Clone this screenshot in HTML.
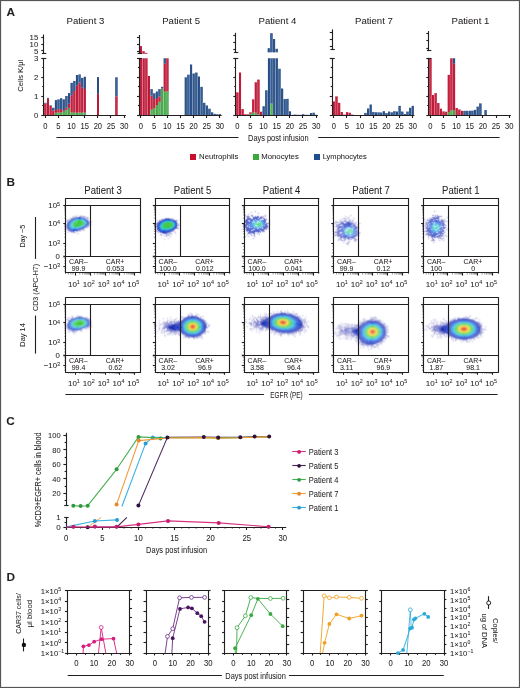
<!DOCTYPE html>
<html><head><meta charset="utf-8"><style>
html,body{margin:0;padding:0;background:#fff;}
svg{display:block;will-change:transform;}
text{font-family:"Liberation Sans", sans-serif;fill:#231f20;stroke:#231f20;stroke-width:0.05px;}
</style></head><body>
<svg width="520" height="688" viewBox="0 0 520 688">
<rect width="520" height="688" fill="#fff"/>
<rect x="0.5" y="0.5" width="519" height="687" fill="none" stroke="#555" stroke-width="1.2"/>
<text x="6.6" y="15.9" font-size="11.8" font-weight="bold" fill="#000">A</text>
<text x="6.4" y="185.6" font-size="11.8" font-weight="bold" fill="#000">B</text>
<text x="6.3" y="425.3" font-size="11.8" font-weight="bold" fill="#000">C</text>
<text x="6.4" y="580.6" font-size="11.8" font-weight="bold" fill="#000">D</text>
<rect x="44.4" y="103.6" width="2" height="11.8" fill="#d42545"/>
<rect x="44.4" y="103.6" width="0.5" height="11.8" fill="#a00c2a"/>
<rect x="46" y="103.6" width="0.4" height="11.8" fill="#a00c2a"/>
<rect x="44.4" y="102.84" width="2" height="0.76" fill="#3565a5"/>
<rect x="44.4" y="102.84" width="0.5" height="0.76" fill="#15315c"/>
<rect x="46" y="102.84" width="0.4" height="0.76" fill="#15315c"/>
<rect x="47.03" y="98.65" width="2" height="16.75" fill="#d42545"/>
<rect x="47.03" y="98.65" width="0.5" height="16.75" fill="#a00c2a"/>
<rect x="48.63" y="98.65" width="0.4" height="16.75" fill="#a00c2a"/>
<rect x="47.03" y="97.89" width="2" height="0.76" fill="#3565a5"/>
<rect x="47.03" y="97.89" width="0.5" height="0.76" fill="#15315c"/>
<rect x="48.63" y="97.89" width="0.4" height="0.76" fill="#15315c"/>
<rect x="49.66" y="105.88" width="2" height="9.52" fill="#d42545"/>
<rect x="49.66" y="105.88" width="0.5" height="9.52" fill="#a00c2a"/>
<rect x="51.26" y="105.88" width="0.4" height="9.52" fill="#a00c2a"/>
<rect x="49.66" y="105.31" width="2" height="0.57" fill="#3565a5"/>
<rect x="49.66" y="105.31" width="0.5" height="0.57" fill="#15315c"/>
<rect x="51.26" y="105.31" width="0.4" height="0.57" fill="#15315c"/>
<rect x="52.29" y="110.64" width="2" height="4.76" fill="#d42545"/>
<rect x="52.29" y="110.64" width="0.5" height="4.76" fill="#a00c2a"/>
<rect x="53.89" y="110.64" width="0.4" height="4.76" fill="#a00c2a"/>
<rect x="52.29" y="107.79" width="2" height="2.85" fill="#3565a5"/>
<rect x="52.29" y="107.79" width="0.5" height="2.85" fill="#15315c"/>
<rect x="53.89" y="107.79" width="0.4" height="2.85" fill="#15315c"/>
<rect x="54.92" y="112.55" width="2" height="2.86" fill="#56b856"/>
<rect x="54.92" y="112.55" width="0.5" height="2.86" fill="#2f8a35"/>
<rect x="56.52" y="112.55" width="0.4" height="2.86" fill="#2f8a35"/>
<rect x="54.92" y="109.88" width="2" height="2.66" fill="#d42545"/>
<rect x="54.92" y="109.88" width="0.5" height="2.66" fill="#a00c2a"/>
<rect x="56.52" y="109.88" width="0.4" height="2.66" fill="#a00c2a"/>
<rect x="54.92" y="100.17" width="2" height="9.71" fill="#3565a5"/>
<rect x="54.92" y="100.17" width="0.5" height="9.71" fill="#15315c"/>
<rect x="56.52" y="100.17" width="0.4" height="9.71" fill="#15315c"/>
<rect x="57.55" y="112.55" width="2" height="2.86" fill="#56b856"/>
<rect x="57.55" y="112.55" width="0.5" height="2.86" fill="#2f8a35"/>
<rect x="59.15" y="112.55" width="0.4" height="2.86" fill="#2f8a35"/>
<rect x="57.55" y="109.12" width="2" height="3.43" fill="#d42545"/>
<rect x="57.55" y="109.12" width="0.5" height="3.43" fill="#a00c2a"/>
<rect x="59.15" y="109.12" width="0.4" height="3.43" fill="#a00c2a"/>
<rect x="57.55" y="99.41" width="2" height="9.71" fill="#3565a5"/>
<rect x="57.55" y="99.41" width="0.5" height="9.71" fill="#15315c"/>
<rect x="59.15" y="99.41" width="0.4" height="9.71" fill="#15315c"/>
<rect x="60.18" y="112.35" width="2" height="3.05" fill="#56b856"/>
<rect x="60.18" y="112.35" width="0.5" height="3.05" fill="#2f8a35"/>
<rect x="61.78" y="112.35" width="0.4" height="3.05" fill="#2f8a35"/>
<rect x="60.18" y="109.12" width="2" height="3.24" fill="#d42545"/>
<rect x="60.18" y="109.12" width="0.5" height="3.24" fill="#a00c2a"/>
<rect x="61.78" y="109.12" width="0.4" height="3.24" fill="#a00c2a"/>
<rect x="60.18" y="98.27" width="2" height="10.85" fill="#3565a5"/>
<rect x="60.18" y="98.27" width="0.5" height="10.85" fill="#15315c"/>
<rect x="61.78" y="98.27" width="0.4" height="10.85" fill="#15315c"/>
<rect x="62.81" y="111.59" width="2" height="3.81" fill="#56b856"/>
<rect x="62.81" y="111.59" width="0.5" height="3.81" fill="#2f8a35"/>
<rect x="64.41" y="111.59" width="0.4" height="3.81" fill="#2f8a35"/>
<rect x="62.81" y="110.64" width="2" height="0.95" fill="#d42545"/>
<rect x="62.81" y="110.64" width="0.5" height="0.95" fill="#a00c2a"/>
<rect x="64.41" y="110.64" width="0.4" height="0.95" fill="#a00c2a"/>
<rect x="62.81" y="99.41" width="2" height="11.23" fill="#3565a5"/>
<rect x="62.81" y="99.41" width="0.5" height="11.23" fill="#15315c"/>
<rect x="64.41" y="99.41" width="0.4" height="11.23" fill="#15315c"/>
<rect x="65.44" y="109.88" width="2" height="5.52" fill="#56b856"/>
<rect x="65.44" y="109.88" width="0.5" height="5.52" fill="#2f8a35"/>
<rect x="67.04" y="109.88" width="0.4" height="5.52" fill="#2f8a35"/>
<rect x="65.44" y="107.79" width="2" height="2.09" fill="#d42545"/>
<rect x="65.44" y="107.79" width="0.5" height="2.09" fill="#a00c2a"/>
<rect x="67.04" y="107.79" width="0.4" height="2.09" fill="#a00c2a"/>
<rect x="65.44" y="95.99" width="2" height="11.8" fill="#3565a5"/>
<rect x="65.44" y="95.99" width="0.5" height="11.8" fill="#15315c"/>
<rect x="67.04" y="95.99" width="0.4" height="11.8" fill="#15315c"/>
<rect x="68.07" y="107.79" width="2" height="7.61" fill="#56b856"/>
<rect x="68.07" y="107.79" width="0.5" height="7.61" fill="#2f8a35"/>
<rect x="69.67" y="107.79" width="0.4" height="7.61" fill="#2f8a35"/>
<rect x="68.07" y="103.6" width="2" height="4.19" fill="#d42545"/>
<rect x="68.07" y="103.6" width="0.5" height="4.19" fill="#a00c2a"/>
<rect x="69.67" y="103.6" width="0.4" height="4.19" fill="#a00c2a"/>
<rect x="68.07" y="93.13" width="2" height="10.47" fill="#3565a5"/>
<rect x="68.07" y="93.13" width="0.5" height="10.47" fill="#15315c"/>
<rect x="69.67" y="93.13" width="0.4" height="10.47" fill="#15315c"/>
<rect x="70.7" y="112.55" width="2" height="2.86" fill="#56b856"/>
<rect x="70.7" y="112.55" width="0.5" height="2.86" fill="#2f8a35"/>
<rect x="72.3" y="112.55" width="0.4" height="2.86" fill="#2f8a35"/>
<rect x="70.7" y="95.22" width="2" height="17.32" fill="#d42545"/>
<rect x="70.7" y="95.22" width="0.5" height="17.32" fill="#a00c2a"/>
<rect x="72.3" y="95.22" width="0.4" height="17.32" fill="#a00c2a"/>
<rect x="70.7" y="82.85" width="2" height="12.37" fill="#3565a5"/>
<rect x="70.7" y="82.85" width="0.5" height="12.37" fill="#15315c"/>
<rect x="72.3" y="82.85" width="0.4" height="12.37" fill="#15315c"/>
<rect x="73.33" y="112.55" width="2" height="2.86" fill="#56b856"/>
<rect x="73.33" y="112.55" width="0.5" height="2.86" fill="#2f8a35"/>
<rect x="74.93" y="112.55" width="0.4" height="2.86" fill="#2f8a35"/>
<rect x="73.33" y="91.04" width="2" height="21.51" fill="#d42545"/>
<rect x="73.33" y="91.04" width="0.5" height="21.51" fill="#a00c2a"/>
<rect x="74.93" y="91.04" width="0.4" height="21.51" fill="#a00c2a"/>
<rect x="73.33" y="80.95" width="2" height="10.09" fill="#3565a5"/>
<rect x="73.33" y="80.95" width="0.5" height="10.09" fill="#15315c"/>
<rect x="74.93" y="80.95" width="0.4" height="10.09" fill="#15315c"/>
<rect x="75.96" y="112.55" width="2" height="2.86" fill="#56b856"/>
<rect x="75.96" y="112.55" width="0.5" height="2.86" fill="#2f8a35"/>
<rect x="77.56" y="112.55" width="0.4" height="2.86" fill="#2f8a35"/>
<rect x="75.96" y="85.52" width="2" height="27.03" fill="#d42545"/>
<rect x="75.96" y="85.52" width="0.5" height="27.03" fill="#a00c2a"/>
<rect x="77.56" y="85.52" width="0.4" height="27.03" fill="#a00c2a"/>
<rect x="75.96" y="75.05" width="2" height="10.47" fill="#3565a5"/>
<rect x="75.96" y="75.05" width="0.5" height="10.47" fill="#15315c"/>
<rect x="77.56" y="75.05" width="0.4" height="10.47" fill="#15315c"/>
<rect x="78.59" y="112.55" width="2" height="2.86" fill="#56b856"/>
<rect x="78.59" y="112.55" width="0.5" height="2.86" fill="#2f8a35"/>
<rect x="80.19" y="112.55" width="0.4" height="2.86" fill="#2f8a35"/>
<rect x="78.59" y="82.66" width="2" height="29.88" fill="#d42545"/>
<rect x="78.59" y="82.66" width="0.5" height="29.88" fill="#a00c2a"/>
<rect x="80.19" y="82.66" width="0.4" height="29.88" fill="#a00c2a"/>
<rect x="78.59" y="74.48" width="2" height="8.18" fill="#3565a5"/>
<rect x="78.59" y="74.48" width="0.5" height="8.18" fill="#15315c"/>
<rect x="80.19" y="74.48" width="0.4" height="8.18" fill="#15315c"/>
<rect x="81.22" y="112.55" width="2" height="2.86" fill="#56b856"/>
<rect x="81.22" y="112.55" width="0.5" height="2.86" fill="#2f8a35"/>
<rect x="82.82" y="112.55" width="0.4" height="2.86" fill="#2f8a35"/>
<rect x="81.22" y="87.42" width="2" height="25.12" fill="#d42545"/>
<rect x="81.22" y="87.42" width="0.5" height="25.12" fill="#a00c2a"/>
<rect x="82.82" y="87.42" width="0.4" height="25.12" fill="#a00c2a"/>
<rect x="81.22" y="77.9" width="2" height="9.52" fill="#3565a5"/>
<rect x="81.22" y="77.9" width="0.5" height="9.52" fill="#15315c"/>
<rect x="82.82" y="77.9" width="0.4" height="9.52" fill="#15315c"/>
<rect x="83.85" y="112.55" width="2" height="2.86" fill="#56b856"/>
<rect x="83.85" y="112.55" width="0.5" height="2.86" fill="#2f8a35"/>
<rect x="85.45" y="112.55" width="0.4" height="2.86" fill="#2f8a35"/>
<rect x="83.85" y="88.94" width="2" height="23.6" fill="#d42545"/>
<rect x="83.85" y="88.94" width="0.5" height="23.6" fill="#a00c2a"/>
<rect x="85.45" y="88.94" width="0.4" height="23.6" fill="#a00c2a"/>
<rect x="83.85" y="76.76" width="2" height="12.18" fill="#3565a5"/>
<rect x="83.85" y="76.76" width="0.5" height="12.18" fill="#15315c"/>
<rect x="85.45" y="76.76" width="0.4" height="12.18" fill="#15315c"/>
<rect x="97" y="93.7" width="2" height="21.7" fill="#d42545"/>
<rect x="97" y="93.7" width="0.5" height="21.7" fill="#a00c2a"/>
<rect x="98.6" y="93.7" width="0.4" height="21.7" fill="#a00c2a"/>
<rect x="97" y="77.14" width="2" height="16.56" fill="#3565a5"/>
<rect x="97" y="77.14" width="0.5" height="16.56" fill="#15315c"/>
<rect x="98.6" y="77.14" width="0.4" height="16.56" fill="#15315c"/>
<rect x="115.41" y="96.37" width="2" height="19.03" fill="#d42545"/>
<rect x="115.41" y="96.37" width="0.5" height="19.03" fill="#a00c2a"/>
<rect x="117.01" y="96.37" width="0.4" height="19.03" fill="#a00c2a"/>
<rect x="115.41" y="77.33" width="2" height="19.03" fill="#3565a5"/>
<rect x="115.41" y="77.33" width="0.5" height="19.03" fill="#15315c"/>
<rect x="117.01" y="77.33" width="0.4" height="19.03" fill="#15315c"/>
<text x="85.4" y="23.95" font-size="9.9" text-anchor="middle" textLength="37.8" lengthAdjust="spacingAndGlyphs">Patient 3</text>
<line x1="43.5" y1="58.3" x2="43.5" y2="115.9" stroke="#231f20" stroke-width="1.12"/>
<line x1="41.9" y1="58.5" x2="46.3" y2="58.5" stroke="#231f20" stroke-width="1.12"/>
<line x1="41.3" y1="115.5" x2="43.9" y2="115.5" stroke="#231f20" stroke-width="1.12"/>
<line x1="41.3" y1="96.5" x2="43.9" y2="96.5" stroke="#231f20" stroke-width="1.12"/>
<line x1="41.3" y1="77.5" x2="43.9" y2="77.5" stroke="#231f20" stroke-width="1.12"/>
<line x1="41.3" y1="58.5" x2="43.9" y2="58.5" stroke="#231f20" stroke-width="1.12"/>
<line x1="42.2" y1="105.5" x2="43.9" y2="105.5" stroke="#231f20" stroke-width="1.12"/>
<line x1="42.2" y1="86.5" x2="43.9" y2="86.5" stroke="#231f20" stroke-width="1.12"/>
<line x1="42.2" y1="67.5" x2="43.9" y2="67.5" stroke="#231f20" stroke-width="1.12"/>
<line x1="43.5" y1="34.5" x2="43.5" y2="53.4" stroke="#231f20" stroke-width="1.12"/>
<line x1="41.9" y1="53.5" x2="46.3" y2="53.5" stroke="#231f20" stroke-width="1.12"/>
<line x1="41.3" y1="37.5" x2="43.9" y2="37.5" stroke="#231f20" stroke-width="1.12"/>
<line x1="41.3" y1="44.5" x2="43.9" y2="44.5" stroke="#231f20" stroke-width="1.12"/>
<line x1="41.3" y1="50.5" x2="43.9" y2="50.5" stroke="#231f20" stroke-width="1.12"/>
<line x1="43.9" y1="115.5" x2="125.9" y2="115.5" stroke="#231f20" stroke-width="1.12"/>
<line x1="45.5" y1="115.4" x2="45.5" y2="118" stroke="#231f20" stroke-width="1.12"/>
<text x="45.25" y="128.6" font-size="8.6" text-anchor="middle" textLength="4.23" lengthAdjust="spacingAndGlyphs">0</text>
<line x1="58.5" y1="115.4" x2="58.5" y2="118" stroke="#231f20" stroke-width="1.12"/>
<text x="58.4" y="128.6" font-size="8.6" text-anchor="middle" textLength="4.23" lengthAdjust="spacingAndGlyphs">5</text>
<line x1="71.5" y1="115.4" x2="71.5" y2="118" stroke="#231f20" stroke-width="1.12"/>
<text x="71.55" y="128.6" font-size="8.6" text-anchor="middle" textLength="8.45" lengthAdjust="spacingAndGlyphs">10</text>
<line x1="84.5" y1="115.4" x2="84.5" y2="118" stroke="#231f20" stroke-width="1.12"/>
<text x="84.7" y="128.6" font-size="8.6" text-anchor="middle" textLength="8.45" lengthAdjust="spacingAndGlyphs">15</text>
<line x1="97.5" y1="115.4" x2="97.5" y2="118" stroke="#231f20" stroke-width="1.12"/>
<text x="97.85" y="128.6" font-size="8.6" text-anchor="middle" textLength="8.45" lengthAdjust="spacingAndGlyphs">20</text>
<line x1="110.5" y1="115.4" x2="110.5" y2="118" stroke="#231f20" stroke-width="1.12"/>
<text x="111" y="128.6" font-size="8.6" text-anchor="middle" textLength="8.45" lengthAdjust="spacingAndGlyphs">25</text>
<line x1="124.5" y1="115.4" x2="124.5" y2="118" stroke="#231f20" stroke-width="1.12"/>
<text x="124.15" y="128.6" font-size="8.6" text-anchor="middle" textLength="8.45" lengthAdjust="spacingAndGlyphs">30</text>
<text x="38.3" y="39.85" font-size="7.8" text-anchor="end">15</text>
<text x="38.3" y="46.95" font-size="7.8" text-anchor="end">10</text>
<text x="38.3" y="53.65" font-size="7.8" text-anchor="end">5</text>
<text x="38.3" y="61.05" font-size="7.8" text-anchor="end">3</text>
<text x="38.3" y="80.08" font-size="7.8" text-anchor="end">2</text>
<text x="38.3" y="99.12" font-size="7.8" text-anchor="end">1</text>
<text x="38.3" y="118.15" font-size="7.8" text-anchor="end">0</text>
<text transform="translate(23.3,75.7) rotate(-90)" x="0" y="0" font-size="7.6" text-anchor="middle" textLength="32" lengthAdjust="spacingAndGlyphs">Cells K/μl</text>
<rect x="140.1" y="58.3" width="2" height="57.1" fill="#d42545"/>
<rect x="140.1" y="58.3" width="0.5" height="57.1" fill="#a00c2a"/>
<rect x="141.7" y="58.3" width="0.4" height="57.1" fill="#a00c2a"/>
<rect x="142.73" y="58.3" width="2" height="57.1" fill="#d42545"/>
<rect x="142.73" y="58.3" width="0.5" height="57.1" fill="#a00c2a"/>
<rect x="144.33" y="58.3" width="0.4" height="57.1" fill="#a00c2a"/>
<rect x="145.36" y="58.3" width="2" height="57.1" fill="#d42545"/>
<rect x="145.36" y="58.3" width="0.5" height="57.1" fill="#a00c2a"/>
<rect x="146.96" y="58.3" width="0.4" height="57.1" fill="#a00c2a"/>
<rect x="147.99" y="76" width="2" height="39.4" fill="#d42545"/>
<rect x="147.99" y="76" width="0.5" height="39.4" fill="#a00c2a"/>
<rect x="149.59" y="76" width="0.4" height="39.4" fill="#a00c2a"/>
<rect x="150.62" y="109.69" width="2" height="5.71" fill="#56b856"/>
<rect x="150.62" y="109.69" width="0.5" height="5.71" fill="#2f8a35"/>
<rect x="152.22" y="109.69" width="0.4" height="5.71" fill="#2f8a35"/>
<rect x="150.62" y="95.61" width="2" height="14.08" fill="#d42545"/>
<rect x="150.62" y="95.61" width="0.5" height="14.08" fill="#a00c2a"/>
<rect x="152.22" y="95.61" width="0.4" height="14.08" fill="#a00c2a"/>
<rect x="150.62" y="89.13" width="2" height="6.47" fill="#3565a5"/>
<rect x="150.62" y="89.13" width="0.5" height="6.47" fill="#15315c"/>
<rect x="152.22" y="89.13" width="0.4" height="6.47" fill="#15315c"/>
<rect x="153.25" y="108.17" width="2" height="7.23" fill="#56b856"/>
<rect x="153.25" y="108.17" width="0.5" height="7.23" fill="#2f8a35"/>
<rect x="154.85" y="108.17" width="0.4" height="7.23" fill="#2f8a35"/>
<rect x="153.25" y="99.03" width="2" height="9.14" fill="#d42545"/>
<rect x="153.25" y="99.03" width="0.5" height="9.14" fill="#a00c2a"/>
<rect x="154.85" y="99.03" width="0.4" height="9.14" fill="#a00c2a"/>
<rect x="153.25" y="93.32" width="2" height="5.71" fill="#3565a5"/>
<rect x="153.25" y="93.32" width="0.5" height="5.71" fill="#15315c"/>
<rect x="154.85" y="93.32" width="0.4" height="5.71" fill="#15315c"/>
<rect x="155.88" y="105.12" width="2" height="10.28" fill="#56b856"/>
<rect x="155.88" y="105.12" width="0.5" height="10.28" fill="#2f8a35"/>
<rect x="157.48" y="105.12" width="0.4" height="10.28" fill="#2f8a35"/>
<rect x="155.88" y="98.08" width="2" height="7.04" fill="#d42545"/>
<rect x="155.88" y="98.08" width="0.5" height="7.04" fill="#a00c2a"/>
<rect x="157.48" y="98.08" width="0.4" height="7.04" fill="#a00c2a"/>
<rect x="155.88" y="91.61" width="2" height="6.47" fill="#3565a5"/>
<rect x="155.88" y="91.61" width="0.5" height="6.47" fill="#15315c"/>
<rect x="157.48" y="91.61" width="0.4" height="6.47" fill="#15315c"/>
<rect x="158.51" y="101.89" width="2" height="13.51" fill="#56b856"/>
<rect x="158.51" y="101.89" width="0.5" height="13.51" fill="#2f8a35"/>
<rect x="160.11" y="101.89" width="0.4" height="13.51" fill="#2f8a35"/>
<rect x="158.51" y="96.37" width="2" height="5.52" fill="#d42545"/>
<rect x="158.51" y="96.37" width="0.5" height="5.52" fill="#a00c2a"/>
<rect x="160.11" y="96.37" width="0.4" height="5.52" fill="#a00c2a"/>
<rect x="158.51" y="89.13" width="2" height="7.23" fill="#3565a5"/>
<rect x="158.51" y="89.13" width="0.5" height="7.23" fill="#15315c"/>
<rect x="160.11" y="89.13" width="0.4" height="7.23" fill="#15315c"/>
<rect x="161.14" y="88.37" width="2" height="27.03" fill="#56b856"/>
<rect x="161.14" y="88.37" width="0.5" height="27.03" fill="#2f8a35"/>
<rect x="162.74" y="88.37" width="0.4" height="27.03" fill="#2f8a35"/>
<rect x="161.14" y="86.85" width="2" height="1.52" fill="#3565a5"/>
<rect x="161.14" y="86.85" width="0.5" height="1.52" fill="#15315c"/>
<rect x="162.74" y="86.85" width="0.4" height="1.52" fill="#15315c"/>
<rect x="163.77" y="91.42" width="2" height="23.98" fill="#56b856"/>
<rect x="163.77" y="91.42" width="0.5" height="23.98" fill="#2f8a35"/>
<rect x="165.37" y="91.42" width="0.4" height="23.98" fill="#2f8a35"/>
<rect x="163.77" y="63.63" width="2" height="27.79" fill="#d42545"/>
<rect x="163.77" y="63.63" width="0.5" height="27.79" fill="#a00c2a"/>
<rect x="165.37" y="63.63" width="0.4" height="27.79" fill="#a00c2a"/>
<rect x="163.77" y="58.3" width="2" height="5.33" fill="#3565a5"/>
<rect x="163.77" y="58.3" width="0.5" height="5.33" fill="#15315c"/>
<rect x="165.37" y="58.3" width="0.4" height="5.33" fill="#15315c"/>
<rect x="166.4" y="91.42" width="2" height="23.98" fill="#56b856"/>
<rect x="166.4" y="91.42" width="0.5" height="23.98" fill="#2f8a35"/>
<rect x="168" y="91.42" width="0.4" height="23.98" fill="#2f8a35"/>
<rect x="166.4" y="58.3" width="2" height="33.12" fill="#d42545"/>
<rect x="166.4" y="58.3" width="0.5" height="33.12" fill="#a00c2a"/>
<rect x="168" y="58.3" width="0.4" height="33.12" fill="#a00c2a"/>
<rect x="184.81" y="77.33" width="2" height="38.07" fill="#3565a5"/>
<rect x="184.81" y="77.33" width="0.5" height="38.07" fill="#15315c"/>
<rect x="186.41" y="77.33" width="0.4" height="38.07" fill="#15315c"/>
<rect x="187.44" y="74.67" width="2" height="40.73" fill="#3565a5"/>
<rect x="187.44" y="74.67" width="0.5" height="40.73" fill="#15315c"/>
<rect x="189.04" y="74.67" width="0.4" height="40.73" fill="#15315c"/>
<rect x="190.07" y="64.58" width="2" height="50.82" fill="#3565a5"/>
<rect x="190.07" y="64.58" width="0.5" height="50.82" fill="#15315c"/>
<rect x="191.67" y="64.58" width="0.4" height="50.82" fill="#15315c"/>
<rect x="192.7" y="73.53" width="2" height="41.87" fill="#3565a5"/>
<rect x="192.7" y="73.53" width="0.5" height="41.87" fill="#15315c"/>
<rect x="194.3" y="73.53" width="0.4" height="41.87" fill="#15315c"/>
<rect x="195.33" y="72.58" width="2" height="42.83" fill="#3565a5"/>
<rect x="195.33" y="72.58" width="0.5" height="42.83" fill="#15315c"/>
<rect x="196.93" y="72.58" width="0.4" height="42.83" fill="#15315c"/>
<rect x="197.96" y="76.57" width="2" height="38.83" fill="#3565a5"/>
<rect x="197.96" y="76.57" width="0.5" height="38.83" fill="#15315c"/>
<rect x="199.56" y="76.57" width="0.4" height="38.83" fill="#15315c"/>
<rect x="200.59" y="86.85" width="2" height="28.55" fill="#3565a5"/>
<rect x="200.59" y="86.85" width="0.5" height="28.55" fill="#15315c"/>
<rect x="202.19" y="86.85" width="0.4" height="28.55" fill="#15315c"/>
<rect x="203.22" y="102.84" width="2" height="12.56" fill="#3565a5"/>
<rect x="203.22" y="102.84" width="0.5" height="12.56" fill="#15315c"/>
<rect x="204.82" y="102.84" width="0.4" height="12.56" fill="#15315c"/>
<rect x="205.85" y="105.5" width="2" height="9.9" fill="#3565a5"/>
<rect x="205.85" y="105.5" width="0.5" height="9.9" fill="#15315c"/>
<rect x="207.45" y="105.5" width="0.4" height="9.9" fill="#15315c"/>
<rect x="208.48" y="108.74" width="2" height="6.66" fill="#3565a5"/>
<rect x="208.48" y="108.74" width="0.5" height="6.66" fill="#15315c"/>
<rect x="210.08" y="108.74" width="0.4" height="6.66" fill="#15315c"/>
<rect x="211.11" y="112.35" width="2" height="3.05" fill="#3565a5"/>
<rect x="211.11" y="112.35" width="0.5" height="3.05" fill="#15315c"/>
<rect x="212.71" y="112.35" width="0.4" height="3.05" fill="#15315c"/>
<rect x="213.74" y="113.88" width="2" height="1.52" fill="#3565a5"/>
<rect x="213.74" y="113.88" width="0.5" height="1.52" fill="#15315c"/>
<rect x="215.34" y="113.88" width="0.4" height="1.52" fill="#15315c"/>
<rect x="216.37" y="114.26" width="2" height="1.14" fill="#3565a5"/>
<rect x="216.37" y="114.26" width="0.5" height="1.14" fill="#15315c"/>
<rect x="217.97" y="114.26" width="0.4" height="1.14" fill="#15315c"/>
<rect x="219" y="114.26" width="2" height="1.14" fill="#3565a5"/>
<rect x="219" y="114.26" width="0.5" height="1.14" fill="#15315c"/>
<rect x="220.6" y="114.26" width="0.4" height="1.14" fill="#15315c"/>
<rect x="139.95" y="46.2" width="2" height="7.6" fill="#d42545"/>
<rect x="139.95" y="46.2" width="0.5" height="7.6" fill="#a00c2a"/>
<rect x="141.55" y="46.2" width="0.4" height="7.6" fill="#a00c2a"/>
<rect x="142.58" y="51.2" width="2" height="2.6" fill="#d42545"/>
<rect x="142.58" y="51.2" width="0.5" height="2.6" fill="#a00c2a"/>
<rect x="144.18" y="51.2" width="0.4" height="2.6" fill="#a00c2a"/>
<rect x="145.21" y="52.9" width="2" height="0.9" fill="#d42545"/>
<rect x="145.21" y="52.9" width="0.5" height="0.9" fill="#a00c2a"/>
<rect x="146.81" y="52.9" width="0.4" height="0.9" fill="#a00c2a"/>
<text x="181.1" y="23.95" font-size="9.9" text-anchor="middle" textLength="37.8" lengthAdjust="spacingAndGlyphs">Patient 5</text>
<line x1="139.5" y1="58.3" x2="139.5" y2="115.9" stroke="#231f20" stroke-width="1.12"/>
<line x1="137.6" y1="58.5" x2="142" y2="58.5" stroke="#231f20" stroke-width="1.12"/>
<line x1="137" y1="115.5" x2="139.6" y2="115.5" stroke="#231f20" stroke-width="1.12"/>
<line x1="137" y1="96.5" x2="139.6" y2="96.5" stroke="#231f20" stroke-width="1.12"/>
<line x1="137" y1="77.5" x2="139.6" y2="77.5" stroke="#231f20" stroke-width="1.12"/>
<line x1="137" y1="58.5" x2="139.6" y2="58.5" stroke="#231f20" stroke-width="1.12"/>
<line x1="137.9" y1="105.5" x2="139.6" y2="105.5" stroke="#231f20" stroke-width="1.12"/>
<line x1="137.9" y1="86.5" x2="139.6" y2="86.5" stroke="#231f20" stroke-width="1.12"/>
<line x1="137.9" y1="67.5" x2="139.6" y2="67.5" stroke="#231f20" stroke-width="1.12"/>
<line x1="139.5" y1="35" x2="139.5" y2="53.8" stroke="#231f20" stroke-width="1.12"/>
<line x1="137.6" y1="53.5" x2="142" y2="53.5" stroke="#231f20" stroke-width="1.12"/>
<line x1="137" y1="37.5" x2="139.6" y2="37.5" stroke="#231f20" stroke-width="1.12"/>
<line x1="137" y1="44.5" x2="139.6" y2="44.5" stroke="#231f20" stroke-width="1.12"/>
<line x1="137" y1="51.5" x2="139.6" y2="51.5" stroke="#231f20" stroke-width="1.12"/>
<line x1="139.6" y1="115.5" x2="221.6" y2="115.5" stroke="#231f20" stroke-width="1.12"/>
<line x1="140.5" y1="115.4" x2="140.5" y2="118" stroke="#231f20" stroke-width="1.12"/>
<text x="140.95" y="128.6" font-size="8.6" text-anchor="middle" textLength="4.23" lengthAdjust="spacingAndGlyphs">0</text>
<line x1="154.5" y1="115.4" x2="154.5" y2="118" stroke="#231f20" stroke-width="1.12"/>
<text x="154.1" y="128.6" font-size="8.6" text-anchor="middle" textLength="4.23" lengthAdjust="spacingAndGlyphs">5</text>
<line x1="167.5" y1="115.4" x2="167.5" y2="118" stroke="#231f20" stroke-width="1.12"/>
<text x="167.25" y="128.6" font-size="8.6" text-anchor="middle" textLength="8.45" lengthAdjust="spacingAndGlyphs">10</text>
<line x1="180.5" y1="115.4" x2="180.5" y2="118" stroke="#231f20" stroke-width="1.12"/>
<text x="180.4" y="128.6" font-size="8.6" text-anchor="middle" textLength="8.45" lengthAdjust="spacingAndGlyphs">15</text>
<line x1="193.5" y1="115.4" x2="193.5" y2="118" stroke="#231f20" stroke-width="1.12"/>
<text x="193.55" y="128.6" font-size="8.6" text-anchor="middle" textLength="8.45" lengthAdjust="spacingAndGlyphs">20</text>
<line x1="206.5" y1="115.4" x2="206.5" y2="118" stroke="#231f20" stroke-width="1.12"/>
<text x="206.7" y="128.6" font-size="8.6" text-anchor="middle" textLength="8.45" lengthAdjust="spacingAndGlyphs">25</text>
<line x1="219.5" y1="115.4" x2="219.5" y2="118" stroke="#231f20" stroke-width="1.12"/>
<text x="219.85" y="128.6" font-size="8.6" text-anchor="middle" textLength="8.45" lengthAdjust="spacingAndGlyphs">30</text>
<rect x="236.4" y="92.37" width="2" height="23.03" fill="#d42545"/>
<rect x="236.4" y="92.37" width="0.5" height="23.03" fill="#a00c2a"/>
<rect x="238" y="92.37" width="0.4" height="23.03" fill="#a00c2a"/>
<rect x="239.03" y="72.58" width="2" height="42.83" fill="#d42545"/>
<rect x="239.03" y="72.58" width="0.5" height="42.83" fill="#a00c2a"/>
<rect x="240.63" y="72.58" width="0.4" height="42.83" fill="#a00c2a"/>
<rect x="241.66" y="109.12" width="2" height="6.28" fill="#d42545"/>
<rect x="241.66" y="109.12" width="0.5" height="6.28" fill="#a00c2a"/>
<rect x="243.26" y="109.12" width="0.4" height="6.28" fill="#a00c2a"/>
<rect x="244.29" y="114.26" width="2" height="1.14" fill="#d42545"/>
<rect x="244.29" y="114.26" width="0.5" height="1.14" fill="#a00c2a"/>
<rect x="245.89" y="114.26" width="0.4" height="1.14" fill="#a00c2a"/>
<rect x="246.92" y="114.45" width="2" height="0.95" fill="#d42545"/>
<rect x="246.92" y="114.45" width="0.5" height="0.95" fill="#a00c2a"/>
<rect x="248.52" y="114.45" width="0.4" height="0.95" fill="#a00c2a"/>
<rect x="249.55" y="113.88" width="2" height="1.52" fill="#56b856"/>
<rect x="249.55" y="113.88" width="0.5" height="1.52" fill="#2f8a35"/>
<rect x="251.15" y="113.88" width="0.4" height="1.52" fill="#2f8a35"/>
<rect x="249.55" y="112.35" width="2" height="1.52" fill="#d42545"/>
<rect x="249.55" y="112.35" width="0.5" height="1.52" fill="#a00c2a"/>
<rect x="251.15" y="112.35" width="0.4" height="1.52" fill="#a00c2a"/>
<rect x="252.18" y="112.55" width="2" height="2.86" fill="#56b856"/>
<rect x="252.18" y="112.55" width="0.5" height="2.86" fill="#2f8a35"/>
<rect x="253.78" y="112.55" width="0.4" height="2.86" fill="#2f8a35"/>
<rect x="252.18" y="99.41" width="2" height="13.13" fill="#d42545"/>
<rect x="252.18" y="99.41" width="0.5" height="13.13" fill="#a00c2a"/>
<rect x="253.78" y="99.41" width="0.4" height="13.13" fill="#a00c2a"/>
<rect x="254.81" y="112.55" width="2" height="2.86" fill="#56b856"/>
<rect x="254.81" y="112.55" width="0.5" height="2.86" fill="#2f8a35"/>
<rect x="256.41" y="112.55" width="0.4" height="2.86" fill="#2f8a35"/>
<rect x="254.81" y="82.28" width="2" height="30.26" fill="#d42545"/>
<rect x="254.81" y="82.28" width="0.5" height="30.26" fill="#a00c2a"/>
<rect x="256.41" y="82.28" width="0.4" height="30.26" fill="#a00c2a"/>
<rect x="257.44" y="114.45" width="2" height="0.95" fill="#56b856"/>
<rect x="257.44" y="114.45" width="0.5" height="0.95" fill="#2f8a35"/>
<rect x="259.04" y="114.45" width="0.4" height="0.95" fill="#2f8a35"/>
<rect x="257.44" y="79.62" width="2" height="34.83" fill="#d42545"/>
<rect x="257.44" y="79.62" width="0.5" height="34.83" fill="#a00c2a"/>
<rect x="259.04" y="79.62" width="0.4" height="34.83" fill="#a00c2a"/>
<rect x="260.07" y="111.78" width="2" height="3.62" fill="#d42545"/>
<rect x="260.07" y="111.78" width="0.5" height="3.62" fill="#a00c2a"/>
<rect x="261.67" y="111.78" width="0.4" height="3.62" fill="#a00c2a"/>
<rect x="262.7" y="106.26" width="2" height="9.14" fill="#3565a5"/>
<rect x="262.7" y="106.26" width="0.5" height="9.14" fill="#15315c"/>
<rect x="264.3" y="106.26" width="0.4" height="9.14" fill="#15315c"/>
<rect x="265.33" y="90.28" width="2" height="25.12" fill="#3565a5"/>
<rect x="265.33" y="90.28" width="0.5" height="25.12" fill="#15315c"/>
<rect x="266.93" y="90.28" width="0.4" height="25.12" fill="#15315c"/>
<rect x="267.96" y="58.3" width="2" height="57.1" fill="#3565a5"/>
<rect x="267.96" y="58.3" width="0.5" height="57.1" fill="#15315c"/>
<rect x="269.56" y="58.3" width="0.4" height="57.1" fill="#15315c"/>
<rect x="270.59" y="103.6" width="2" height="11.8" fill="#56b856"/>
<rect x="270.59" y="103.6" width="0.5" height="11.8" fill="#2f8a35"/>
<rect x="272.19" y="103.6" width="0.4" height="11.8" fill="#2f8a35"/>
<rect x="270.59" y="58.3" width="2" height="45.3" fill="#3565a5"/>
<rect x="270.59" y="58.3" width="0.5" height="45.3" fill="#15315c"/>
<rect x="272.19" y="58.3" width="0.4" height="45.3" fill="#15315c"/>
<rect x="273.22" y="58.3" width="2" height="57.1" fill="#3565a5"/>
<rect x="273.22" y="58.3" width="0.5" height="57.1" fill="#15315c"/>
<rect x="274.82" y="58.3" width="0.4" height="57.1" fill="#15315c"/>
<rect x="275.85" y="58.3" width="2" height="57.1" fill="#3565a5"/>
<rect x="275.85" y="58.3" width="0.5" height="57.1" fill="#15315c"/>
<rect x="277.45" y="58.3" width="0.4" height="57.1" fill="#15315c"/>
<rect x="278.48" y="68.77" width="2" height="46.63" fill="#3565a5"/>
<rect x="278.48" y="68.77" width="0.5" height="46.63" fill="#15315c"/>
<rect x="280.08" y="68.77" width="0.4" height="46.63" fill="#15315c"/>
<rect x="281.11" y="88.56" width="2" height="26.84" fill="#3565a5"/>
<rect x="281.11" y="88.56" width="0.5" height="26.84" fill="#15315c"/>
<rect x="282.71" y="88.56" width="0.4" height="26.84" fill="#15315c"/>
<rect x="283.74" y="99.03" width="2" height="16.37" fill="#3565a5"/>
<rect x="283.74" y="99.03" width="0.5" height="16.37" fill="#15315c"/>
<rect x="285.34" y="99.03" width="0.4" height="16.37" fill="#15315c"/>
<rect x="286.37" y="98.84" width="2" height="16.56" fill="#3565a5"/>
<rect x="286.37" y="98.84" width="0.5" height="16.56" fill="#15315c"/>
<rect x="287.97" y="98.84" width="0.4" height="16.56" fill="#15315c"/>
<rect x="289" y="111.4" width="2" height="4" fill="#3565a5"/>
<rect x="289" y="111.4" width="0.5" height="4" fill="#15315c"/>
<rect x="290.6" y="111.4" width="0.4" height="4" fill="#15315c"/>
<rect x="291.63" y="114.83" width="2" height="0.57" fill="#3565a5"/>
<rect x="291.63" y="114.83" width="0.5" height="0.57" fill="#15315c"/>
<rect x="293.23" y="114.83" width="0.4" height="0.57" fill="#15315c"/>
<rect x="294.26" y="114.64" width="2" height="0.76" fill="#3565a5"/>
<rect x="294.26" y="114.64" width="0.5" height="0.76" fill="#15315c"/>
<rect x="295.86" y="114.64" width="0.4" height="0.76" fill="#15315c"/>
<rect x="296.89" y="114.83" width="2" height="0.57" fill="#3565a5"/>
<rect x="296.89" y="114.83" width="0.5" height="0.57" fill="#15315c"/>
<rect x="298.49" y="114.83" width="0.4" height="0.57" fill="#15315c"/>
<rect x="299.52" y="114.83" width="2" height="0.57" fill="#3565a5"/>
<rect x="299.52" y="114.83" width="0.5" height="0.57" fill="#15315c"/>
<rect x="301.12" y="114.83" width="0.4" height="0.57" fill="#15315c"/>
<rect x="302.15" y="114.26" width="2" height="1.14" fill="#3565a5"/>
<rect x="302.15" y="114.26" width="0.5" height="1.14" fill="#15315c"/>
<rect x="303.75" y="114.26" width="0.4" height="1.14" fill="#15315c"/>
<rect x="304.78" y="114.83" width="2" height="0.57" fill="#3565a5"/>
<rect x="304.78" y="114.83" width="0.5" height="0.57" fill="#15315c"/>
<rect x="306.38" y="114.83" width="0.4" height="0.57" fill="#15315c"/>
<rect x="307.41" y="114.83" width="2" height="0.57" fill="#3565a5"/>
<rect x="307.41" y="114.83" width="0.5" height="0.57" fill="#15315c"/>
<rect x="309.01" y="114.83" width="0.4" height="0.57" fill="#15315c"/>
<rect x="310.04" y="113.12" width="2" height="2.28" fill="#3565a5"/>
<rect x="310.04" y="113.12" width="0.5" height="2.28" fill="#15315c"/>
<rect x="311.64" y="113.12" width="0.4" height="2.28" fill="#15315c"/>
<rect x="312.67" y="112.74" width="2" height="2.66" fill="#3565a5"/>
<rect x="312.67" y="112.74" width="0.5" height="2.66" fill="#15315c"/>
<rect x="314.27" y="112.74" width="0.4" height="2.66" fill="#15315c"/>
<rect x="315.3" y="114.83" width="2" height="0.57" fill="#3565a5"/>
<rect x="315.3" y="114.83" width="0.5" height="0.57" fill="#15315c"/>
<rect x="316.9" y="114.83" width="0.4" height="0.57" fill="#15315c"/>
<rect x="267.81" y="48.2" width="2" height="4.1" fill="#3565a5"/>
<rect x="267.81" y="48.2" width="0.5" height="4.1" fill="#15315c"/>
<rect x="269.41" y="48.2" width="0.4" height="4.1" fill="#15315c"/>
<rect x="270.44" y="33.2" width="2" height="19.1" fill="#3565a5"/>
<rect x="270.44" y="33.2" width="0.5" height="19.1" fill="#15315c"/>
<rect x="272.04" y="33.2" width="0.4" height="19.1" fill="#15315c"/>
<rect x="273.07" y="39" width="2" height="13.3" fill="#3565a5"/>
<rect x="273.07" y="39" width="0.5" height="13.3" fill="#15315c"/>
<rect x="274.67" y="39" width="0.4" height="13.3" fill="#15315c"/>
<rect x="275.7" y="48.8" width="2" height="3.5" fill="#3565a5"/>
<rect x="275.7" y="48.8" width="0.5" height="3.5" fill="#15315c"/>
<rect x="277.3" y="48.8" width="0.4" height="3.5" fill="#15315c"/>
<text x="277.4" y="23.95" font-size="9.9" text-anchor="middle" textLength="37.8" lengthAdjust="spacingAndGlyphs">Patient 4</text>
<line x1="235.5" y1="58.3" x2="235.5" y2="115.9" stroke="#231f20" stroke-width="1.12"/>
<line x1="233.9" y1="58.5" x2="238.3" y2="58.5" stroke="#231f20" stroke-width="1.12"/>
<line x1="233.3" y1="115.5" x2="235.9" y2="115.5" stroke="#231f20" stroke-width="1.12"/>
<line x1="233.3" y1="96.5" x2="235.9" y2="96.5" stroke="#231f20" stroke-width="1.12"/>
<line x1="233.3" y1="77.5" x2="235.9" y2="77.5" stroke="#231f20" stroke-width="1.12"/>
<line x1="233.3" y1="58.5" x2="235.9" y2="58.5" stroke="#231f20" stroke-width="1.12"/>
<line x1="234.2" y1="105.5" x2="235.9" y2="105.5" stroke="#231f20" stroke-width="1.12"/>
<line x1="234.2" y1="86.5" x2="235.9" y2="86.5" stroke="#231f20" stroke-width="1.12"/>
<line x1="234.2" y1="67.5" x2="235.9" y2="67.5" stroke="#231f20" stroke-width="1.12"/>
<line x1="235.5" y1="32.8" x2="235.5" y2="52.3" stroke="#231f20" stroke-width="1.12"/>
<line x1="233.9" y1="52.5" x2="238.3" y2="52.5" stroke="#231f20" stroke-width="1.12"/>
<line x1="233.3" y1="35.5" x2="235.9" y2="35.5" stroke="#231f20" stroke-width="1.12"/>
<line x1="233.3" y1="42.5" x2="235.9" y2="42.5" stroke="#231f20" stroke-width="1.12"/>
<line x1="233.3" y1="49.5" x2="235.9" y2="49.5" stroke="#231f20" stroke-width="1.12"/>
<line x1="235.9" y1="115.5" x2="317.9" y2="115.5" stroke="#231f20" stroke-width="1.12"/>
<line x1="237.5" y1="115.4" x2="237.5" y2="118" stroke="#231f20" stroke-width="1.12"/>
<text x="237.25" y="128.6" font-size="8.6" text-anchor="middle" textLength="4.23" lengthAdjust="spacingAndGlyphs">0</text>
<line x1="250.5" y1="115.4" x2="250.5" y2="118" stroke="#231f20" stroke-width="1.12"/>
<text x="250.4" y="128.6" font-size="8.6" text-anchor="middle" textLength="4.23" lengthAdjust="spacingAndGlyphs">5</text>
<line x1="263.5" y1="115.4" x2="263.5" y2="118" stroke="#231f20" stroke-width="1.12"/>
<text x="263.55" y="128.6" font-size="8.6" text-anchor="middle" textLength="8.45" lengthAdjust="spacingAndGlyphs">10</text>
<line x1="276.5" y1="115.4" x2="276.5" y2="118" stroke="#231f20" stroke-width="1.12"/>
<text x="276.7" y="128.6" font-size="8.6" text-anchor="middle" textLength="8.45" lengthAdjust="spacingAndGlyphs">15</text>
<line x1="289.5" y1="115.4" x2="289.5" y2="118" stroke="#231f20" stroke-width="1.12"/>
<text x="289.85" y="128.6" font-size="8.6" text-anchor="middle" textLength="8.45" lengthAdjust="spacingAndGlyphs">20</text>
<line x1="302.5" y1="115.4" x2="302.5" y2="118" stroke="#231f20" stroke-width="1.12"/>
<text x="303" y="128.6" font-size="8.6" text-anchor="middle" textLength="8.45" lengthAdjust="spacingAndGlyphs">25</text>
<line x1="316.5" y1="115.4" x2="316.5" y2="118" stroke="#231f20" stroke-width="1.12"/>
<text x="316.15" y="128.6" font-size="8.6" text-anchor="middle" textLength="8.45" lengthAdjust="spacingAndGlyphs">30</text>
<rect x="332.9" y="101.51" width="2" height="13.89" fill="#d42545"/>
<rect x="332.9" y="101.51" width="0.5" height="13.89" fill="#a00c2a"/>
<rect x="334.5" y="101.51" width="0.4" height="13.89" fill="#a00c2a"/>
<rect x="335.53" y="96.37" width="2" height="19.03" fill="#d42545"/>
<rect x="335.53" y="96.37" width="0.5" height="19.03" fill="#a00c2a"/>
<rect x="337.13" y="96.37" width="0.4" height="19.03" fill="#a00c2a"/>
<rect x="338.16" y="102.84" width="2" height="12.56" fill="#d42545"/>
<rect x="338.16" y="102.84" width="0.5" height="12.56" fill="#a00c2a"/>
<rect x="339.76" y="102.84" width="0.4" height="12.56" fill="#a00c2a"/>
<rect x="340.79" y="111.97" width="2" height="3.43" fill="#d42545"/>
<rect x="340.79" y="111.97" width="0.5" height="3.43" fill="#a00c2a"/>
<rect x="342.39" y="111.97" width="0.4" height="3.43" fill="#a00c2a"/>
<rect x="343.42" y="114.64" width="2" height="0.76" fill="#d42545"/>
<rect x="343.42" y="114.64" width="0.5" height="0.76" fill="#a00c2a"/>
<rect x="345.02" y="114.64" width="0.4" height="0.76" fill="#a00c2a"/>
<rect x="346.05" y="112.16" width="2" height="3.24" fill="#d42545"/>
<rect x="346.05" y="112.16" width="0.5" height="3.24" fill="#a00c2a"/>
<rect x="347.65" y="112.16" width="0.4" height="3.24" fill="#a00c2a"/>
<rect x="348.68" y="112.74" width="2" height="2.66" fill="#d42545"/>
<rect x="348.68" y="112.74" width="0.5" height="2.66" fill="#a00c2a"/>
<rect x="350.28" y="112.74" width="0.4" height="2.66" fill="#a00c2a"/>
<rect x="351.31" y="114.64" width="2" height="0.76" fill="#d42545"/>
<rect x="351.31" y="114.64" width="0.5" height="0.76" fill="#a00c2a"/>
<rect x="352.91" y="114.64" width="0.4" height="0.76" fill="#a00c2a"/>
<rect x="353.94" y="115.02" width="2" height="0.38" fill="#d42545"/>
<rect x="353.94" y="115.02" width="0.5" height="0.38" fill="#a00c2a"/>
<rect x="355.54" y="115.02" width="0.4" height="0.38" fill="#a00c2a"/>
<rect x="356.57" y="115.02" width="2" height="0.38" fill="#d42545"/>
<rect x="356.57" y="115.02" width="0.5" height="0.38" fill="#a00c2a"/>
<rect x="358.17" y="115.02" width="0.4" height="0.38" fill="#a00c2a"/>
<rect x="359.2" y="115.02" width="2" height="0.38" fill="#d42545"/>
<rect x="359.2" y="115.02" width="0.5" height="0.38" fill="#a00c2a"/>
<rect x="360.8" y="115.02" width="0.4" height="0.38" fill="#a00c2a"/>
<rect x="361.83" y="115.02" width="2" height="0.38" fill="#d42545"/>
<rect x="361.83" y="115.02" width="0.5" height="0.38" fill="#a00c2a"/>
<rect x="363.43" y="115.02" width="0.4" height="0.38" fill="#a00c2a"/>
<rect x="364.46" y="112.93" width="2" height="2.47" fill="#3565a5"/>
<rect x="364.46" y="112.93" width="0.5" height="2.47" fill="#15315c"/>
<rect x="366.06" y="112.93" width="0.4" height="2.47" fill="#15315c"/>
<rect x="367.09" y="108.55" width="2" height="6.85" fill="#3565a5"/>
<rect x="367.09" y="108.55" width="0.5" height="6.85" fill="#15315c"/>
<rect x="368.69" y="108.55" width="0.4" height="6.85" fill="#15315c"/>
<rect x="369.72" y="104.55" width="2" height="10.85" fill="#3565a5"/>
<rect x="369.72" y="104.55" width="0.5" height="10.85" fill="#15315c"/>
<rect x="371.32" y="104.55" width="0.4" height="10.85" fill="#15315c"/>
<rect x="372.35" y="111.97" width="2" height="3.43" fill="#3565a5"/>
<rect x="372.35" y="111.97" width="0.5" height="3.43" fill="#15315c"/>
<rect x="373.95" y="111.97" width="0.4" height="3.43" fill="#15315c"/>
<rect x="374.98" y="112.35" width="2" height="3.05" fill="#3565a5"/>
<rect x="374.98" y="112.35" width="0.5" height="3.05" fill="#15315c"/>
<rect x="376.58" y="112.35" width="0.4" height="3.05" fill="#15315c"/>
<rect x="377.61" y="112.35" width="2" height="3.05" fill="#3565a5"/>
<rect x="377.61" y="112.35" width="0.5" height="3.05" fill="#15315c"/>
<rect x="379.21" y="112.35" width="0.4" height="3.05" fill="#15315c"/>
<rect x="380.24" y="112.55" width="2" height="2.86" fill="#3565a5"/>
<rect x="380.24" y="112.55" width="0.5" height="2.86" fill="#15315c"/>
<rect x="381.84" y="112.55" width="0.4" height="2.86" fill="#15315c"/>
<rect x="382.87" y="111.21" width="2" height="4.19" fill="#3565a5"/>
<rect x="382.87" y="111.21" width="0.5" height="4.19" fill="#15315c"/>
<rect x="384.47" y="111.21" width="0.4" height="4.19" fill="#15315c"/>
<rect x="385.5" y="113.12" width="2" height="2.28" fill="#3565a5"/>
<rect x="385.5" y="113.12" width="0.5" height="2.28" fill="#15315c"/>
<rect x="387.1" y="113.12" width="0.4" height="2.28" fill="#15315c"/>
<rect x="388.13" y="111.59" width="2" height="3.81" fill="#3565a5"/>
<rect x="388.13" y="111.59" width="0.5" height="3.81" fill="#15315c"/>
<rect x="389.73" y="111.59" width="0.4" height="3.81" fill="#15315c"/>
<rect x="390.76" y="112.35" width="2" height="3.05" fill="#3565a5"/>
<rect x="390.76" y="112.35" width="0.5" height="3.05" fill="#15315c"/>
<rect x="392.36" y="112.35" width="0.4" height="3.05" fill="#15315c"/>
<rect x="393.39" y="111.21" width="2" height="4.19" fill="#3565a5"/>
<rect x="393.39" y="111.21" width="0.5" height="4.19" fill="#15315c"/>
<rect x="394.99" y="111.21" width="0.4" height="4.19" fill="#15315c"/>
<rect x="396.02" y="111.59" width="2" height="3.81" fill="#3565a5"/>
<rect x="396.02" y="111.59" width="0.5" height="3.81" fill="#15315c"/>
<rect x="397.62" y="111.59" width="0.4" height="3.81" fill="#15315c"/>
<rect x="398.65" y="105.88" width="2" height="9.52" fill="#3565a5"/>
<rect x="398.65" y="105.88" width="0.5" height="9.52" fill="#15315c"/>
<rect x="400.25" y="105.88" width="0.4" height="9.52" fill="#15315c"/>
<rect x="401.28" y="111.59" width="2" height="3.81" fill="#3565a5"/>
<rect x="401.28" y="111.59" width="0.5" height="3.81" fill="#15315c"/>
<rect x="402.88" y="111.59" width="0.4" height="3.81" fill="#15315c"/>
<rect x="403.91" y="114.07" width="2" height="1.33" fill="#3565a5"/>
<rect x="403.91" y="114.07" width="0.5" height="1.33" fill="#15315c"/>
<rect x="405.51" y="114.07" width="0.4" height="1.33" fill="#15315c"/>
<rect x="406.54" y="111.59" width="2" height="3.81" fill="#3565a5"/>
<rect x="406.54" y="111.59" width="0.5" height="3.81" fill="#15315c"/>
<rect x="408.14" y="111.59" width="0.4" height="3.81" fill="#15315c"/>
<rect x="409.17" y="107.79" width="2" height="7.61" fill="#3565a5"/>
<rect x="409.17" y="107.79" width="0.5" height="7.61" fill="#15315c"/>
<rect x="410.77" y="107.79" width="0.4" height="7.61" fill="#15315c"/>
<rect x="411.8" y="105.88" width="2" height="9.52" fill="#3565a5"/>
<rect x="411.8" y="105.88" width="0.5" height="9.52" fill="#15315c"/>
<rect x="413.4" y="105.88" width="0.4" height="9.52" fill="#15315c"/>
<text x="373.9" y="23.95" font-size="9.9" text-anchor="middle" textLength="37.8" lengthAdjust="spacingAndGlyphs">Patient 7</text>
<line x1="332.5" y1="58.3" x2="332.5" y2="115.9" stroke="#231f20" stroke-width="1.12"/>
<line x1="330.4" y1="58.5" x2="334.8" y2="58.5" stroke="#231f20" stroke-width="1.12"/>
<line x1="329.8" y1="115.5" x2="332.4" y2="115.5" stroke="#231f20" stroke-width="1.12"/>
<line x1="329.8" y1="96.5" x2="332.4" y2="96.5" stroke="#231f20" stroke-width="1.12"/>
<line x1="329.8" y1="77.5" x2="332.4" y2="77.5" stroke="#231f20" stroke-width="1.12"/>
<line x1="329.8" y1="58.5" x2="332.4" y2="58.5" stroke="#231f20" stroke-width="1.12"/>
<line x1="330.7" y1="105.5" x2="332.4" y2="105.5" stroke="#231f20" stroke-width="1.12"/>
<line x1="330.7" y1="86.5" x2="332.4" y2="86.5" stroke="#231f20" stroke-width="1.12"/>
<line x1="330.7" y1="67.5" x2="332.4" y2="67.5" stroke="#231f20" stroke-width="1.12"/>
<line x1="332.5" y1="29.4" x2="332.5" y2="49.4" stroke="#231f20" stroke-width="1.12"/>
<line x1="330.4" y1="49.5" x2="334.8" y2="49.5" stroke="#231f20" stroke-width="1.12"/>
<line x1="329.8" y1="32.5" x2="332.4" y2="32.5" stroke="#231f20" stroke-width="1.12"/>
<line x1="329.8" y1="39.5" x2="332.4" y2="39.5" stroke="#231f20" stroke-width="1.12"/>
<line x1="329.8" y1="46.5" x2="332.4" y2="46.5" stroke="#231f20" stroke-width="1.12"/>
<line x1="332.4" y1="115.5" x2="414.4" y2="115.5" stroke="#231f20" stroke-width="1.12"/>
<line x1="333.5" y1="115.4" x2="333.5" y2="118" stroke="#231f20" stroke-width="1.12"/>
<text x="333.75" y="128.6" font-size="8.6" text-anchor="middle" textLength="4.23" lengthAdjust="spacingAndGlyphs">0</text>
<line x1="346.5" y1="115.4" x2="346.5" y2="118" stroke="#231f20" stroke-width="1.12"/>
<text x="346.9" y="128.6" font-size="8.6" text-anchor="middle" textLength="4.23" lengthAdjust="spacingAndGlyphs">5</text>
<line x1="360.5" y1="115.4" x2="360.5" y2="118" stroke="#231f20" stroke-width="1.12"/>
<text x="360.05" y="128.6" font-size="8.6" text-anchor="middle" textLength="8.45" lengthAdjust="spacingAndGlyphs">10</text>
<line x1="373.5" y1="115.4" x2="373.5" y2="118" stroke="#231f20" stroke-width="1.12"/>
<text x="373.2" y="128.6" font-size="8.6" text-anchor="middle" textLength="8.45" lengthAdjust="spacingAndGlyphs">15</text>
<line x1="386.5" y1="115.4" x2="386.5" y2="118" stroke="#231f20" stroke-width="1.12"/>
<text x="386.35" y="128.6" font-size="8.6" text-anchor="middle" textLength="8.45" lengthAdjust="spacingAndGlyphs">20</text>
<line x1="399.5" y1="115.4" x2="399.5" y2="118" stroke="#231f20" stroke-width="1.12"/>
<text x="399.5" y="128.6" font-size="8.6" text-anchor="middle" textLength="8.45" lengthAdjust="spacingAndGlyphs">25</text>
<line x1="412.5" y1="115.4" x2="412.5" y2="118" stroke="#231f20" stroke-width="1.12"/>
<text x="412.65" y="128.6" font-size="8.6" text-anchor="middle" textLength="8.45" lengthAdjust="spacingAndGlyphs">30</text>
<rect x="429.4" y="58.3" width="2" height="57.1" fill="#d42545"/>
<rect x="429.4" y="58.3" width="0.5" height="57.1" fill="#a00c2a"/>
<rect x="431" y="58.3" width="0.4" height="57.1" fill="#a00c2a"/>
<rect x="432.03" y="95.03" width="2" height="20.37" fill="#d42545"/>
<rect x="432.03" y="95.03" width="0.5" height="20.37" fill="#a00c2a"/>
<rect x="433.63" y="95.03" width="0.4" height="20.37" fill="#a00c2a"/>
<rect x="434.66" y="93.13" width="2" height="22.27" fill="#d42545"/>
<rect x="434.66" y="93.13" width="0.5" height="22.27" fill="#a00c2a"/>
<rect x="436.26" y="93.13" width="0.4" height="22.27" fill="#a00c2a"/>
<rect x="437.29" y="103.03" width="2" height="12.37" fill="#d42545"/>
<rect x="437.29" y="103.03" width="0.5" height="12.37" fill="#a00c2a"/>
<rect x="438.89" y="103.03" width="0.4" height="12.37" fill="#a00c2a"/>
<rect x="439.92" y="108.74" width="2" height="6.66" fill="#d42545"/>
<rect x="439.92" y="108.74" width="0.5" height="6.66" fill="#a00c2a"/>
<rect x="441.52" y="108.74" width="0.4" height="6.66" fill="#a00c2a"/>
<rect x="442.55" y="111.4" width="2" height="4" fill="#d42545"/>
<rect x="442.55" y="111.4" width="0.5" height="4" fill="#a00c2a"/>
<rect x="444.15" y="111.4" width="0.4" height="4" fill="#a00c2a"/>
<rect x="445.18" y="111.78" width="2" height="3.62" fill="#d42545"/>
<rect x="445.18" y="111.78" width="0.5" height="3.62" fill="#a00c2a"/>
<rect x="446.78" y="111.78" width="0.4" height="3.62" fill="#a00c2a"/>
<rect x="447.81" y="112.16" width="2" height="3.24" fill="#56b856"/>
<rect x="447.81" y="112.16" width="0.5" height="3.24" fill="#2f8a35"/>
<rect x="449.41" y="112.16" width="0.4" height="3.24" fill="#2f8a35"/>
<rect x="447.81" y="74.86" width="2" height="37.31" fill="#d42545"/>
<rect x="447.81" y="74.86" width="0.5" height="37.31" fill="#a00c2a"/>
<rect x="449.41" y="74.86" width="0.4" height="37.31" fill="#a00c2a"/>
<rect x="450.44" y="110.26" width="2" height="5.14" fill="#56b856"/>
<rect x="450.44" y="110.26" width="0.5" height="5.14" fill="#2f8a35"/>
<rect x="452.04" y="110.26" width="0.4" height="5.14" fill="#2f8a35"/>
<rect x="450.44" y="58.3" width="2" height="51.96" fill="#d42545"/>
<rect x="450.44" y="58.3" width="0.5" height="51.96" fill="#a00c2a"/>
<rect x="452.04" y="58.3" width="0.4" height="51.96" fill="#a00c2a"/>
<rect x="453.07" y="110.26" width="2" height="5.14" fill="#56b856"/>
<rect x="453.07" y="110.26" width="0.5" height="5.14" fill="#2f8a35"/>
<rect x="454.67" y="110.26" width="0.4" height="5.14" fill="#2f8a35"/>
<rect x="453.07" y="63.63" width="2" height="46.63" fill="#d42545"/>
<rect x="453.07" y="63.63" width="0.5" height="46.63" fill="#a00c2a"/>
<rect x="454.67" y="63.63" width="0.4" height="46.63" fill="#a00c2a"/>
<rect x="453.07" y="58.3" width="2" height="5.33" fill="#3565a5"/>
<rect x="453.07" y="58.3" width="0.5" height="5.33" fill="#15315c"/>
<rect x="454.67" y="58.3" width="0.4" height="5.33" fill="#15315c"/>
<rect x="455.7" y="107.98" width="2" height="7.42" fill="#d42545"/>
<rect x="455.7" y="107.98" width="0.5" height="7.42" fill="#a00c2a"/>
<rect x="457.3" y="107.98" width="0.4" height="7.42" fill="#a00c2a"/>
<rect x="458.33" y="109.5" width="2" height="5.9" fill="#d42545"/>
<rect x="458.33" y="109.5" width="0.5" height="5.9" fill="#a00c2a"/>
<rect x="459.93" y="109.5" width="0.4" height="5.9" fill="#a00c2a"/>
<rect x="460.96" y="110.83" width="2" height="4.57" fill="#d42545"/>
<rect x="460.96" y="110.83" width="0.5" height="4.57" fill="#a00c2a"/>
<rect x="462.56" y="110.83" width="0.4" height="4.57" fill="#a00c2a"/>
<rect x="463.59" y="110.83" width="2" height="4.57" fill="#3565a5"/>
<rect x="463.59" y="110.83" width="0.5" height="4.57" fill="#15315c"/>
<rect x="465.19" y="110.83" width="0.4" height="4.57" fill="#15315c"/>
<rect x="466.22" y="110.83" width="2" height="4.57" fill="#3565a5"/>
<rect x="466.22" y="110.83" width="0.5" height="4.57" fill="#15315c"/>
<rect x="467.82" y="110.83" width="0.4" height="4.57" fill="#15315c"/>
<rect x="468.85" y="110.83" width="2" height="4.57" fill="#3565a5"/>
<rect x="468.85" y="110.83" width="0.5" height="4.57" fill="#15315c"/>
<rect x="470.45" y="110.83" width="0.4" height="4.57" fill="#15315c"/>
<rect x="471.48" y="110.64" width="2" height="4.76" fill="#3565a5"/>
<rect x="471.48" y="110.64" width="0.5" height="4.76" fill="#15315c"/>
<rect x="473.08" y="110.64" width="0.4" height="4.76" fill="#15315c"/>
<rect x="474.11" y="109.88" width="2" height="5.52" fill="#3565a5"/>
<rect x="474.11" y="109.88" width="0.5" height="5.52" fill="#15315c"/>
<rect x="475.71" y="109.88" width="0.4" height="5.52" fill="#15315c"/>
<rect x="476.74" y="106.64" width="2" height="8.76" fill="#3565a5"/>
<rect x="476.74" y="106.64" width="0.5" height="8.76" fill="#15315c"/>
<rect x="478.34" y="106.64" width="0.4" height="8.76" fill="#15315c"/>
<rect x="479.37" y="103.41" width="2" height="11.99" fill="#3565a5"/>
<rect x="479.37" y="103.41" width="0.5" height="11.99" fill="#15315c"/>
<rect x="480.97" y="103.41" width="0.4" height="11.99" fill="#15315c"/>
<rect x="484.63" y="110.07" width="2" height="5.33" fill="#3565a5"/>
<rect x="484.63" y="110.07" width="0.5" height="5.33" fill="#15315c"/>
<rect x="486.23" y="110.07" width="0.4" height="5.33" fill="#15315c"/>
<text x="470.4" y="23.95" font-size="9.9" text-anchor="middle" textLength="37.8" lengthAdjust="spacingAndGlyphs">Patient 1</text>
<line x1="428.5" y1="58.3" x2="428.5" y2="115.9" stroke="#231f20" stroke-width="1.12"/>
<line x1="426.9" y1="58.5" x2="431.3" y2="58.5" stroke="#231f20" stroke-width="1.12"/>
<line x1="426.3" y1="115.5" x2="428.9" y2="115.5" stroke="#231f20" stroke-width="1.12"/>
<line x1="426.3" y1="96.5" x2="428.9" y2="96.5" stroke="#231f20" stroke-width="1.12"/>
<line x1="426.3" y1="77.5" x2="428.9" y2="77.5" stroke="#231f20" stroke-width="1.12"/>
<line x1="426.3" y1="58.5" x2="428.9" y2="58.5" stroke="#231f20" stroke-width="1.12"/>
<line x1="427.2" y1="105.5" x2="428.9" y2="105.5" stroke="#231f20" stroke-width="1.12"/>
<line x1="427.2" y1="86.5" x2="428.9" y2="86.5" stroke="#231f20" stroke-width="1.12"/>
<line x1="427.2" y1="67.5" x2="428.9" y2="67.5" stroke="#231f20" stroke-width="1.12"/>
<line x1="428.5" y1="31.1" x2="428.5" y2="50.3" stroke="#231f20" stroke-width="1.12"/>
<line x1="426.9" y1="50.5" x2="431.3" y2="50.5" stroke="#231f20" stroke-width="1.12"/>
<line x1="426.3" y1="33.5" x2="428.9" y2="33.5" stroke="#231f20" stroke-width="1.12"/>
<line x1="426.3" y1="40.5" x2="428.9" y2="40.5" stroke="#231f20" stroke-width="1.12"/>
<line x1="426.3" y1="48.5" x2="428.9" y2="48.5" stroke="#231f20" stroke-width="1.12"/>
<line x1="428.9" y1="115.5" x2="510.9" y2="115.5" stroke="#231f20" stroke-width="1.12"/>
<line x1="430.5" y1="115.4" x2="430.5" y2="118" stroke="#231f20" stroke-width="1.12"/>
<text x="430.25" y="128.6" font-size="8.6" text-anchor="middle" textLength="4.23" lengthAdjust="spacingAndGlyphs">0</text>
<line x1="443.5" y1="115.4" x2="443.5" y2="118" stroke="#231f20" stroke-width="1.12"/>
<text x="443.4" y="128.6" font-size="8.6" text-anchor="middle" textLength="4.23" lengthAdjust="spacingAndGlyphs">5</text>
<line x1="456.5" y1="115.4" x2="456.5" y2="118" stroke="#231f20" stroke-width="1.12"/>
<text x="456.55" y="128.6" font-size="8.6" text-anchor="middle" textLength="8.45" lengthAdjust="spacingAndGlyphs">10</text>
<line x1="469.5" y1="115.4" x2="469.5" y2="118" stroke="#231f20" stroke-width="1.12"/>
<text x="469.7" y="128.6" font-size="8.6" text-anchor="middle" textLength="8.45" lengthAdjust="spacingAndGlyphs">15</text>
<line x1="482.5" y1="115.4" x2="482.5" y2="118" stroke="#231f20" stroke-width="1.12"/>
<text x="482.85" y="128.6" font-size="8.6" text-anchor="middle" textLength="8.45" lengthAdjust="spacingAndGlyphs">20</text>
<line x1="496.5" y1="115.4" x2="496.5" y2="118" stroke="#231f20" stroke-width="1.12"/>
<text x="496" y="128.6" font-size="8.6" text-anchor="middle" textLength="8.45" lengthAdjust="spacingAndGlyphs">25</text>
<line x1="509.5" y1="115.4" x2="509.5" y2="118" stroke="#231f20" stroke-width="1.12"/>
<text x="509.15" y="128.6" font-size="8.6" text-anchor="middle" textLength="8.45" lengthAdjust="spacingAndGlyphs">30</text>
<line x1="56.4" y1="137.5" x2="238.5" y2="137.5" stroke="#231f20" stroke-width="1.12"/>
<line x1="318.2" y1="137.5" x2="499.6" y2="137.5" stroke="#231f20" stroke-width="1.12"/>
<text x="278.3" y="141.2" font-size="9.8" text-anchor="middle" textLength="60.5" lengthAdjust="spacingAndGlyphs">Days post infusion</text>
<rect x="190" y="154" width="6" height="6" fill="#c8102e"/>
<text x="218.7" y="158.9" font-size="7.2" text-anchor="middle" textLength="39.2" lengthAdjust="spacingAndGlyphs">Neutrophils</text>
<rect x="253" y="154" width="6" height="6" fill="#3aa83a"/>
<text x="280" y="158.9" font-size="7.2" text-anchor="middle" textLength="37.6" lengthAdjust="spacingAndGlyphs">Monocytes</text>
<rect x="314" y="154" width="6" height="6" fill="#1f4e8c"/>
<text x="344.75" y="158.9" font-size="7.2" text-anchor="middle" textLength="44.1" lengthAdjust="spacingAndGlyphs">Lymphocytes</text>
<defs><filter id="bl" x="0" y="0" width="520" height="688" filterUnits="userSpaceOnUse"><feConvolveMatrix order="3" kernelMatrix="1 2 1 2 10 2 1 2 1" divisor="22" edgeMode="none" preserveAlpha="false"/></filter></defs><g filter="url(#bl)"><path fill="#372d96" fill-opacity="0.3" d="M174.9 232.0h1v1h-1zM174.9 233.0h1v1h-1zM163.9 239.0h1v1h-1zM286.9 310.2h1v1h-1zM272.9 311.2h1v1h-1zM292.9 311.2h1v1h-1zM263.9 313.2h1v1h-1zM265.9 313.2h1v1h-1zM259.9 314.2h1v1h-1zM251.9 315.2h1v1h-1zM470.2 315.2h1v1h-1zM374.4 316.2h1v1h-1zM169.9 317.2h1v1h-1zM476.2 317.2h1v1h-1zM162.9 318.2h1v1h-1zM443.2 318.2h1v1h-1zM448.2 318.2h1v1h-1zM244.9 319.2h1v1h-1zM433.2 319.2h1v1h-1zM435.2 319.2h1v1h-1zM479.2 319.2h1v1h-1zM158.9 320.2h1v1h-1zM431.2 320.2h1v1h-1zM341.4 322.2h1v1h-1zM485.2 326.2h1v1h-1zM485.2 329.2h1v1h-1zM156.9 331.2h1v1h-1zM258.9 332.2h1v1h-1zM303.9 332.2h1v1h-1zM273.9 334.2h1v1h-1zM163.9 335.2h2v1h-2zM294.9 336.2h1v1h-1zM337.4 337.2h1v1h-1zM200.9 338.2h1v1h-1zM339.4 338.2h2v1h-2zM472.2 341.2h1v1h-1zM378.4 348.2h1v1h-1z"/><path fill="#312c9c" fill-opacity="0.3" d="M76.4 215.0h1v1h-1zM80.4 215.0h1v1h-1zM66.4 219.0h1v1h-1zM91.4 221.0h1v1h-1zM167.9 238.0h1v1h-1zM280.9 310.2h1v1h-1zM195.9 313.2h1v1h-1zM166.9 318.2h1v1h-1zM443.2 319.2h1v1h-1zM155.9 325.2h1v1h-1zM91.4 326.2h1v1h-1zM88.4 328.2h1v1h-1zM249.9 329.2h1v1h-1zM251.9 330.2h1v1h-1zM305.9 330.2h1v1h-1zM255.9 331.2h1v1h-1zM74.4 333.2h1v1h-1zM298.9 334.2h1v1h-1zM481.2 336.2h1v1h-1zM201.9 337.2h1v1h-1zM360.4 347.2h1v1h-1z"/><path fill="#312c9c" fill-opacity="0.4" d="M73.4 216.0h1v1h-1zM75.4 216.0h1v1h-1zM83.4 216.0h2v1h-2zM86.4 217.0h2v1h-2zM66.4 220.0h1v1h-1zM156.9 220.0h1v1h-1zM176.9 220.0h1v1h-1zM90.4 224.0h1v1h-1zM177.9 228.0h1v1h-1zM83.4 230.0h1v1h-1zM173.9 231.0h1v1h-1zM67.4 232.0h1v1h-1zM77.4 233.0h1v1h-1zM170.9 233.0h1v1h-1zM170.9 234.0h1v1h-1zM160.9 235.0h1v1h-1zM167.9 235.0h1v1h-1zM165.9 236.0h1v1h-1zM169.9 236.0h1v1h-1zM276.9 311.2h1v1h-1zM279.9 311.2h2v1h-2zM284.9 311.2h1v1h-1zM189.9 313.2h2v1h-2zM269.9 313.2h2v1h-2zM293.9 313.2h1v1h-1zM295.9 313.2h1v1h-1zM187.9 314.2h1v1h-1zM191.9 314.2h1v1h-1zM197.9 314.2h1v1h-1zM264.9 314.2h1v1h-1zM267.9 314.2h1v1h-1zM296.9 314.2h1v1h-1zM77.4 315.2h1v1h-1zM266.9 315.2h1v1h-1zM301.9 315.2h1v1h-1zM71.4 316.2h2v1h-2zM181.9 316.2h1v1h-1zM202.9 316.2h1v1h-1zM251.9 316.2h1v1h-1zM257.9 316.2h1v1h-1zM259.9 316.2h1v1h-1zM261.9 316.2h1v1h-1zM465.2 316.2h1v1h-1zM469.2 316.2h1v1h-1zM68.4 317.2h1v1h-1zM179.9 317.2h3v1h-3zM253.9 317.2h2v1h-2zM257.9 317.2h1v1h-1zM304.9 317.2h1v1h-1zM370.4 317.2h2v1h-2zM373.4 317.2h3v1h-3zM455.2 317.2h1v1h-1zM67.4 318.2h1v1h-1zM89.4 318.2h1v1h-1zM175.9 318.2h1v1h-1zM249.9 318.2h1v1h-1zM252.9 318.2h1v1h-1zM363.4 318.2h1v1h-1zM371.4 318.2h2v1h-2zM374.4 318.2h1v1h-1zM376.4 318.2h1v1h-1zM453.2 318.2h1v1h-1zM474.2 318.2h1v1h-1zM476.2 318.2h1v1h-1zM66.4 319.2h1v1h-1zM170.9 319.2h1v1h-1zM173.9 319.2h2v1h-2zM248.9 319.2h1v1h-1zM303.9 319.2h2v1h-2zM362.4 319.2h1v1h-1zM364.4 319.2h1v1h-1zM378.4 319.2h1v1h-1zM166.9 320.2h1v1h-1zM168.9 320.2h1v1h-1zM304.9 320.2h1v1h-1zM359.4 320.2h1v1h-1zM380.4 320.2h1v1h-1zM434.2 320.2h1v1h-1zM445.2 320.2h1v1h-1zM162.9 321.2h1v1h-1zM245.9 321.2h1v1h-1zM307.9 321.2h1v1h-1zM382.4 321.2h1v1h-1zM437.2 321.2h1v1h-1zM440.2 321.2h1v1h-1zM245.9 322.2h1v1h-1zM248.9 322.2h1v1h-1zM305.9 322.2h1v1h-1zM359.4 322.2h1v1h-1zM431.2 322.2h1v1h-1zM433.2 322.2h1v1h-1zM435.2 322.2h1v1h-1zM158.9 323.2h1v1h-1zM248.9 323.2h1v1h-1zM305.9 323.2h1v1h-1zM344.4 323.2h1v1h-1zM346.4 323.2h1v1h-1zM384.4 323.2h1v1h-1zM430.2 323.2h1v1h-1zM432.2 323.2h1v1h-1zM481.2 323.2h1v1h-1zM159.9 324.2h1v1h-1zM208.9 324.2h1v1h-1zM339.4 324.2h1v1h-1zM342.4 324.2h1v1h-1zM345.4 324.2h1v1h-1zM347.4 324.2h3v1h-3zM351.4 324.2h2v1h-2zM354.4 324.2h1v1h-1zM428.2 324.2h1v1h-1zM158.9 325.2h1v1h-1zM207.9 325.2h2v1h-2zM305.9 325.2h2v1h-2zM337.4 325.2h1v1h-1zM339.4 325.2h1v1h-1zM341.4 325.2h1v1h-1zM386.4 325.2h1v1h-1zM426.2 325.2h1v1h-1zM207.9 326.2h1v1h-1zM246.9 326.2h1v1h-1zM307.9 326.2h1v1h-1zM338.4 326.2h3v1h-3zM387.4 326.2h1v1h-1zM426.2 326.2h1v1h-1zM428.2 326.2h1v1h-1zM158.9 327.2h1v1h-1zM304.9 327.2h1v1h-1zM307.9 327.2h1v1h-1zM337.4 327.2h1v1h-1zM428.2 327.2h1v1h-1zM86.4 328.2h1v1h-1zM158.9 328.2h1v1h-1zM249.9 328.2h2v1h-2zM252.9 328.2h1v1h-1zM335.4 328.2h1v1h-1zM337.4 328.2h1v1h-1zM483.2 328.2h1v1h-1zM158.9 329.2h1v1h-1zM255.9 329.2h1v1h-1zM260.9 329.2h1v1h-1zM303.9 329.2h1v1h-1zM387.4 329.2h1v1h-1zM424.2 329.2h1v1h-1zM426.2 329.2h1v1h-1zM484.2 329.2h1v1h-1zM160.9 330.2h1v1h-1zM258.9 330.2h1v1h-1zM260.9 330.2h1v1h-1zM264.9 330.2h1v1h-1zM304.9 330.2h1v1h-1zM68.4 331.2h2v1h-2zM206.9 331.2h2v1h-2zM334.4 331.2h1v1h-1zM482.2 331.2h1v1h-1zM73.4 332.2h1v1h-1zM160.9 332.2h2v1h-2zM270.9 332.2h1v1h-1zM273.9 332.2h1v1h-1zM298.9 332.2h1v1h-1zM482.2 332.2h1v1h-1zM163.9 333.2h1v1h-1zM167.9 333.2h1v1h-1zM274.9 333.2h1v1h-1zM299.9 333.2h1v1h-1zM334.4 333.2h2v1h-2zM337.4 333.2h1v1h-1zM481.2 333.2h1v1h-1zM166.9 334.2h1v1h-1zM168.9 334.2h1v1h-1zM171.9 334.2h1v1h-1zM174.9 334.2h1v1h-1zM178.9 334.2h2v1h-2zM277.9 334.2h1v1h-1zM279.9 334.2h1v1h-1zM291.9 334.2h1v1h-1zM433.2 334.2h1v1h-1zM178.9 335.2h1v1h-1zM279.9 335.2h2v1h-2zM287.9 335.2h1v1h-1zM293.9 335.2h1v1h-1zM336.4 335.2h4v1h-4zM387.4 335.2h1v1h-1zM431.2 335.2h1v1h-1zM440.2 335.2h1v1h-1zM480.2 335.2h1v1h-1zM200.9 336.2h1v1h-1zM346.4 336.2h1v1h-1zM387.4 336.2h2v1h-2zM432.2 336.2h1v1h-1zM438.2 336.2h1v1h-1zM441.2 336.2h1v1h-1zM445.2 336.2h1v1h-1zM182.9 337.2h1v1h-1zM184.9 337.2h1v1h-1zM197.9 337.2h1v1h-1zM343.4 337.2h1v1h-1zM350.4 337.2h2v1h-2zM437.2 337.2h1v1h-1zM440.2 337.2h1v1h-1zM477.2 337.2h2v1h-2zM193.9 338.2h1v1h-1zM345.4 338.2h3v1h-3zM385.4 338.2h1v1h-1zM451.2 338.2h1v1h-1zM350.4 339.2h1v1h-1zM452.2 339.2h1v1h-1zM474.2 339.2h1v1h-1zM355.4 340.2h1v1h-1zM384.4 340.2h1v1h-1zM453.2 340.2h1v1h-1zM455.2 340.2h1v1h-1zM356.4 341.2h1v1h-1zM461.2 341.2h1v1h-1zM466.2 341.2h2v1h-2zM469.2 341.2h1v1h-1zM357.4 343.2h2v1h-2zM381.4 343.2h1v1h-1zM375.4 346.2h1v1h-1zM377.4 346.2h1v1h-1zM363.4 347.2h1v1h-1zM370.4 347.2h1v1h-1zM374.4 347.2h1v1h-1zM371.4 348.2h1v1h-1zM368.4 349.2h1v1h-1z"/><path fill="#312c9c" fill-opacity="0.5" d="M434.2 211.0h1v1h-1zM447.2 217.0h1v1h-1zM424.2 219.0h1v1h-1zM448.2 221.0h1v1h-1zM446.2 236.0h1v1h-1zM443.2 240.0h1v1h-1zM433.2 242.0h1v1h-1z"/><path fill="#2c2ca2" fill-opacity="0.4" d="M80.4 216.0h3v1h-3zM72.4 217.0h1v1h-1zM70.4 218.0h1v1h-1zM87.4 218.0h1v1h-1zM68.4 219.0h1v1h-1zM67.4 220.0h1v1h-1zM175.9 220.0h1v1h-1zM66.4 221.0h1v1h-1zM88.4 226.0h1v1h-1zM87.4 227.0h1v1h-1zM176.9 228.0h1v1h-1zM83.4 229.0h1v1h-1zM79.4 231.0h1v1h-1zM155.9 231.0h1v1h-1zM159.9 234.0h2v1h-2zM167.9 234.0h2v1h-2zM163.9 235.0h1v1h-1zM165.9 235.0h2v1h-2zM272.9 313.2h1v1h-1zM295.9 314.2h1v1h-1zM76.4 316.2h1v1h-1zM81.4 316.2h1v1h-1zM263.9 316.2h1v1h-1zM299.9 316.2h1v1h-1zM86.4 317.2h1v1h-1zM258.9 317.2h1v1h-1zM458.2 317.2h1v1h-1zM67.4 319.2h1v1h-1zM89.4 319.2h1v1h-1zM451.2 319.2h1v1h-1zM173.9 320.2h1v1h-1zM379.4 320.2h1v1h-1zM304.9 321.2h1v1h-1zM249.9 322.2h1v1h-1zM161.9 323.2h1v1h-1zM206.9 323.2h1v1h-1zM249.9 323.2h1v1h-1zM358.4 323.2h1v1h-1zM160.9 324.2h1v1h-1zM249.9 324.2h1v1h-1zM356.4 324.2h1v1h-1zM90.4 325.2h1v1h-1zM347.4 325.2h1v1h-1zM89.4 326.2h1v1h-1zM87.4 327.2h1v1h-1zM339.4 327.2h1v1h-1zM85.4 328.2h1v1h-1zM261.9 329.2h2v1h-2zM81.4 330.2h1v1h-1zM161.9 330.2h1v1h-1zM301.9 330.2h1v1h-1zM271.9 331.2h1v1h-1zM337.4 331.2h1v1h-1zM387.4 331.2h1v1h-1zM387.4 332.2h1v1h-1zM169.9 333.2h1v1h-1zM173.9 333.2h3v1h-3zM294.9 333.2h1v1h-1zM339.4 334.2h1v1h-1zM480.2 334.2h1v1h-1zM348.4 336.2h1v1h-1zM354.4 338.2h1v1h-1zM455.2 339.2h1v1h-1zM463.2 340.2h1v1h-1zM466.2 340.2h1v1h-1zM380.4 343.2h1v1h-1zM360.4 344.2h1v1h-1zM362.4 345.2h1v1h-1zM374.4 346.2h1v1h-1z"/><path fill="#2c2ca2" fill-opacity="0.5" d="M254.9 211.0h1v1h-1zM250.9 212.0h1v1h-1zM257.9 213.0h1v1h-1zM247.9 214.0h1v1h-1zM244.9 215.0h1v1h-1zM264.9 215.0h1v1h-1zM350.4 215.0h1v1h-1zM432.2 215.0h1v1h-1zM79.4 216.0h1v1h-1zM264.9 216.0h1v1h-1zM345.4 216.0h1v1h-1zM440.2 216.0h2v1h-2zM73.4 217.0h1v1h-1zM84.4 217.0h1v1h-1zM348.4 217.0h1v1h-1zM86.4 218.0h1v1h-1zM171.9 218.0h1v1h-1zM353.4 218.0h1v1h-1zM160.9 219.0h1v1h-1zM444.2 219.0h1v1h-1zM158.9 220.0h1v1h-1zM268.9 220.0h1v1h-1zM335.4 221.0h1v1h-1zM425.2 221.0h1v1h-1zM446.2 221.0h1v1h-1zM89.4 222.0h1v1h-1zM335.4 222.0h1v1h-1zM355.4 222.0h1v1h-1zM89.4 223.0h1v1h-1zM155.9 223.0h1v1h-1zM334.4 223.0h1v1h-1zM359.4 223.0h1v1h-1zM177.9 224.0h1v1h-1zM357.4 224.0h1v1h-1zM177.9 225.0h1v1h-1zM66.4 229.0h1v1h-1zM82.4 229.0h1v1h-1zM446.2 229.0h1v1h-1zM448.2 229.0h1v1h-1zM67.4 230.0h1v1h-1zM80.4 230.0h1v1h-1zM155.9 230.0h1v1h-1zM424.2 231.0h1v1h-1zM71.4 232.0h1v1h-1zM157.9 232.0h1v1h-1zM168.9 233.0h1v1h-1zM165.9 234.0h1v1h-1zM425.2 234.0h2v1h-2zM445.2 235.0h1v1h-1zM244.9 236.0h1v1h-1zM247.9 236.0h1v1h-1zM443.2 236.0h1v1h-1zM252.9 238.0h1v1h-1zM428.2 238.0h1v1h-1zM440.2 238.0h1v1h-1zM442.2 238.0h2v1h-2zM356.4 239.0h1v1h-1zM432.2 239.0h1v1h-1zM441.2 239.0h1v1h-1zM354.4 240.0h2v1h-2zM431.2 240.0h4v1h-4zM439.2 240.0h1v1h-1zM354.4 241.0h1v1h-1zM346.4 243.0h2v1h-2zM347.4 244.0h1v1h-1zM280.9 312.2h1v1h-1zM283.9 312.2h1v1h-1zM286.9 312.2h2v1h-2zM273.9 313.2h1v1h-1zM291.9 313.2h1v1h-1zM271.9 314.2h1v1h-1zM294.9 314.2h1v1h-1zM187.9 315.2h2v1h-2zM194.9 315.2h2v1h-2zM78.4 316.2h3v1h-3zM199.9 316.2h1v1h-1zM264.9 316.2h2v1h-2zM297.9 316.2h2v1h-2zM85.4 317.2h1v1h-1zM200.9 317.2h1v1h-1zM259.9 317.2h1v1h-1zM261.9 317.2h3v1h-3zM463.2 317.2h1v1h-1zM465.2 317.2h1v1h-1zM467.2 317.2h2v1h-2zM255.9 318.2h1v1h-1zM260.9 318.2h1v1h-1zM300.9 318.2h1v1h-1zM179.9 319.2h1v1h-1zM252.9 319.2h1v1h-1zM255.9 319.2h2v1h-2zM302.9 319.2h1v1h-1zM369.4 319.2h5v1h-5zM375.4 319.2h1v1h-1zM453.2 319.2h1v1h-1zM177.9 320.2h1v1h-1zM204.9 320.2h1v1h-1zM251.9 320.2h1v1h-1zM253.9 320.2h1v1h-1zM302.9 320.2h1v1h-1zM364.4 320.2h1v1h-1zM377.4 320.2h2v1h-2zM450.2 320.2h1v1h-1zM90.4 321.2h1v1h-1zM166.9 321.2h1v1h-1zM169.9 321.2h5v1h-5zM303.9 321.2h1v1h-1zM362.4 321.2h2v1h-2zM446.2 321.2h1v1h-1zM448.2 321.2h1v1h-1zM477.2 321.2h1v1h-1zM163.9 322.2h4v1h-4zM205.9 322.2h1v1h-1zM250.9 322.2h1v1h-1zM252.9 322.2h1v1h-1zM303.9 322.2h1v1h-1zM360.4 322.2h1v1h-1zM441.2 322.2h2v1h-2zM444.2 322.2h1v1h-1zM479.2 322.2h1v1h-1zM162.9 323.2h1v1h-1zM164.9 323.2h1v1h-1zM250.9 323.2h1v1h-1zM303.9 323.2h1v1h-1zM383.4 323.2h1v1h-1zM437.2 323.2h1v1h-1zM440.2 323.2h1v1h-1zM250.9 324.2h1v1h-1zM252.9 324.2h1v1h-1zM357.4 324.2h1v1h-1zM384.4 324.2h1v1h-1zM433.2 324.2h1v1h-1zM436.2 324.2h1v1h-1zM480.2 324.2h1v1h-1zM250.9 325.2h1v1h-1zM252.9 325.2h1v1h-1zM303.9 325.2h1v1h-1zM351.4 325.2h1v1h-1zM354.4 325.2h3v1h-3zM434.2 325.2h1v1h-1zM481.2 325.2h1v1h-1zM253.9 326.2h2v1h-2zM344.4 326.2h2v1h-2zM347.4 326.2h1v1h-1zM349.4 326.2h1v1h-1zM351.4 326.2h1v1h-1zM385.4 326.2h1v1h-1zM431.2 326.2h2v1h-2zM481.2 326.2h1v1h-1zM206.9 327.2h1v1h-1zM253.9 327.2h1v1h-1zM255.9 327.2h2v1h-2zM258.9 327.2h1v1h-1zM302.9 327.2h2v1h-2zM341.4 327.2h2v1h-2zM431.2 327.2h1v1h-1zM161.9 328.2h1v1h-1zM258.9 328.2h4v1h-4zM339.4 328.2h1v1h-1zM341.4 328.2h1v1h-1zM386.4 328.2h1v1h-1zM429.2 328.2h2v1h-2zM265.9 329.2h2v1h-2zM301.9 329.2h1v1h-1zM339.4 329.2h2v1h-2zM386.4 329.2h1v1h-1zM482.2 329.2h1v1h-1zM80.4 330.2h1v1h-1zM163.9 330.2h1v1h-1zM299.9 330.2h2v1h-2zM431.2 330.2h2v1h-2zM481.2 330.2h1v1h-1zM72.4 331.2h1v1h-1zM163.9 331.2h1v1h-1zM165.9 331.2h1v1h-1zM204.9 331.2h1v1h-1zM273.9 331.2h1v1h-1zM297.9 331.2h1v1h-1zM299.9 331.2h1v1h-1zM339.4 331.2h2v1h-2zM433.2 331.2h1v1h-1zM168.9 332.2h1v1h-1zM170.9 332.2h1v1h-1zM172.9 332.2h2v1h-2zM176.9 332.2h1v1h-1zM204.9 332.2h1v1h-1zM275.9 332.2h1v1h-1zM295.9 332.2h1v1h-1zM339.4 332.2h1v1h-1zM434.2 332.2h1v1h-1zM481.2 332.2h1v1h-1zM177.9 333.2h2v1h-2zM203.9 333.2h1v1h-1zM279.9 333.2h3v1h-3zM291.9 333.2h2v1h-2zM339.4 333.2h2v1h-2zM342.4 333.2h1v1h-1zM434.2 333.2h1v1h-1zM436.2 333.2h1v1h-1zM438.2 333.2h1v1h-1zM480.2 333.2h1v1h-1zM341.4 334.2h1v1h-1zM344.4 334.2h1v1h-1zM346.4 334.2h1v1h-1zM437.2 334.2h1v1h-1zM440.2 334.2h1v1h-1zM443.2 334.2h1v1h-1zM200.9 335.2h1v1h-1zM345.4 335.2h1v1h-1zM347.4 335.2h1v1h-1zM350.4 335.2h2v1h-2zM386.4 335.2h1v1h-1zM444.2 335.2h1v1h-1zM446.2 335.2h1v1h-1zM184.9 336.2h2v1h-2zM198.9 336.2h1v1h-1zM352.4 336.2h2v1h-2zM448.2 336.2h2v1h-2zM187.9 337.2h2v1h-2zM193.9 337.2h1v1h-1zM195.9 337.2h2v1h-2zM355.4 337.2h1v1h-1zM385.4 337.2h1v1h-1zM451.2 337.2h1v1h-1zM473.2 338.2h1v1h-1zM356.4 339.2h1v1h-1zM470.2 339.2h1v1h-1zM357.4 340.2h1v1h-1zM382.4 340.2h1v1h-1zM358.4 341.2h1v1h-1zM382.4 341.2h1v1h-1zM359.4 342.2h1v1h-1zM380.4 342.2h1v1h-1zM361.4 343.2h1v1h-1zM361.4 344.2h2v1h-2zM377.4 344.2h2v1h-2zM364.4 345.2h1v1h-1zM376.4 345.2h1v1h-1zM367.4 346.2h1v1h-1zM371.4 346.2h1v1h-1zM373.4 346.2h1v1h-1z"/><path fill="#2c2ca2" fill-opacity="0.6" d="M433.2 215.0h1v1h-1zM435.2 215.0h1v1h-1zM437.2 215.0h1v1h-1zM439.2 216.0h1v1h-1zM427.2 219.0h1v1h-1zM425.2 223.0h1v1h-1zM425.2 231.0h1v1h-1zM426.2 233.0h1v1h-1zM428.2 236.0h1v1h-1zM433.2 239.0h1v1h-1z"/><path fill="#262ba9" fill-opacity="0.5" d="M245.9 216.0h1v1h-1zM83.4 217.0h1v1h-1zM71.4 218.0h1v1h-1zM164.9 218.0h5v1h-5zM343.4 218.0h2v1h-2zM347.4 218.0h1v1h-1zM87.4 219.0h1v1h-1zM161.9 219.0h1v1h-1zM341.4 219.0h1v1h-1zM349.4 219.0h1v1h-1zM159.9 220.0h1v1h-1zM174.9 220.0h1v1h-1zM339.4 220.0h1v1h-1zM352.4 220.0h1v1h-1zM67.4 221.0h1v1h-1zM352.4 221.0h1v1h-1zM156.9 222.0h1v1h-1zM268.9 222.0h1v1h-1zM336.4 222.0h1v1h-1zM155.9 224.0h1v1h-1zM268.9 224.0h1v1h-1zM88.4 225.0h1v1h-1zM86.4 227.0h1v1h-1zM176.9 227.0h1v1h-1zM358.4 227.0h1v1h-1zM66.4 228.0h1v1h-1zM175.9 228.0h1v1h-1zM267.9 228.0h1v1h-1zM81.4 229.0h1v1h-1zM69.4 231.0h1v1h-1zM156.9 231.0h1v1h-1zM170.9 231.0h2v1h-2zM73.4 232.0h2v1h-2zM168.9 232.0h2v1h-2zM359.4 232.0h1v1h-1zM166.9 233.0h1v1h-1zM246.9 234.0h1v1h-1zM258.9 234.0h1v1h-1zM334.4 234.0h1v1h-1zM250.9 235.0h1v1h-1zM334.4 235.0h1v1h-1zM358.4 235.0h1v1h-1zM253.9 236.0h1v1h-1zM338.4 239.0h1v1h-1zM354.4 239.0h2v1h-2zM338.4 240.0h1v1h-1zM343.4 242.0h1v1h-1zM348.4 242.0h1v1h-1zM281.9 312.2h1v1h-1zM289.9 313.2h1v1h-1zM190.9 315.2h2v1h-2zM72.4 317.2h1v1h-1zM183.9 317.2h1v1h-1zM264.9 317.2h1v1h-1zM70.4 318.2h1v1h-1zM87.4 318.2h1v1h-1zM457.2 318.2h1v1h-1zM88.4 319.2h1v1h-1zM89.4 320.2h1v1h-1zM203.9 320.2h1v1h-1zM366.4 320.2h1v1h-1zM376.4 320.2h1v1h-1zM451.2 320.2h1v1h-1zM175.9 321.2h2v1h-2zM253.9 321.2h1v1h-1zM379.4 321.2h1v1h-1zM449.2 321.2h1v1h-1zM168.9 322.2h1v1h-1zM447.2 322.2h1v1h-1zM478.2 322.2h1v1h-1zM90.4 323.2h1v1h-1zM165.9 323.2h1v1h-1zM252.9 323.2h1v1h-1zM360.4 323.2h1v1h-1zM442.2 323.2h2v1h-2zM479.2 323.2h1v1h-1zM163.9 324.2h1v1h-1zM359.4 324.2h1v1h-1zM383.4 324.2h1v1h-1zM254.9 325.2h1v1h-1zM357.4 325.2h1v1h-1zM435.2 325.2h1v1h-1zM88.4 326.2h1v1h-1zM162.9 326.2h1v1h-1zM255.9 326.2h1v1h-1zM354.4 326.2h1v1h-1zM433.2 326.2h1v1h-1zM66.4 327.2h1v1h-1zM162.9 327.2h1v1h-1zM259.9 327.2h2v1h-2zM344.4 327.2h1v1h-1zM346.4 327.2h2v1h-2zM385.4 327.2h1v1h-1zM67.4 328.2h1v1h-1zM162.9 328.2h1v1h-1zM265.9 328.2h1v1h-1zM301.9 328.2h1v1h-1zM481.2 328.2h1v1h-1zM68.4 329.2h1v1h-1zM300.9 329.2h1v1h-1zM341.4 329.2h1v1h-1zM432.2 329.2h1v1h-1zM481.2 329.2h1v1h-1zM271.9 330.2h1v1h-1zM340.4 330.2h1v1h-1zM73.4 331.2h1v1h-1zM75.4 331.2h1v1h-1zM341.4 331.2h1v1h-1zM277.9 332.2h1v1h-1zM341.4 332.2h1v1h-1zM480.2 332.2h1v1h-1zM283.9 333.2h1v1h-1zM286.9 333.2h4v1h-4zM343.4 333.2h1v1h-1zM439.2 333.2h1v1h-1zM347.4 334.2h1v1h-1zM349.4 334.2h1v1h-1zM183.9 335.2h1v1h-1zM352.4 335.2h2v1h-2zM448.2 335.2h1v1h-1zM476.2 336.2h1v1h-1zM192.9 337.2h1v1h-1zM474.2 337.2h1v1h-1zM455.2 338.2h1v1h-1zM359.4 341.2h1v1h-1zM363.4 344.2h1v1h-1zM376.4 344.2h1v1h-1z"/><path fill="#262ba9" fill-opacity="0.6" d="M250.9 215.0h2v1h-2zM246.9 216.0h3v1h-3zM260.9 216.0h1v1h-1zM262.9 216.0h1v1h-1zM435.2 216.0h1v1h-1zM437.2 216.0h2v1h-2zM246.9 217.0h1v1h-1zM429.2 218.0h1v1h-1zM345.4 219.0h1v1h-1zM344.4 220.0h1v1h-1zM349.4 220.0h1v1h-1zM427.2 220.0h1v1h-1zM443.2 220.0h1v1h-1zM340.4 221.0h1v1h-1zM342.4 221.0h1v1h-1zM348.4 221.0h1v1h-1zM350.4 221.0h1v1h-1zM444.2 221.0h1v1h-1zM337.4 222.0h1v1h-1zM339.4 222.0h1v1h-1zM351.4 222.0h1v1h-1zM426.2 222.0h1v1h-1zM267.9 223.0h1v1h-1zM354.4 223.0h1v1h-1zM426.2 223.0h1v1h-1zM336.4 224.0h1v1h-1zM336.4 225.0h1v1h-1zM425.2 225.0h1v1h-1zM445.2 225.0h1v1h-1zM267.9 226.0h1v1h-1zM335.4 226.0h2v1h-2zM425.2 226.0h1v1h-1zM266.9 227.0h1v1h-1zM445.2 227.0h1v1h-1zM425.2 228.0h1v1h-1zM265.9 229.0h1v1h-1zM172.9 230.0h1v1h-1zM262.9 231.0h2v1h-2zM335.4 231.0h1v1h-1zM426.2 231.0h1v1h-1zM259.9 232.0h1v1h-1zM334.4 232.0h2v1h-2zM444.2 232.0h1v1h-1zM247.9 233.0h2v1h-2zM358.4 233.0h1v1h-1zM427.2 233.0h1v1h-1zM250.9 234.0h1v1h-1zM253.9 234.0h1v1h-1zM336.4 234.0h1v1h-1zM427.2 234.0h1v1h-1zM253.9 235.0h1v1h-1zM335.4 235.0h1v1h-1zM428.2 235.0h1v1h-1zM442.2 235.0h1v1h-1zM337.4 236.0h1v1h-1zM441.2 236.0h1v1h-1zM431.2 237.0h1v1h-1zM439.2 237.0h2v1h-2zM339.4 238.0h1v1h-1zM354.4 238.0h1v1h-1zM432.2 238.0h1v1h-1zM438.2 238.0h1v1h-1zM340.4 239.0h1v1h-1zM341.4 240.0h2v1h-2zM344.4 240.0h1v1h-1zM348.4 241.0h1v1h-1zM275.9 313.2h2v1h-2zM288.9 313.2h1v1h-1zM291.9 314.2h1v1h-1zM270.9 315.2h1v1h-1zM186.9 316.2h2v1h-2zM196.9 316.2h1v1h-1zM268.9 316.2h1v1h-1zM296.9 316.2h1v1h-1zM184.9 317.2h1v1h-1zM265.9 317.2h2v1h-2zM182.9 318.2h1v1h-1zM262.9 318.2h1v1h-1zM299.9 318.2h1v1h-1zM458.2 318.2h2v1h-2zM467.2 318.2h1v1h-1zM202.9 319.2h1v1h-1zM259.9 319.2h3v1h-3zM300.9 319.2h1v1h-1zM454.2 319.2h2v1h-2zM472.2 319.2h1v1h-1zM256.9 320.2h2v1h-2zM367.4 320.2h2v1h-2zM374.4 320.2h2v1h-2zM452.2 320.2h1v1h-1zM474.2 320.2h1v1h-1zM177.9 321.2h2v1h-2zM254.9 321.2h1v1h-1zM256.9 321.2h1v1h-1zM301.9 321.2h1v1h-1zM378.4 321.2h1v1h-1zM450.2 321.2h1v1h-1zM169.9 322.2h2v1h-2zM173.9 322.2h3v1h-3zM204.9 322.2h1v1h-1zM253.9 322.2h3v1h-3zM362.4 322.2h1v1h-1zM380.4 322.2h1v1h-1zM448.2 322.2h1v1h-1zM477.2 322.2h1v1h-1zM166.9 323.2h3v1h-3zM255.9 323.2h1v1h-1zM361.4 323.2h1v1h-1zM444.2 323.2h3v1h-3zM478.2 323.2h1v1h-1zM164.9 324.2h1v1h-1zM205.9 324.2h1v1h-1zM254.9 324.2h2v1h-2zM440.2 324.2h1v1h-1zM479.2 324.2h1v1h-1zM163.9 325.2h2v1h-2zM205.9 325.2h1v1h-1zM255.9 325.2h3v1h-3zM302.9 325.2h1v1h-1zM358.4 325.2h1v1h-1zM436.2 325.2h4v1h-4zM480.2 325.2h1v1h-1zM164.9 326.2h1v1h-1zM205.9 326.2h1v1h-1zM257.9 326.2h1v1h-1zM302.9 326.2h1v1h-1zM356.4 326.2h2v1h-2zM384.4 326.2h1v1h-1zM434.2 326.2h3v1h-3zM480.2 326.2h1v1h-1zM163.9 327.2h2v1h-2zM205.9 327.2h1v1h-1zM261.9 327.2h2v1h-2zM264.9 327.2h1v1h-1zM301.9 327.2h1v1h-1zM349.4 327.2h1v1h-1zM351.4 327.2h5v1h-5zM433.2 327.2h3v1h-3zM163.9 328.2h1v1h-1zM267.9 328.2h1v1h-1zM344.4 328.2h7v1h-7zM433.2 328.2h2v1h-2zM269.9 329.2h2v1h-2zM299.9 329.2h1v1h-1zM344.4 329.2h3v1h-3zM433.2 329.2h3v1h-3zM165.9 330.2h4v1h-4zM204.9 330.2h1v1h-1zM297.9 330.2h2v1h-2zM341.4 330.2h4v1h-4zM434.2 330.2h2v1h-2zM169.9 331.2h3v1h-3zM173.9 331.2h4v1h-4zM275.9 331.2h1v1h-1zM295.9 331.2h1v1h-1zM342.4 331.2h1v1h-1zM344.4 331.2h1v1h-1zM435.2 331.2h1v1h-1zM437.2 331.2h1v1h-1zM480.2 331.2h1v1h-1zM278.9 332.2h1v1h-1zM291.9 332.2h1v1h-1zM293.9 332.2h1v1h-1zM343.4 332.2h1v1h-1zM345.4 332.2h1v1h-1zM347.4 332.2h1v1h-1zM439.2 332.2h2v1h-2zM344.4 333.2h3v1h-3zM348.4 333.2h1v1h-1zM350.4 333.2h1v1h-1zM441.2 333.2h4v1h-4zM479.2 333.2h1v1h-1zM182.9 334.2h1v1h-1zM351.4 334.2h1v1h-1zM353.4 334.2h1v1h-1zM385.4 334.2h1v1h-1zM478.2 334.2h1v1h-1zM184.9 335.2h1v1h-1zM199.9 335.2h1v1h-1zM354.4 335.2h1v1h-1zM385.4 335.2h1v1h-1zM449.2 335.2h1v1h-1zM477.2 335.2h1v1h-1zM186.9 336.2h2v1h-2zM196.9 336.2h1v1h-1zM356.4 336.2h1v1h-1zM451.2 336.2h1v1h-1zM475.2 336.2h1v1h-1zM356.4 337.2h1v1h-1zM384.4 337.2h1v1h-1zM453.2 337.2h1v1h-1zM473.2 337.2h1v1h-1zM357.4 338.2h1v1h-1zM383.4 338.2h1v1h-1zM456.2 338.2h1v1h-1zM471.2 338.2h1v1h-1zM460.2 339.2h1v1h-1zM462.2 339.2h5v1h-5zM381.4 340.2h1v1h-1zM360.4 341.2h1v1h-1zM380.4 341.2h1v1h-1zM361.4 342.2h1v1h-1zM362.4 343.2h1v1h-1zM365.4 344.2h1v1h-1zM367.4 345.2h1v1h-1zM370.4 345.2h1v1h-1zM372.4 345.2h1v1h-1z"/><path fill="#262ba9" fill-opacity="0.7" d="M432.2 217.0h1v1h-1zM438.2 217.0h1v1h-1zM428.2 220.0h1v1h-1zM426.2 224.0h1v1h-1zM426.2 230.0h1v1h-1zM443.2 233.0h1v1h-1zM428.2 234.0h1v1h-1zM429.2 235.0h1v1h-1zM432.2 237.0h1v1h-1z"/><path fill="#202aaf" fill-opacity="0.6" d="M75.4 217.0h2v1h-2zM72.4 218.0h1v1h-1zM70.4 219.0h1v1h-1zM162.9 219.0h1v1h-1zM172.9 219.0h1v1h-1zM265.9 219.0h1v1h-1zM69.4 220.0h1v1h-1zM88.4 221.0h1v1h-1zM158.9 221.0h1v1h-1zM175.9 221.0h1v1h-1zM347.4 221.0h1v1h-1zM67.4 222.0h1v1h-1zM88.4 222.0h1v1h-1zM157.9 222.0h1v1h-1zM88.4 223.0h1v1h-1zM156.9 223.0h1v1h-1zM176.9 223.0h1v1h-1zM66.4 224.0h1v1h-1zM88.4 224.0h1v1h-1zM354.4 224.0h1v1h-1zM176.9 225.0h1v1h-1zM337.4 225.0h1v1h-1zM155.9 226.0h1v1h-1zM356.4 226.0h1v1h-1zM66.4 227.0h1v1h-1zM83.4 228.0h1v1h-1zM265.9 228.0h1v1h-1zM357.4 228.0h1v1h-1zM173.9 229.0h1v1h-1zM68.4 230.0h1v1h-1zM78.4 230.0h1v1h-1zM70.4 231.0h2v1h-2zM76.4 231.0h1v1h-1zM169.9 231.0h1v1h-1zM261.9 231.0h1v1h-1zM159.9 232.0h1v1h-1zM167.9 232.0h1v1h-1zM162.9 233.0h4v1h-4zM249.9 233.0h1v1h-1zM256.9 233.0h1v1h-1zM357.4 234.0h1v1h-1zM337.4 235.0h1v1h-1zM340.4 238.0h1v1h-1zM353.4 238.0h1v1h-1zM277.9 313.2h1v1h-1zM273.9 314.2h1v1h-1zM293.9 315.2h1v1h-1zM195.9 316.2h1v1h-1zM295.9 316.2h1v1h-1zM75.4 317.2h1v1h-1zM83.4 317.2h1v1h-1zM297.9 317.2h1v1h-1zM71.4 318.2h1v1h-1zM86.4 318.2h1v1h-1zM264.9 318.2h1v1h-1zM298.9 318.2h1v1h-1zM460.2 318.2h2v1h-2zM465.2 318.2h2v1h-2zM262.9 319.2h1v1h-1zM471.2 319.2h1v1h-1zM68.4 320.2h1v1h-1zM180.9 320.2h1v1h-1zM260.9 320.2h1v1h-1zM300.9 320.2h1v1h-1zM369.4 320.2h4v1h-4zM453.2 320.2h1v1h-1zM89.4 321.2h1v1h-1zM203.9 321.2h1v1h-1zM257.9 321.2h2v1h-2zM365.4 321.2h1v1h-1zM451.2 321.2h1v1h-1zM176.9 322.2h1v1h-1zM256.9 322.2h2v1h-2zM301.9 322.2h1v1h-1zM363.4 322.2h1v1h-1zM449.2 322.2h1v1h-1zM170.9 323.2h2v1h-2zM256.9 323.2h1v1h-1zM381.4 323.2h1v1h-1zM447.2 323.2h1v1h-1zM89.4 324.2h1v1h-1zM166.9 324.2h2v1h-2zM256.9 324.2h2v1h-2zM382.4 324.2h1v1h-1zM443.2 324.2h1v1h-1zM66.4 325.2h1v1h-1zM88.4 325.2h1v1h-1zM165.9 325.2h1v1h-1zM258.9 325.2h1v1h-1zM359.4 325.2h1v1h-1zM383.4 325.2h1v1h-1zM440.2 325.2h2v1h-2zM87.4 326.2h1v1h-1zM165.9 326.2h1v1h-1zM261.9 326.2h2v1h-2zM301.9 326.2h1v1h-1zM437.2 326.2h2v1h-2zM67.4 327.2h1v1h-1zM165.9 327.2h1v1h-1zM265.9 327.2h1v1h-1zM436.2 327.2h2v1h-2zM480.2 327.2h1v1h-1zM68.4 328.2h1v1h-1zM268.9 328.2h1v1h-1zM351.4 328.2h3v1h-3zM436.2 328.2h1v1h-1zM69.4 329.2h1v1h-1zM80.4 329.2h1v1h-1zM166.9 329.2h2v1h-2zM347.4 329.2h2v1h-2zM350.4 329.2h1v1h-1zM436.2 329.2h1v1h-1zM71.4 330.2h2v1h-2zM76.4 330.2h1v1h-1zM169.9 330.2h2v1h-2zM345.4 330.2h2v1h-2zM348.4 330.2h1v1h-1zM436.2 330.2h2v1h-2zM480.2 330.2h1v1h-1zM203.9 331.2h1v1h-1zM276.9 331.2h1v1h-1zM294.9 331.2h1v1h-1zM345.4 331.2h4v1h-4zM438.2 331.2h2v1h-2zM280.9 332.2h1v1h-1zM290.9 332.2h1v1h-1zM348.4 332.2h1v1h-1zM350.4 332.2h1v1h-1zM441.2 332.2h2v1h-2zM479.2 332.2h1v1h-1zM181.9 333.2h1v1h-1zM351.4 333.2h1v1h-1zM385.4 333.2h1v1h-1zM354.4 334.2h1v1h-1zM198.9 335.2h1v1h-1zM195.9 336.2h1v1h-1zM384.4 336.2h1v1h-1zM357.4 337.2h1v1h-1zM454.2 337.2h1v1h-1zM358.4 338.2h1v1h-1zM457.2 338.2h1v1h-1zM378.4 342.2h1v1h-1zM366.4 344.2h1v1h-1z"/><path fill="#202aaf" fill-opacity="0.7" d="M251.9 216.0h1v1h-1zM254.9 216.0h1v1h-1zM256.9 216.0h2v1h-2zM247.9 217.0h1v1h-1zM261.9 217.0h1v1h-1zM433.2 217.0h2v1h-2zM436.2 217.0h2v1h-2zM246.9 218.0h2v1h-2zM263.9 218.0h1v1h-1zM431.2 218.0h1v1h-1zM245.9 219.0h1v1h-1zM264.9 219.0h1v1h-1zM430.2 219.0h1v1h-1zM441.2 219.0h1v1h-1zM244.9 220.0h1v1h-1zM429.2 220.0h1v1h-1zM442.2 220.0h1v1h-1zM344.4 221.0h2v1h-2zM341.4 222.0h2v1h-2zM346.4 222.0h4v1h-4zM427.2 222.0h1v1h-1zM443.2 222.0h1v1h-1zM266.9 223.0h1v1h-1zM340.4 223.0h2v1h-2zM351.4 223.0h2v1h-2zM338.4 224.0h2v1h-2zM353.4 224.0h1v1h-1zM444.2 224.0h1v1h-1zM266.9 225.0h1v1h-1zM338.4 225.0h1v1h-1zM354.4 225.0h1v1h-1zM266.9 226.0h1v1h-1zM338.4 226.0h1v1h-1zM355.4 226.0h1v1h-1zM265.9 227.0h1v1h-1zM337.4 227.0h1v1h-1zM356.4 227.0h1v1h-1zM426.2 227.0h1v1h-1zM444.2 227.0h1v1h-1zM264.9 228.0h1v1h-1zM337.4 228.0h1v1h-1zM426.2 228.0h1v1h-1zM444.2 228.0h1v1h-1zM263.9 229.0h1v1h-1zM336.4 229.0h1v1h-1zM245.9 230.0h1v1h-1zM262.9 230.0h1v1h-1zM337.4 230.0h1v1h-1zM357.4 230.0h1v1h-1zM246.9 231.0h1v1h-1zM259.9 231.0h1v1h-1zM337.4 231.0h1v1h-1zM427.2 231.0h1v1h-1zM247.9 232.0h3v1h-3zM257.9 232.0h1v1h-1zM336.4 232.0h2v1h-2zM357.4 232.0h1v1h-1zM252.9 233.0h2v1h-2zM337.4 233.0h1v1h-1zM428.2 233.0h1v1h-1zM337.4 234.0h2v1h-2zM429.2 234.0h1v1h-1zM442.2 234.0h1v1h-1zM338.4 235.0h1v1h-1zM356.4 235.0h1v1h-1zM430.2 235.0h1v1h-1zM441.2 235.0h1v1h-1zM338.4 236.0h1v1h-1zM355.4 236.0h1v1h-1zM431.2 236.0h1v1h-1zM439.2 236.0h1v1h-1zM340.4 237.0h1v1h-1zM434.2 237.0h2v1h-2zM437.2 237.0h1v1h-1zM344.4 239.0h1v1h-1zM348.4 239.0h1v1h-1zM350.4 239.0h1v1h-1zM278.9 313.2h1v1h-1zM285.9 313.2h1v1h-1zM290.9 314.2h1v1h-1zM271.9 315.2h1v1h-1zM188.9 316.2h2v1h-2zM194.9 316.2h1v1h-1zM269.9 316.2h1v1h-1zM185.9 317.2h1v1h-1zM267.9 317.2h1v1h-1zM183.9 318.2h1v1h-1zM265.9 318.2h1v1h-1zM462.2 318.2h3v1h-3zM201.9 319.2h1v1h-1zM263.9 319.2h1v1h-1zM470.2 319.2h1v1h-1zM202.9 320.2h1v1h-1zM261.9 320.2h1v1h-1zM473.2 320.2h1v1h-1zM179.9 321.2h1v1h-1zM259.9 321.2h2v1h-2zM300.9 321.2h1v1h-1zM366.4 321.2h1v1h-1zM377.4 321.2h1v1h-1zM475.2 321.2h1v1h-1zM177.9 322.2h1v1h-1zM259.9 322.2h1v1h-1zM364.4 322.2h1v1h-1zM379.4 322.2h1v1h-1zM173.9 323.2h3v1h-3zM204.9 323.2h1v1h-1zM257.9 323.2h1v1h-1zM259.9 323.2h1v1h-1zM301.9 323.2h1v1h-1zM362.4 323.2h1v1h-1zM168.9 324.2h3v1h-3zM258.9 324.2h2v1h-2zM301.9 324.2h1v1h-1zM166.9 325.2h2v1h-2zM260.9 325.2h2v1h-2zM301.9 325.2h1v1h-1zM442.2 325.2h1v1h-1zM479.2 325.2h1v1h-1zM166.9 326.2h1v1h-1zM263.9 326.2h1v1h-1zM439.2 326.2h2v1h-2zM166.9 327.2h1v1h-1zM266.9 327.2h1v1h-1zM300.9 327.2h1v1h-1zM357.4 327.2h1v1h-1zM384.4 327.2h1v1h-1zM438.2 327.2h2v1h-2zM166.9 328.2h2v1h-2zM299.9 328.2h1v1h-1zM354.4 328.2h2v1h-2zM437.2 328.2h2v1h-2zM480.2 328.2h1v1h-1zM168.9 329.2h2v1h-2zM204.9 329.2h1v1h-1zM271.9 329.2h1v1h-1zM351.4 329.2h3v1h-3zM437.2 329.2h1v1h-1zM171.9 330.2h5v1h-5zM296.9 330.2h1v1h-1zM351.4 330.2h1v1h-1zM385.4 330.2h1v1h-1zM438.2 330.2h2v1h-2zM178.9 331.2h1v1h-1zM277.9 331.2h1v1h-1zM293.9 331.2h1v1h-1zM349.4 331.2h2v1h-2zM385.4 331.2h1v1h-1zM440.2 331.2h2v1h-2zM180.9 332.2h1v1h-1zM202.9 332.2h1v1h-1zM281.9 332.2h9v1h-9zM351.4 332.2h3v1h-3zM385.4 332.2h1v1h-1zM443.2 332.2h1v1h-1zM201.9 333.2h1v1h-1zM353.4 333.2h2v1h-2zM446.2 333.2h1v1h-1zM478.2 333.2h1v1h-1zM355.4 334.2h1v1h-1zM448.2 334.2h1v1h-1zM477.2 334.2h1v1h-1zM185.9 335.2h1v1h-1zM356.4 335.2h1v1h-1zM384.4 335.2h1v1h-1zM450.2 335.2h1v1h-1zM476.2 335.2h1v1h-1zM188.9 336.2h2v1h-2zM194.9 336.2h1v1h-1zM452.2 336.2h1v1h-1zM474.2 336.2h1v1h-1zM383.4 337.2h1v1h-1zM472.2 337.2h1v1h-1zM458.2 338.2h1v1h-1zM468.2 338.2h2v1h-2zM359.4 339.2h1v1h-1zM360.4 340.2h1v1h-1zM361.4 341.2h1v1h-1zM379.4 341.2h1v1h-1zM362.4 342.2h1v1h-1zM377.4 342.2h1v1h-1zM364.4 343.2h1v1h-1zM375.4 343.2h1v1h-1zM367.4 344.2h6v1h-6z"/><path fill="#202aaf" fill-opacity="0.8" d="M438.2 218.0h1v1h-1zM441.2 220.0h1v1h-1zM442.2 221.0h1v1h-1zM443.2 223.0h1v1h-1zM443.2 231.0h1v1h-1zM442.2 233.0h1v1h-1zM440.2 235.0h1v1h-1zM432.2 236.0h1v1h-1zM438.2 236.0h1v1h-1z"/><path fill="#202aaf" d="M279.9 313.2h1v1h-1zM284.9 313.2h1v1h-1zM274.9 314.2h1v1h-1zM292.9 315.2h1v1h-1zM190.9 316.2h4v1h-4zM197.9 317.2h1v1h-1zM296.9 317.2h1v1h-1zM266.9 318.2h1v1h-1zM264.9 319.2h1v1h-1zM457.2 319.2h1v1h-1zM262.9 320.2h1v1h-1zM454.2 320.2h1v1h-1zM261.9 321.2h1v1h-1zM376.4 321.2h1v1h-1zM178.9 322.2h1v1h-1zM260.9 322.2h1v1h-1zM450.2 322.2h1v1h-1zM476.2 322.2h1v1h-1zM176.9 323.2h1v1h-1zM448.2 323.2h1v1h-1zM171.9 324.2h1v1h-1zM204.9 324.2h1v1h-1zM260.9 324.2h1v1h-1zM361.4 324.2h1v1h-1zM446.2 324.2h1v1h-1zM478.2 324.2h1v1h-1zM168.9 325.2h1v1h-1zM262.9 325.2h1v1h-1zM360.4 325.2h1v1h-1zM443.2 325.2h1v1h-1zM167.9 326.2h1v1h-1zM264.9 326.2h1v1h-1zM300.9 326.2h1v1h-1zM441.2 326.2h1v1h-1zM167.9 327.2h1v1h-1zM267.9 327.2h1v1h-1zM440.2 327.2h1v1h-1zM168.9 328.2h1v1h-1zM204.9 328.2h1v1h-1zM356.4 328.2h1v1h-1zM439.2 328.2h1v1h-1zM170.9 329.2h2v1h-2zM297.9 329.2h1v1h-1zM354.4 329.2h1v1h-1zM439.2 329.2h1v1h-1zM177.9 330.2h1v1h-1zM274.9 330.2h1v1h-1zM295.9 330.2h1v1h-1zM352.4 330.2h2v1h-2zM440.2 330.2h1v1h-1zM179.9 331.2h1v1h-1zM352.4 331.2h2v1h-2zM442.2 331.2h1v1h-1zM479.2 331.2h1v1h-1zM354.4 332.2h1v1h-1zM444.2 332.2h1v1h-1zM355.4 333.2h1v1h-1zM447.2 333.2h1v1h-1zM356.4 334.2h1v1h-1zM449.2 334.2h1v1h-1zM197.9 335.2h1v1h-1zM190.9 336.2h4v1h-4zM358.4 337.2h1v1h-1zM455.2 337.2h1v1h-1zM382.4 338.2h1v1h-1zM459.2 338.2h1v1h-1zM381.4 339.2h1v1h-1zM380.4 340.2h1v1h-1zM363.4 342.2h1v1h-1zM365.4 343.2h1v1h-1z"/><path fill="#1f2fb6" fill-opacity="0.6" d="M81.4 217.0h1v1h-1zM87.4 220.0h1v1h-1zM68.4 221.0h1v1h-1zM87.4 225.0h1v1h-1zM66.4 226.0h1v1h-1zM86.4 226.0h1v1h-1zM80.4 229.0h1v1h-1zM82.4 317.2h1v1h-1zM89.4 323.2h1v1h-1zM73.4 330.2h1v1h-1z"/><path fill="#1f2fb6" fill-opacity="0.7" d="M77.4 217.0h2v1h-2zM80.4 217.0h1v1h-1zM73.4 218.0h1v1h-1zM84.4 218.0h1v1h-1zM71.4 219.0h1v1h-1zM163.9 219.0h1v1h-1zM173.9 220.0h1v1h-1zM175.9 222.0h1v1h-1zM156.9 224.0h1v1h-1zM66.4 225.0h1v1h-1zM175.9 227.0h1v1h-1zM67.4 228.0h1v1h-1zM82.4 228.0h1v1h-1zM174.9 228.0h1v1h-1zM156.9 229.0h1v1h-1zM69.4 230.0h1v1h-1zM171.9 230.0h1v1h-1zM72.4 231.0h2v1h-2zM158.9 231.0h1v1h-1zM160.9 232.0h1v1h-1zM166.9 232.0h1v1h-1zM76.4 317.2h1v1h-1zM81.4 317.2h1v1h-1zM72.4 318.2h1v1h-1zM85.4 318.2h1v1h-1zM70.4 319.2h1v1h-1zM87.4 319.2h1v1h-1zM88.4 320.2h1v1h-1zM67.4 326.2h1v1h-1zM70.4 329.2h1v1h-1zM79.4 329.2h1v1h-1zM74.4 330.2h1v1h-1z"/><path fill="#1f2fb6" fill-opacity="0.8" d="M252.9 217.0h6v1h-6zM259.9 217.0h2v1h-2zM248.9 218.0h2v1h-2zM262.9 218.0h1v1h-1zM433.2 218.0h5v1h-5zM246.9 219.0h2v1h-2zM263.9 219.0h1v1h-1zM431.2 219.0h2v1h-2zM245.9 220.0h2v1h-2zM264.9 220.0h1v1h-1zM430.2 220.0h1v1h-1zM244.9 221.0h2v1h-2zM429.2 221.0h1v1h-1zM441.2 221.0h1v1h-1zM244.9 222.0h1v1h-1zM428.2 222.0h1v1h-1zM442.2 222.0h1v1h-1zM342.4 223.0h2v1h-2zM345.4 223.0h6v1h-6zM428.2 223.0h1v1h-1zM340.4 224.0h1v1h-1zM342.4 224.0h1v1h-1zM351.4 224.0h1v1h-1zM427.2 224.0h1v1h-1zM443.2 224.0h1v1h-1zM353.4 225.0h1v1h-1zM427.2 225.0h1v1h-1zM443.2 225.0h1v1h-1zM244.9 226.0h1v1h-1zM265.9 226.0h1v1h-1zM339.4 226.0h1v1h-1zM354.4 226.0h1v1h-1zM427.2 226.0h1v1h-1zM443.2 226.0h1v1h-1zM244.9 227.0h1v1h-1zM264.9 227.0h1v1h-1zM338.4 227.0h2v1h-2zM355.4 227.0h1v1h-1zM427.2 227.0h1v1h-1zM443.2 227.0h1v1h-1zM245.9 228.0h1v1h-1zM338.4 228.0h1v1h-1zM356.4 228.0h1v1h-1zM427.2 228.0h1v1h-1zM443.2 228.0h1v1h-1zM245.9 229.0h2v1h-2zM262.9 229.0h1v1h-1zM338.4 229.0h1v1h-1zM427.2 229.0h1v1h-1zM246.9 230.0h2v1h-2zM260.9 230.0h2v1h-2zM338.4 230.0h1v1h-1zM427.2 230.0h1v1h-1zM443.2 230.0h1v1h-1zM248.9 231.0h3v1h-3zM255.9 231.0h4v1h-4zM338.4 231.0h1v1h-1zM428.2 231.0h1v1h-1zM250.9 232.0h4v1h-4zM338.4 232.0h1v1h-1zM428.2 232.0h1v1h-1zM338.4 233.0h1v1h-1zM356.4 233.0h1v1h-1zM441.2 233.0h1v1h-1zM356.4 234.0h1v1h-1zM430.2 234.0h1v1h-1zM440.2 234.0h1v1h-1zM339.4 235.0h2v1h-2zM355.4 235.0h1v1h-1zM431.2 235.0h2v1h-2zM439.2 235.0h1v1h-1zM340.4 236.0h2v1h-2zM354.4 236.0h1v1h-1zM433.2 236.0h2v1h-2zM436.2 236.0h2v1h-2zM341.4 237.0h1v1h-1zM343.4 237.0h1v1h-1zM352.4 237.0h2v1h-2zM343.4 238.0h1v1h-1zM345.4 238.0h1v1h-1zM347.4 238.0h2v1h-2zM351.4 238.0h1v1h-1z"/><path fill="#1f2fb6" d="M79.4 217.0h1v1h-1zM159.9 221.0h1v1h-1zM84.4 227.0h1v1h-1zM68.4 229.0h1v1h-1zM77.4 230.0h1v1h-1zM157.9 230.0h1v1h-1zM168.9 231.0h1v1h-1zM165.9 232.0h1v1h-1zM280.9 313.2h4v1h-4zM275.9 314.2h1v1h-1zM288.9 314.2h2v1h-2zM272.9 315.2h1v1h-1zM291.9 315.2h1v1h-1zM270.9 316.2h1v1h-1zM293.9 316.2h2v1h-2zM77.4 317.2h1v1h-1zM80.4 317.2h1v1h-1zM186.9 317.2h2v1h-2zM196.9 317.2h1v1h-1zM268.9 317.2h2v1h-2zM295.9 317.2h1v1h-1zM184.9 318.2h1v1h-1zM198.9 318.2h2v1h-2zM267.9 318.2h1v1h-1zM296.9 318.2h2v1h-2zM182.9 319.2h1v1h-1zM200.9 319.2h1v1h-1zM265.9 319.2h2v1h-2zM298.9 319.2h1v1h-1zM458.2 319.2h2v1h-2zM467.2 319.2h3v1h-3zM181.9 320.2h1v1h-1zM201.9 320.2h1v1h-1zM263.9 320.2h2v1h-2zM298.9 320.2h2v1h-2zM455.2 320.2h1v1h-1zM471.2 320.2h2v1h-2zM180.9 321.2h1v1h-1zM202.9 321.2h1v1h-1zM262.9 321.2h2v1h-2zM299.9 321.2h1v1h-1zM367.4 321.2h3v1h-3zM373.4 321.2h3v1h-3zM452.2 321.2h2v1h-2zM474.2 321.2h1v1h-1zM179.9 322.2h1v1h-1zM203.9 322.2h1v1h-1zM261.9 322.2h3v1h-3zM300.9 322.2h1v1h-1zM365.4 322.2h1v1h-1zM378.4 322.2h1v1h-1zM451.2 322.2h1v1h-1zM475.2 322.2h1v1h-1zM67.4 323.2h1v1h-1zM177.9 323.2h2v1h-2zM203.9 323.2h1v1h-1zM260.9 323.2h4v1h-4zM300.9 323.2h1v1h-1zM363.4 323.2h1v1h-1zM380.4 323.2h1v1h-1zM449.2 323.2h1v1h-1zM477.2 323.2h1v1h-1zM172.9 324.2h6v1h-6zM261.9 324.2h3v1h-3zM300.9 324.2h1v1h-1zM362.4 324.2h1v1h-1zM381.4 324.2h1v1h-1zM447.2 324.2h2v1h-2zM67.4 325.2h1v1h-1zM169.9 325.2h7v1h-7zM204.9 325.2h1v1h-1zM263.9 325.2h3v1h-3zM300.9 325.2h1v1h-1zM361.4 325.2h1v1h-1zM382.4 325.2h1v1h-1zM444.2 325.2h3v1h-3zM478.2 325.2h1v1h-1zM168.9 326.2h6v1h-6zM204.9 326.2h1v1h-1zM265.9 326.2h3v1h-3zM299.9 326.2h1v1h-1zM359.4 326.2h2v1h-2zM383.4 326.2h1v1h-1zM442.2 326.2h3v1h-3zM479.2 326.2h1v1h-1zM168.9 327.2h6v1h-6zM204.9 327.2h1v1h-1zM268.9 327.2h2v1h-2zM298.9 327.2h2v1h-2zM358.4 327.2h2v1h-2zM441.2 327.2h3v1h-3zM479.2 327.2h1v1h-1zM169.9 328.2h8v1h-8zM270.9 328.2h2v1h-2zM297.9 328.2h2v1h-2zM357.4 328.2h2v1h-2zM384.4 328.2h1v1h-1zM440.2 328.2h4v1h-4zM479.2 328.2h1v1h-1zM172.9 329.2h6v1h-6zM203.9 329.2h1v1h-1zM272.9 329.2h2v1h-2zM296.9 329.2h1v1h-1zM355.4 329.2h3v1h-3zM384.4 329.2h1v1h-1zM440.2 329.2h4v1h-4zM479.2 329.2h1v1h-1zM178.9 330.2h2v1h-2zM203.9 330.2h1v1h-1zM275.9 330.2h1v1h-1zM293.9 330.2h2v1h-2zM354.4 330.2h4v1h-4zM441.2 330.2h4v1h-4zM479.2 330.2h1v1h-1zM180.9 331.2h1v1h-1zM202.9 331.2h1v1h-1zM278.9 331.2h3v1h-3zM289.9 331.2h4v1h-4zM354.4 331.2h3v1h-3zM443.2 331.2h3v1h-3zM181.9 332.2h1v1h-1zM201.9 332.2h1v1h-1zM355.4 332.2h2v1h-2zM445.2 332.2h3v1h-3zM478.2 332.2h1v1h-1zM182.9 333.2h1v1h-1zM200.9 333.2h1v1h-1zM356.4 333.2h2v1h-2zM384.4 333.2h1v1h-1zM448.2 333.2h1v1h-1zM477.2 333.2h1v1h-1zM184.9 334.2h1v1h-1zM198.9 334.2h2v1h-2zM357.4 334.2h1v1h-1zM384.4 334.2h1v1h-1zM450.2 334.2h1v1h-1zM476.2 334.2h1v1h-1zM186.9 335.2h2v1h-2zM196.9 335.2h1v1h-1zM357.4 335.2h2v1h-2zM451.2 335.2h2v1h-2zM475.2 335.2h1v1h-1zM358.4 336.2h1v1h-1zM383.4 336.2h1v1h-1zM453.2 336.2h2v1h-2zM473.2 336.2h1v1h-1zM359.4 337.2h1v1h-1zM382.4 337.2h1v1h-1zM456.2 337.2h1v1h-1zM470.2 337.2h2v1h-2zM359.4 338.2h1v1h-1zM460.2 338.2h8v1h-8zM360.4 339.2h1v1h-1zM361.4 340.2h1v1h-1zM379.4 340.2h1v1h-1zM362.4 341.2h2v1h-2zM378.4 341.2h1v1h-1zM364.4 342.2h1v1h-1zM375.4 342.2h2v1h-2zM366.4 343.2h9v1h-9z"/><path fill="#1f35bd" fill-opacity="0.8" d="M252.9 218.0h2v1h-2zM260.9 218.0h1v1h-1zM248.9 219.0h2v1h-2zM433.2 219.0h1v1h-1zM435.2 219.0h1v1h-1zM438.2 219.0h1v1h-1zM431.2 220.0h1v1h-1zM246.9 221.0h1v1h-1zM264.9 221.0h1v1h-1zM430.2 221.0h1v1h-1zM440.2 221.0h1v1h-1zM245.9 222.0h1v1h-1zM429.2 222.0h1v1h-1zM245.9 223.0h1v1h-1zM265.9 223.0h1v1h-1zM442.2 223.0h1v1h-1zM244.9 224.0h2v1h-2zM265.9 224.0h1v1h-1zM343.4 224.0h8v1h-8zM442.2 224.0h1v1h-1zM244.9 225.0h2v1h-2zM265.9 225.0h1v1h-1zM342.4 225.0h1v1h-1zM352.4 225.0h1v1h-1zM442.2 225.0h1v1h-1zM245.9 226.0h1v1h-1zM264.9 226.0h1v1h-1zM340.4 226.0h2v1h-2zM353.4 226.0h1v1h-1zM428.2 226.0h1v1h-1zM245.9 227.0h1v1h-1zM340.4 227.0h1v1h-1zM354.4 227.0h1v1h-1zM246.9 228.0h1v1h-1zM263.9 228.0h1v1h-1zM355.4 228.0h1v1h-1zM428.2 228.0h1v1h-1zM247.9 229.0h1v1h-1zM261.9 229.0h1v1h-1zM428.2 229.0h1v1h-1zM442.2 229.0h1v1h-1zM248.9 230.0h2v1h-2zM257.9 230.0h2v1h-2zM339.4 230.0h1v1h-1zM356.4 230.0h1v1h-1zM428.2 230.0h1v1h-1zM442.2 230.0h1v1h-1zM251.9 231.0h4v1h-4zM339.4 231.0h1v1h-1zM356.4 231.0h1v1h-1zM442.2 231.0h1v1h-1zM356.4 232.0h1v1h-1zM429.2 232.0h1v1h-1zM441.2 232.0h1v1h-1zM339.4 233.0h1v1h-1zM430.2 233.0h1v1h-1zM440.2 233.0h1v1h-1zM340.4 234.0h1v1h-1zM431.2 234.0h1v1h-1zM354.4 235.0h1v1h-1zM433.2 235.0h3v1h-3zM438.2 235.0h1v1h-1zM342.4 236.0h1v1h-1zM353.4 236.0h1v1h-1zM344.4 237.0h2v1h-2zM350.4 237.0h2v1h-2z"/><path fill="#1f35bd" d="M74.4 218.0h1v1h-1zM164.9 219.0h2v1h-2zM170.9 219.0h1v1h-1zM70.4 220.0h1v1h-1zM161.9 220.0h1v1h-1zM87.4 221.0h1v1h-1zM174.9 221.0h1v1h-1zM68.4 222.0h1v1h-1zM158.9 222.0h1v1h-1zM67.4 223.0h1v1h-1zM157.9 223.0h1v1h-1zM87.4 224.0h1v1h-1zM156.9 225.0h1v1h-1zM156.9 226.0h1v1h-1zM175.9 226.0h1v1h-1zM67.4 227.0h1v1h-1zM156.9 227.0h1v1h-1zM81.4 228.0h1v1h-1zM156.9 228.0h1v1h-1zM79.4 229.0h1v1h-1zM172.9 229.0h1v1h-1zM70.4 230.0h1v1h-1zM170.9 230.0h1v1h-1zM159.9 231.0h1v1h-1zM167.9 231.0h1v1h-1zM161.9 232.0h4v1h-4zM276.9 314.2h2v1h-2zM286.9 314.2h2v1h-2zM273.9 315.2h1v1h-1zM290.9 315.2h1v1h-1zM271.9 316.2h1v1h-1zM292.9 316.2h1v1h-1zM78.4 317.2h2v1h-2zM188.9 317.2h2v1h-2zM194.9 317.2h2v1h-2zM270.9 317.2h1v1h-1zM294.9 317.2h1v1h-1zM73.4 318.2h1v1h-1zM84.4 318.2h1v1h-1zM185.9 318.2h1v1h-1zM197.9 318.2h1v1h-1zM268.9 318.2h1v1h-1zM183.9 319.2h1v1h-1zM199.9 319.2h1v1h-1zM267.9 319.2h1v1h-1zM297.9 319.2h1v1h-1zM460.2 319.2h7v1h-7zM69.4 320.2h1v1h-1zM182.9 320.2h1v1h-1zM265.9 320.2h2v1h-2zM456.2 320.2h2v1h-2zM470.2 320.2h1v1h-1zM68.4 321.2h1v1h-1zM88.4 321.2h1v1h-1zM181.9 321.2h1v1h-1zM264.9 321.2h2v1h-2zM298.9 321.2h1v1h-1zM370.4 321.2h3v1h-3zM454.2 321.2h1v1h-1zM473.2 321.2h1v1h-1zM180.9 322.2h1v1h-1zM202.9 322.2h1v1h-1zM264.9 322.2h2v1h-2zM299.9 322.2h1v1h-1zM366.4 322.2h2v1h-2zM376.4 322.2h2v1h-2zM452.2 322.2h1v1h-1zM474.2 322.2h1v1h-1zM179.9 323.2h1v1h-1zM264.9 323.2h2v1h-2zM299.9 323.2h1v1h-1zM364.4 323.2h1v1h-1zM379.4 323.2h1v1h-1zM450.2 323.2h1v1h-1zM476.2 323.2h1v1h-1zM67.4 324.2h1v1h-1zM88.4 324.2h1v1h-1zM178.9 324.2h1v1h-1zM203.9 324.2h1v1h-1zM264.9 324.2h2v1h-2zM299.9 324.2h1v1h-1zM363.4 324.2h1v1h-1zM380.4 324.2h1v1h-1zM449.2 324.2h1v1h-1zM477.2 324.2h1v1h-1zM87.4 325.2h1v1h-1zM176.9 325.2h3v1h-3zM203.9 325.2h1v1h-1zM266.9 325.2h2v1h-2zM299.9 325.2h1v1h-1zM381.4 325.2h1v1h-1zM447.2 325.2h2v1h-2zM86.4 326.2h1v1h-1zM174.9 326.2h4v1h-4zM268.9 326.2h1v1h-1zM298.9 326.2h1v1h-1zM382.4 326.2h1v1h-1zM445.2 326.2h3v1h-3zM478.2 326.2h1v1h-1zM68.4 327.2h1v1h-1zM84.4 327.2h1v1h-1zM174.9 327.2h4v1h-4zM203.9 327.2h1v1h-1zM270.9 327.2h1v1h-1zM297.9 327.2h1v1h-1zM360.4 327.2h1v1h-1zM383.4 327.2h1v1h-1zM444.2 327.2h3v1h-3zM478.2 327.2h1v1h-1zM69.4 328.2h1v1h-1zM81.4 328.2h1v1h-1zM177.9 328.2h2v1h-2zM203.9 328.2h1v1h-1zM272.9 328.2h1v1h-1zM296.9 328.2h1v1h-1zM359.4 328.2h1v1h-1zM383.4 328.2h1v1h-1zM444.2 328.2h2v1h-2zM71.4 329.2h1v1h-1zM78.4 329.2h1v1h-1zM178.9 329.2h2v1h-2zM274.9 329.2h1v1h-1zM294.9 329.2h2v1h-2zM358.4 329.2h1v1h-1zM444.2 329.2h2v1h-2zM180.9 330.2h1v1h-1zM202.9 330.2h1v1h-1zM276.9 330.2h2v1h-2zM292.9 330.2h1v1h-1zM358.4 330.2h1v1h-1zM384.4 330.2h1v1h-1zM445.2 330.2h2v1h-2zM478.2 330.2h1v1h-1zM181.9 331.2h1v1h-1zM281.9 331.2h8v1h-8zM357.4 331.2h2v1h-2zM384.4 331.2h1v1h-1zM446.2 331.2h2v1h-2zM478.2 331.2h1v1h-1zM182.9 332.2h1v1h-1zM357.4 332.2h2v1h-2zM384.4 332.2h1v1h-1zM448.2 332.2h1v1h-1zM477.2 332.2h1v1h-1zM183.9 333.2h1v1h-1zM199.9 333.2h1v1h-1zM358.4 333.2h1v1h-1zM449.2 333.2h1v1h-1zM476.2 333.2h1v1h-1zM185.9 334.2h1v1h-1zM197.9 334.2h1v1h-1zM358.4 334.2h1v1h-1zM451.2 334.2h1v1h-1zM475.2 334.2h1v1h-1zM188.9 335.2h2v1h-2zM194.9 335.2h2v1h-2zM383.4 335.2h1v1h-1zM453.2 335.2h1v1h-1zM474.2 335.2h1v1h-1zM359.4 336.2h1v1h-1zM455.2 336.2h1v1h-1zM472.2 336.2h1v1h-1zM360.4 337.2h1v1h-1zM457.2 337.2h2v1h-2zM468.2 337.2h2v1h-2zM360.4 338.2h1v1h-1zM381.4 338.2h1v1h-1zM361.4 339.2h1v1h-1zM380.4 339.2h1v1h-1zM362.4 340.2h1v1h-1zM378.4 340.2h1v1h-1zM364.4 341.2h1v1h-1zM376.4 341.2h2v1h-2zM365.4 342.2h3v1h-3zM373.4 342.2h2v1h-2z"/><path fill="#1e3ac4" fill-opacity="0.8" d="M254.9 218.0h3v1h-3zM258.9 218.0h2v1h-2zM250.9 219.0h2v1h-2zM249.9 220.0h1v1h-1zM263.9 220.0h1v1h-1zM432.2 220.0h1v1h-1zM437.2 220.0h2v1h-2zM247.9 221.0h1v1h-1zM431.2 221.0h1v1h-1zM439.2 221.0h1v1h-1zM246.9 222.0h1v1h-1zM264.9 222.0h1v1h-1zM430.2 222.0h1v1h-1zM440.2 222.0h1v1h-1zM246.9 223.0h1v1h-1zM441.2 223.0h1v1h-1zM246.9 224.0h1v1h-1zM429.2 224.0h1v1h-1zM264.9 225.0h1v1h-1zM343.4 225.0h3v1h-3zM350.4 225.0h1v1h-1zM246.9 227.0h1v1h-1zM263.9 227.0h1v1h-1zM341.4 227.0h1v1h-1zM442.2 227.0h1v1h-1zM247.9 228.0h2v1h-2zM262.9 228.0h1v1h-1zM341.4 228.0h1v1h-1zM354.4 228.0h1v1h-1zM248.9 229.0h3v1h-3zM259.9 229.0h2v1h-2zM340.4 229.0h1v1h-1zM355.4 229.0h1v1h-1zM252.9 230.0h5v1h-5zM340.4 230.0h1v1h-1zM429.2 230.0h1v1h-1zM340.4 231.0h1v1h-1zM355.4 231.0h1v1h-1zM429.2 231.0h1v1h-1zM441.2 231.0h1v1h-1zM430.2 232.0h1v1h-1zM440.2 232.0h1v1h-1zM341.4 233.0h1v1h-1zM355.4 233.0h1v1h-1zM431.2 233.0h1v1h-1zM439.2 233.0h1v1h-1zM341.4 234.0h1v1h-1zM354.4 234.0h1v1h-1zM432.2 234.0h2v1h-2zM437.2 234.0h1v1h-1zM342.4 235.0h1v1h-1zM353.4 235.0h1v1h-1zM343.4 236.0h2v1h-2zM352.4 236.0h1v1h-1zM347.4 237.0h3v1h-3z"/><path fill="#1e3ac4" d="M83.4 218.0h1v1h-1zM72.4 219.0h1v1h-1zM85.4 219.0h1v1h-1zM166.9 219.0h4v1h-4zM86.4 220.0h1v1h-1zM162.9 220.0h1v1h-1zM172.9 220.0h1v1h-1zM69.4 221.0h1v1h-1zM160.9 221.0h1v1h-1zM87.4 222.0h1v1h-1zM87.4 223.0h1v1h-1zM175.9 223.0h1v1h-1zM67.4 224.0h1v1h-1zM157.9 224.0h1v1h-1zM175.9 224.0h1v1h-1zM67.4 225.0h1v1h-1zM86.4 225.0h1v1h-1zM175.9 225.0h1v1h-1zM67.4 226.0h1v1h-1zM85.4 226.0h1v1h-1zM83.4 227.0h1v1h-1zM174.9 227.0h1v1h-1zM68.4 228.0h1v1h-1zM173.9 228.0h1v1h-1zM69.4 229.0h1v1h-1zM78.4 229.0h1v1h-1zM157.9 229.0h1v1h-1zM71.4 230.0h1v1h-1zM75.4 230.0h2v1h-2zM158.9 230.0h1v1h-1zM169.9 230.0h1v1h-1zM166.9 231.0h1v1h-1zM278.9 314.2h3v1h-3zM283.9 314.2h3v1h-3zM274.9 315.2h1v1h-1zM289.9 315.2h1v1h-1zM272.9 316.2h1v1h-1zM291.9 316.2h1v1h-1zM190.9 317.2h4v1h-4zM293.9 317.2h1v1h-1zM74.4 318.2h1v1h-1zM186.9 318.2h1v1h-1zM196.9 318.2h1v1h-1zM269.9 318.2h1v1h-1zM295.9 318.2h1v1h-1zM71.4 319.2h1v1h-1zM86.4 319.2h1v1h-1zM184.9 319.2h1v1h-1zM268.9 319.2h1v1h-1zM296.9 319.2h1v1h-1zM87.4 320.2h1v1h-1zM200.9 320.2h1v1h-1zM267.9 320.2h1v1h-1zM297.9 320.2h1v1h-1zM458.2 320.2h1v1h-1zM468.2 320.2h2v1h-2zM201.9 321.2h1v1h-1zM266.9 321.2h1v1h-1zM297.9 321.2h1v1h-1zM455.2 321.2h1v1h-1zM472.2 321.2h1v1h-1zM68.4 322.2h1v1h-1zM88.4 322.2h1v1h-1zM266.9 322.2h1v1h-1zM298.9 322.2h1v1h-1zM368.4 322.2h1v1h-1zM375.4 322.2h1v1h-1zM453.2 322.2h1v1h-1zM88.4 323.2h1v1h-1zM180.9 323.2h1v1h-1zM202.9 323.2h1v1h-1zM266.9 323.2h1v1h-1zM298.9 323.2h1v1h-1zM365.4 323.2h1v1h-1zM378.4 323.2h1v1h-1zM451.2 323.2h1v1h-1zM475.2 323.2h1v1h-1zM179.9 324.2h1v1h-1zM266.9 324.2h2v1h-2zM298.9 324.2h1v1h-1zM450.2 324.2h1v1h-1zM476.2 324.2h1v1h-1zM179.9 325.2h1v1h-1zM268.9 325.2h1v1h-1zM298.9 325.2h1v1h-1zM362.4 325.2h1v1h-1zM449.2 325.2h1v1h-1zM477.2 325.2h1v1h-1zM68.4 326.2h1v1h-1zM178.9 326.2h1v1h-1zM203.9 326.2h1v1h-1zM269.9 326.2h1v1h-1zM297.9 326.2h1v1h-1zM361.4 326.2h1v1h-1zM448.2 326.2h1v1h-1zM69.4 327.2h1v1h-1zM83.4 327.2h1v1h-1zM178.9 327.2h2v1h-2zM271.9 327.2h1v1h-1zM296.9 327.2h1v1h-1zM447.2 327.2h1v1h-1zM70.4 328.2h1v1h-1zM80.4 328.2h1v1h-1zM179.9 328.2h1v1h-1zM273.9 328.2h1v1h-1zM295.9 328.2h1v1h-1zM360.4 328.2h1v1h-1zM446.2 328.2h2v1h-2zM478.2 328.2h1v1h-1zM72.4 329.2h2v1h-2zM76.4 329.2h2v1h-2zM180.9 329.2h1v1h-1zM202.9 329.2h1v1h-1zM275.9 329.2h1v1h-1zM293.9 329.2h1v1h-1zM359.4 329.2h1v1h-1zM383.4 329.2h1v1h-1zM446.2 329.2h2v1h-2zM478.2 329.2h1v1h-1zM278.9 330.2h2v1h-2zM289.9 330.2h3v1h-3zM359.4 330.2h1v1h-1zM447.2 330.2h1v1h-1zM201.9 331.2h1v1h-1zM448.2 331.2h1v1h-1zM477.2 331.2h1v1h-1zM200.9 332.2h1v1h-1zM449.2 332.2h1v1h-1zM184.9 333.2h1v1h-1zM359.4 333.2h1v1h-1zM383.4 333.2h1v1h-1zM450.2 333.2h1v1h-1zM186.9 334.2h1v1h-1zM196.9 334.2h1v1h-1zM359.4 334.2h1v1h-1zM383.4 334.2h1v1h-1zM452.2 334.2h1v1h-1zM190.9 335.2h4v1h-4zM359.4 335.2h1v1h-1zM473.2 335.2h1v1h-1zM360.4 336.2h1v1h-1zM382.4 336.2h1v1h-1zM456.2 336.2h1v1h-1zM471.2 336.2h1v1h-1zM381.4 337.2h1v1h-1zM459.2 337.2h3v1h-3zM466.2 337.2h2v1h-2zM361.4 338.2h1v1h-1zM380.4 338.2h1v1h-1zM362.4 339.2h1v1h-1zM379.4 339.2h1v1h-1zM363.4 340.2h1v1h-1zM377.4 340.2h1v1h-1zM365.4 341.2h1v1h-1zM375.4 341.2h1v1h-1zM368.4 342.2h5v1h-5z"/><path fill="#1d3fcc" fill-opacity="0.8" d="M252.9 219.0h2v1h-2zM250.9 220.0h1v1h-1zM262.9 220.0h1v1h-1zM434.2 220.0h3v1h-3zM249.9 221.0h1v1h-1zM263.9 221.0h1v1h-1zM432.2 221.0h1v1h-1zM438.2 221.0h1v1h-1zM247.9 222.0h2v1h-2zM431.2 222.0h1v1h-1zM439.2 222.0h1v1h-1zM247.9 223.0h1v1h-1zM430.2 223.0h1v1h-1zM440.2 223.0h1v1h-1zM247.9 224.0h1v1h-1zM264.9 224.0h1v1h-1zM247.9 225.0h1v1h-1zM346.4 225.0h4v1h-4zM429.2 225.0h1v1h-1zM441.2 225.0h1v1h-1zM247.9 226.0h1v1h-1zM263.9 226.0h1v1h-1zM343.4 226.0h2v1h-2zM351.4 226.0h1v1h-1zM247.9 227.0h1v1h-1zM262.9 227.0h1v1h-1zM342.4 227.0h1v1h-1zM429.2 227.0h1v1h-1zM441.2 227.0h1v1h-1zM249.9 228.0h1v1h-1zM342.4 228.0h1v1h-1zM429.2 228.0h1v1h-1zM441.2 228.0h1v1h-1zM251.9 229.0h1v1h-1zM254.9 229.0h5v1h-5zM341.4 229.0h1v1h-1zM354.4 229.0h1v1h-1zM429.2 229.0h1v1h-1zM441.2 229.0h1v1h-1zM341.4 230.0h1v1h-1zM341.4 231.0h1v1h-1zM430.2 231.0h1v1h-1zM440.2 231.0h1v1h-1zM431.2 232.0h1v1h-1zM439.2 232.0h1v1h-1zM342.4 233.0h1v1h-1zM354.4 233.0h1v1h-1zM438.2 233.0h1v1h-1zM434.2 234.0h3v1h-3zM343.4 235.0h1v1h-1zM345.4 236.0h2v1h-2zM351.4 236.0h1v1h-1z"/><path fill="#1d3fcc" d="M75.4 218.0h1v1h-1zM82.4 218.0h1v1h-1zM173.9 221.0h1v1h-1zM159.9 222.0h1v1h-1zM174.9 222.0h1v1h-1zM68.4 223.0h1v1h-1zM158.9 223.0h1v1h-1zM80.4 228.0h1v1h-1zM157.9 228.0h1v1h-1zM171.9 229.0h1v1h-1zM72.4 230.0h3v1h-3zM160.9 231.0h1v1h-1zM165.9 231.0h1v1h-1zM281.9 314.2h2v1h-2zM275.9 315.2h1v1h-1zM288.9 315.2h1v1h-1zM273.9 316.2h1v1h-1zM271.9 317.2h1v1h-1zM83.4 318.2h1v1h-1zM187.9 318.2h1v1h-1zM195.9 318.2h1v1h-1zM270.9 318.2h1v1h-1zM294.9 318.2h1v1h-1zM185.9 319.2h1v1h-1zM198.9 319.2h1v1h-1zM269.9 319.2h1v1h-1zM295.9 319.2h1v1h-1zM70.4 320.2h1v1h-1zM183.9 320.2h1v1h-1zM268.9 320.2h1v1h-1zM296.9 320.2h1v1h-1zM459.2 320.2h2v1h-2zM467.2 320.2h1v1h-1zM69.4 321.2h1v1h-1zM182.9 321.2h1v1h-1zM267.9 321.2h1v1h-1zM456.2 321.2h1v1h-1zM471.2 321.2h1v1h-1zM181.9 322.2h1v1h-1zM201.9 322.2h1v1h-1zM267.9 322.2h1v1h-1zM297.9 322.2h1v1h-1zM369.4 322.2h6v1h-6zM473.2 322.2h1v1h-1zM68.4 323.2h1v1h-1zM267.9 323.2h1v1h-1zM297.9 323.2h1v1h-1zM366.4 323.2h1v1h-1zM377.4 323.2h1v1h-1zM452.2 323.2h1v1h-1zM68.4 324.2h1v1h-1zM180.9 324.2h1v1h-1zM202.9 324.2h1v1h-1zM268.9 324.2h1v1h-1zM297.9 324.2h1v1h-1zM364.4 324.2h1v1h-1zM379.4 324.2h1v1h-1zM451.2 324.2h1v1h-1zM68.4 325.2h1v1h-1zM269.9 325.2h1v1h-1zM297.9 325.2h1v1h-1zM363.4 325.2h1v1h-1zM380.4 325.2h1v1h-1zM476.2 325.2h1v1h-1zM85.4 326.2h1v1h-1zM179.9 326.2h1v1h-1zM270.9 326.2h1v1h-1zM296.9 326.2h1v1h-1zM362.4 326.2h1v1h-1zM381.4 326.2h1v1h-1zM449.2 326.2h1v1h-1zM477.2 326.2h1v1h-1zM295.9 327.2h1v1h-1zM361.4 327.2h1v1h-1zM382.4 327.2h1v1h-1zM448.2 327.2h1v1h-1zM477.2 327.2h1v1h-1zM71.4 328.2h1v1h-1zM79.4 328.2h1v1h-1zM180.9 328.2h1v1h-1zM202.9 328.2h1v1h-1zM294.9 328.2h1v1h-1zM448.2 328.2h1v1h-1zM74.4 329.2h2v1h-2zM276.9 329.2h1v1h-1zM292.9 329.2h1v1h-1zM360.4 329.2h1v1h-1zM448.2 329.2h1v1h-1zM477.2 329.2h1v1h-1zM181.9 330.2h1v1h-1zM201.9 330.2h1v1h-1zM280.9 330.2h2v1h-2zM287.9 330.2h2v1h-2zM383.4 330.2h1v1h-1zM448.2 330.2h1v1h-1zM477.2 330.2h1v1h-1zM182.9 331.2h1v1h-1zM359.4 331.2h1v1h-1zM383.4 331.2h1v1h-1zM449.2 331.2h1v1h-1zM183.9 332.2h1v1h-1zM359.4 332.2h1v1h-1zM383.4 332.2h1v1h-1zM450.2 332.2h1v1h-1zM476.2 332.2h1v1h-1zM185.9 333.2h1v1h-1zM198.9 333.2h1v1h-1zM451.2 333.2h1v1h-1zM475.2 333.2h1v1h-1zM187.9 334.2h1v1h-1zM195.9 334.2h1v1h-1zM474.2 334.2h1v1h-1zM360.4 335.2h1v1h-1zM382.4 335.2h1v1h-1zM454.2 335.2h1v1h-1zM472.2 335.2h1v1h-1zM457.2 336.2h1v1h-1zM470.2 336.2h1v1h-1zM361.4 337.2h1v1h-1zM462.2 337.2h4v1h-4zM362.4 338.2h1v1h-1zM363.4 339.2h1v1h-1zM378.4 339.2h1v1h-1zM364.4 340.2h1v1h-1zM376.4 340.2h1v1h-1zM366.4 341.2h2v1h-2zM373.4 341.2h2v1h-2z"/><path fill="#1c45d3" fill-opacity="0.8" d="M255.9 219.0h4v1h-4zM251.9 220.0h1v1h-1zM261.9 220.0h1v1h-1zM250.9 221.0h1v1h-1zM433.2 221.0h5v1h-5zM249.9 222.0h1v1h-1zM263.9 222.0h1v1h-1zM438.2 222.0h1v1h-1zM248.9 223.0h1v1h-1zM263.9 223.0h1v1h-1zM431.2 223.0h1v1h-1zM263.9 224.0h1v1h-1zM430.2 224.0h1v1h-1zM440.2 224.0h1v1h-1zM248.9 225.0h1v1h-1zM430.2 225.0h1v1h-1zM345.4 226.0h2v1h-2zM350.4 226.0h1v1h-1zM249.9 227.0h1v1h-1zM343.4 227.0h2v1h-2zM352.4 227.0h1v1h-1zM250.9 228.0h3v1h-3zM259.9 228.0h2v1h-2zM353.4 228.0h1v1h-1zM342.4 229.0h1v1h-1zM430.2 229.0h1v1h-1zM342.4 230.0h1v1h-1zM354.4 230.0h1v1h-1zM430.2 230.0h1v1h-1zM440.2 230.0h1v1h-1zM342.4 231.0h1v1h-1zM354.4 231.0h1v1h-1zM431.2 231.0h1v1h-1zM342.4 232.0h1v1h-1zM354.4 232.0h1v1h-1zM432.2 232.0h1v1h-1zM438.2 232.0h1v1h-1zM433.2 233.0h5v1h-5zM343.4 234.0h1v1h-1zM344.4 235.0h2v1h-2zM352.4 235.0h1v1h-1zM347.4 236.0h1v1h-1zM349.4 236.0h1v1h-1z"/><path fill="#1c45d3" d="M76.4 218.0h1v1h-1zM81.4 218.0h1v1h-1zM73.4 219.0h1v1h-1zM84.4 219.0h1v1h-1zM71.4 220.0h1v1h-1zM163.9 220.0h1v1h-1zM171.9 220.0h1v1h-1zM70.4 221.0h1v1h-1zM86.4 221.0h1v1h-1zM161.9 221.0h1v1h-1zM69.4 222.0h1v1h-1zM68.4 224.0h1v1h-1zM86.4 224.0h1v1h-1zM157.9 225.0h1v1h-1zM84.4 226.0h1v1h-1zM157.9 226.0h1v1h-1zM174.9 226.0h1v1h-1zM68.4 227.0h1v1h-1zM82.4 227.0h1v1h-1zM157.9 227.0h1v1h-1zM69.4 228.0h1v1h-1zM79.4 228.0h1v1h-1zM70.4 229.0h1v1h-1zM77.4 229.0h1v1h-1zM158.9 229.0h1v1h-1zM159.9 230.0h1v1h-1zM168.9 230.0h1v1h-1zM161.9 231.0h4v1h-4zM276.9 315.2h1v1h-1zM287.9 315.2h1v1h-1zM290.9 316.2h1v1h-1zM272.9 317.2h1v1h-1zM292.9 317.2h1v1h-1zM75.4 318.2h2v1h-2zM82.4 318.2h1v1h-1zM188.9 318.2h1v1h-1zM194.9 318.2h1v1h-1zM293.9 318.2h1v1h-1zM72.4 319.2h1v1h-1zM85.4 319.2h1v1h-1zM197.9 319.2h1v1h-1zM184.9 320.2h1v1h-1zM199.9 320.2h1v1h-1zM295.9 320.2h1v1h-1zM461.2 320.2h6v1h-6zM87.4 321.2h1v1h-1zM200.9 321.2h1v1h-1zM268.9 321.2h1v1h-1zM296.9 321.2h1v1h-1zM457.2 321.2h1v1h-1zM470.2 321.2h1v1h-1zM69.4 322.2h1v1h-1zM268.9 322.2h1v1h-1zM454.2 322.2h1v1h-1zM472.2 322.2h1v1h-1zM181.9 323.2h1v1h-1zM268.9 323.2h1v1h-1zM367.4 323.2h1v1h-1zM376.4 323.2h1v1h-1zM474.2 323.2h1v1h-1zM87.4 324.2h1v1h-1zM365.4 324.2h1v1h-1zM378.4 324.2h1v1h-1zM475.2 324.2h1v1h-1zM86.4 325.2h1v1h-1zM180.9 325.2h1v1h-1zM202.9 325.2h1v1h-1zM296.9 325.2h1v1h-1zM450.2 325.2h1v1h-1zM69.4 326.2h1v1h-1zM180.9 326.2h1v1h-1zM202.9 326.2h1v1h-1zM271.9 326.2h1v1h-1zM70.4 327.2h1v1h-1zM82.4 327.2h1v1h-1zM180.9 327.2h1v1h-1zM202.9 327.2h1v1h-1zM272.9 327.2h1v1h-1zM449.2 327.2h1v1h-1zM78.4 328.2h1v1h-1zM274.9 328.2h1v1h-1zM293.9 328.2h1v1h-1zM361.4 328.2h1v1h-1zM382.4 328.2h1v1h-1zM449.2 328.2h1v1h-1zM477.2 328.2h1v1h-1zM181.9 329.2h1v1h-1zM277.9 329.2h1v1h-1zM290.9 329.2h2v1h-2zM449.2 329.2h1v1h-1zM282.9 330.2h5v1h-5zM360.4 330.2h1v1h-1zM449.2 330.2h1v1h-1zM200.9 331.2h1v1h-1zM360.4 331.2h1v1h-1zM450.2 331.2h1v1h-1zM476.2 331.2h1v1h-1zM199.9 332.2h1v1h-1zM360.4 332.2h1v1h-1zM197.9 333.2h1v1h-1zM360.4 333.2h1v1h-1zM452.2 333.2h1v1h-1zM188.9 334.2h1v1h-1zM194.9 334.2h1v1h-1zM360.4 334.2h1v1h-1zM382.4 334.2h1v1h-1zM453.2 334.2h1v1h-1zM473.2 334.2h1v1h-1zM455.2 335.2h1v1h-1zM471.2 335.2h1v1h-1zM361.4 336.2h1v1h-1zM381.4 336.2h1v1h-1zM458.2 336.2h1v1h-1zM468.2 336.2h2v1h-2zM380.4 337.2h1v1h-1zM379.4 338.2h1v1h-1zM364.4 339.2h1v1h-1zM365.4 340.2h1v1h-1zM368.4 341.2h5v1h-5z"/><path fill="#1d4fd8" fill-opacity="0.8" d="M253.9 220.0h1v1h-1zM260.9 220.0h1v1h-1zM251.9 221.0h1v1h-1zM262.9 221.0h1v1h-1zM250.9 222.0h1v1h-1zM249.9 223.0h1v1h-1zM439.2 223.0h1v1h-1zM249.9 224.0h1v1h-1zM249.9 225.0h1v1h-1zM440.2 225.0h1v1h-1zM249.9 226.0h1v1h-1zM262.9 226.0h1v1h-1zM347.4 226.0h3v1h-3zM430.2 226.0h1v1h-1zM251.9 227.0h1v1h-1zM345.4 227.0h1v1h-1zM351.4 227.0h1v1h-1zM430.2 227.0h1v1h-1zM253.9 228.0h3v1h-3zM258.9 228.0h1v1h-1zM430.2 228.0h1v1h-1zM440.2 228.0h1v1h-1zM343.4 229.0h1v1h-1zM353.4 229.0h1v1h-1zM440.2 229.0h1v1h-1zM439.2 231.0h1v1h-1zM343.4 233.0h1v1h-1zM353.4 233.0h1v1h-1zM344.4 234.0h1v1h-1zM346.4 235.0h1v1h-1z"/><path fill="#1d4fd8" d="M77.4 218.0h4v1h-4zM85.4 220.0h1v1h-1zM164.9 220.0h1v1h-1zM170.9 220.0h1v1h-1zM86.4 222.0h1v1h-1zM160.9 222.0h1v1h-1zM86.4 223.0h1v1h-1zM174.9 223.0h1v1h-1zM158.9 224.0h1v1h-1zM68.4 225.0h1v1h-1zM85.4 225.0h1v1h-1zM68.4 226.0h1v1h-1zM173.9 227.0h1v1h-1zM158.9 228.0h1v1h-1zM172.9 228.0h1v1h-1zM71.4 229.0h1v1h-1zM76.4 229.0h1v1h-1zM170.9 229.0h1v1h-1zM160.9 230.0h1v1h-1zM167.9 230.0h1v1h-1zM277.9 315.2h2v1h-2zM285.9 315.2h2v1h-2zM274.9 316.2h1v1h-1zM289.9 316.2h1v1h-1zM291.9 317.2h1v1h-1zM77.4 318.2h1v1h-1zM80.4 318.2h2v1h-2zM189.9 318.2h5v1h-5zM271.9 318.2h1v1h-1zM73.4 319.2h1v1h-1zM186.9 319.2h1v1h-1zM196.9 319.2h1v1h-1zM270.9 319.2h1v1h-1zM294.9 319.2h1v1h-1zM71.4 320.2h1v1h-1zM86.4 320.2h1v1h-1zM198.9 320.2h1v1h-1zM269.9 320.2h1v1h-1zM70.4 321.2h1v1h-1zM183.9 321.2h1v1h-1zM269.9 321.2h1v1h-1zM295.9 321.2h1v1h-1zM458.2 321.2h1v1h-1zM469.2 321.2h1v1h-1zM87.4 322.2h1v1h-1zM182.9 322.2h1v1h-1zM296.9 322.2h1v1h-1zM455.2 322.2h1v1h-1zM69.4 323.2h1v1h-1zM87.4 323.2h1v1h-1zM201.9 323.2h1v1h-1zM269.9 323.2h1v1h-1zM296.9 323.2h1v1h-1zM368.4 323.2h1v1h-1zM375.4 323.2h1v1h-1zM453.2 323.2h1v1h-1zM473.2 323.2h1v1h-1zM181.9 324.2h1v1h-1zM269.9 324.2h1v1h-1zM296.9 324.2h1v1h-1zM366.4 324.2h1v1h-1zM452.2 324.2h1v1h-1zM69.4 325.2h1v1h-1zM270.9 325.2h1v1h-1zM295.9 325.2h1v1h-1zM364.4 325.2h1v1h-1zM379.4 325.2h1v1h-1zM451.2 325.2h1v1h-1zM475.2 325.2h1v1h-1zM84.4 326.2h1v1h-1zM295.9 326.2h1v1h-1zM363.4 326.2h1v1h-1zM380.4 326.2h1v1h-1zM450.2 326.2h1v1h-1zM476.2 326.2h1v1h-1zM81.4 327.2h1v1h-1zM273.9 327.2h1v1h-1zM294.9 327.2h1v1h-1zM362.4 327.2h1v1h-1zM381.4 327.2h1v1h-1zM450.2 327.2h1v1h-1zM476.2 327.2h1v1h-1zM72.4 328.2h2v1h-2zM77.4 328.2h1v1h-1zM181.9 328.2h1v1h-1zM275.9 328.2h1v1h-1zM292.9 328.2h1v1h-1zM201.9 329.2h1v1h-1zM278.9 329.2h1v1h-1zM289.9 329.2h1v1h-1zM361.4 329.2h1v1h-1zM382.4 329.2h1v1h-1zM182.9 330.2h1v1h-1zM382.4 330.2h1v1h-1zM450.2 330.2h1v1h-1zM476.2 330.2h1v1h-1zM183.9 331.2h1v1h-1zM184.9 332.2h1v1h-1zM198.9 332.2h1v1h-1zM382.4 332.2h1v1h-1zM451.2 332.2h1v1h-1zM475.2 332.2h1v1h-1zM186.9 333.2h1v1h-1zM196.9 333.2h1v1h-1zM382.4 333.2h1v1h-1zM474.2 333.2h1v1h-1zM189.9 334.2h5v1h-5zM454.2 334.2h1v1h-1zM361.4 335.2h1v1h-1zM381.4 335.2h1v1h-1zM456.2 335.2h1v1h-1zM459.2 336.2h2v1h-2zM467.2 336.2h1v1h-1zM362.4 337.2h1v1h-1zM363.4 338.2h1v1h-1zM378.4 338.2h1v1h-1zM365.4 339.2h1v1h-1zM377.4 339.2h1v1h-1zM366.4 340.2h2v1h-2zM374.4 340.2h2v1h-2z"/><path fill="#1e62db" fill-opacity="0.8" d="M254.9 220.0h1v1h-1zM262.9 222.0h1v1h-1zM433.2 222.0h1v1h-1zM437.2 222.0h1v1h-1zM250.9 223.0h1v1h-1zM432.2 223.0h1v1h-1zM431.2 224.0h1v1h-1zM439.2 224.0h1v1h-1zM250.9 225.0h1v1h-1zM262.9 225.0h1v1h-1zM250.9 226.0h1v1h-1zM252.9 227.0h1v1h-1zM260.9 227.0h1v1h-1zM440.2 227.0h1v1h-1zM344.4 228.0h1v1h-1zM343.4 230.0h1v1h-1zM431.2 230.0h1v1h-1zM343.4 231.0h1v1h-1zM432.2 231.0h1v1h-1zM343.4 232.0h1v1h-1zM433.2 232.0h2v1h-2zM352.4 234.0h1v1h-1zM347.4 235.0h1v1h-1zM350.4 235.0h1v1h-1z"/><path fill="#1e62db" d="M74.4 219.0h1v1h-1zM83.4 219.0h1v1h-1zM72.4 220.0h1v1h-1zM165.9 220.0h1v1h-1zM162.9 221.0h1v1h-1zM172.9 221.0h1v1h-1zM173.9 222.0h1v1h-1zM69.4 223.0h1v1h-1zM159.9 223.0h1v1h-1zM174.9 224.0h1v1h-1zM158.9 225.0h1v1h-1zM174.9 225.0h1v1h-1zM83.4 226.0h1v1h-1zM69.4 227.0h1v1h-1zM81.4 227.0h1v1h-1zM158.9 227.0h1v1h-1zM70.4 228.0h1v1h-1zM78.4 228.0h1v1h-1zM72.4 229.0h4v1h-4zM159.9 229.0h1v1h-1zM161.9 230.0h1v1h-1zM166.9 230.0h1v1h-1zM279.9 315.2h6v1h-6zM275.9 316.2h1v1h-1zM288.9 316.2h1v1h-1zM273.9 317.2h1v1h-1zM290.9 317.2h1v1h-1zM78.4 318.2h2v1h-2zM292.9 318.2h1v1h-1zM84.4 319.2h1v1h-1zM187.9 319.2h1v1h-1zM293.9 319.2h1v1h-1zM185.9 320.2h1v1h-1zM270.9 320.2h1v1h-1zM294.9 320.2h1v1h-1zM199.9 321.2h1v1h-1zM459.2 321.2h1v1h-1zM467.2 321.2h2v1h-2zM200.9 322.2h1v1h-1zM269.9 322.2h1v1h-1zM295.9 322.2h1v1h-1zM456.2 322.2h1v1h-1zM471.2 322.2h1v1h-1zM182.9 323.2h1v1h-1zM295.9 323.2h1v1h-1zM369.4 323.2h6v1h-6zM454.2 323.2h1v1h-1zM69.4 324.2h1v1h-1zM86.4 324.2h1v1h-1zM201.9 324.2h1v1h-1zM270.9 324.2h1v1h-1zM295.9 324.2h1v1h-1zM377.4 324.2h1v1h-1zM474.2 324.2h1v1h-1zM85.4 325.2h1v1h-1zM181.9 325.2h1v1h-1zM201.9 325.2h1v1h-1zM271.9 325.2h1v1h-1zM365.4 325.2h1v1h-1zM70.4 326.2h1v1h-1zM181.9 326.2h1v1h-1zM272.9 326.2h1v1h-1zM294.9 326.2h1v1h-1zM451.2 326.2h1v1h-1zM71.4 327.2h1v1h-1zM80.4 327.2h1v1h-1zM181.9 327.2h1v1h-1zM201.9 327.2h1v1h-1zM293.9 327.2h1v1h-1zM74.4 328.2h3v1h-3zM201.9 328.2h1v1h-1zM276.9 328.2h1v1h-1zM291.9 328.2h1v1h-1zM362.4 328.2h1v1h-1zM381.4 328.2h1v1h-1zM450.2 328.2h1v1h-1zM476.2 328.2h1v1h-1zM182.9 329.2h1v1h-1zM279.9 329.2h3v1h-3zM286.9 329.2h3v1h-3zM450.2 329.2h1v1h-1zM476.2 329.2h1v1h-1zM200.9 330.2h1v1h-1zM361.4 330.2h1v1h-1zM199.9 331.2h1v1h-1zM361.4 331.2h1v1h-1zM382.4 331.2h1v1h-1zM451.2 331.2h1v1h-1zM475.2 331.2h1v1h-1zM185.9 332.2h1v1h-1zM361.4 332.2h1v1h-1zM452.2 332.2h1v1h-1zM187.9 333.2h1v1h-1zM361.4 333.2h1v1h-1zM453.2 333.2h1v1h-1zM473.2 333.2h1v1h-1zM361.4 334.2h1v1h-1zM381.4 334.2h1v1h-1zM455.2 334.2h1v1h-1zM472.2 334.2h1v1h-1zM457.2 335.2h1v1h-1zM470.2 335.2h1v1h-1zM362.4 336.2h1v1h-1zM380.4 336.2h1v1h-1zM461.2 336.2h6v1h-6zM363.4 337.2h1v1h-1zM379.4 337.2h1v1h-1zM364.4 338.2h1v1h-1zM366.4 339.2h1v1h-1zM376.4 339.2h1v1h-1zM368.4 340.2h6v1h-6z"/><path fill="#2074de" fill-opacity="0.8" d="M255.9 220.0h1v1h-1zM261.9 221.0h1v1h-1zM435.2 222.0h2v1h-2zM262.9 223.0h1v1h-1zM438.2 223.0h1v1h-1zM250.9 224.0h1v1h-1zM262.9 224.0h1v1h-1zM431.2 225.0h1v1h-1zM439.2 225.0h1v1h-1zM251.9 226.0h1v1h-1zM261.9 226.0h1v1h-1zM346.4 227.0h1v1h-1zM350.4 227.0h1v1h-1zM439.2 229.0h1v1h-1zM353.4 230.0h1v1h-1zM353.4 231.0h1v1h-1zM438.2 231.0h1v1h-1zM353.4 232.0h1v1h-1zM435.2 232.0h1v1h-1zM344.4 233.0h1v1h-1zM348.4 235.0h1v1h-1z"/><path fill="#2074de" d="M75.4 219.0h1v1h-1zM84.4 220.0h1v1h-1zM166.9 220.0h4v1h-4zM71.4 221.0h1v1h-1zM85.4 221.0h1v1h-1zM70.4 222.0h1v1h-1zM69.4 224.0h1v1h-1zM85.4 224.0h1v1h-1zM69.4 226.0h1v1h-1zM158.9 226.0h1v1h-1zM80.4 227.0h1v1h-1zM77.4 228.0h1v1h-1zM171.9 228.0h1v1h-1zM169.9 229.0h1v1h-1zM162.9 230.0h4v1h-4zM276.9 316.2h1v1h-1zM287.9 316.2h1v1h-1zM272.9 318.2h1v1h-1zM291.9 318.2h1v1h-1zM74.4 319.2h1v1h-1zM188.9 319.2h1v1h-1zM195.9 319.2h1v1h-1zM271.9 319.2h1v1h-1zM72.4 320.2h1v1h-1zM85.4 320.2h1v1h-1zM197.9 320.2h1v1h-1zM86.4 321.2h1v1h-1zM184.9 321.2h1v1h-1zM270.9 321.2h1v1h-1zM294.9 321.2h1v1h-1zM460.2 321.2h3v1h-3zM465.2 321.2h2v1h-2zM70.4 322.2h1v1h-1zM183.9 322.2h1v1h-1zM270.9 322.2h1v1h-1zM457.2 322.2h1v1h-1zM470.2 322.2h1v1h-1zM200.9 323.2h1v1h-1zM270.9 323.2h1v1h-1zM472.2 323.2h1v1h-1zM182.9 324.2h1v1h-1zM367.4 324.2h1v1h-1zM376.4 324.2h1v1h-1zM453.2 324.2h1v1h-1zM473.2 324.2h1v1h-1zM70.4 325.2h1v1h-1zM294.9 325.2h1v1h-1zM378.4 325.2h1v1h-1zM452.2 325.2h1v1h-1zM474.2 325.2h1v1h-1zM83.4 326.2h1v1h-1zM201.9 326.2h1v1h-1zM293.9 326.2h1v1h-1zM364.4 326.2h1v1h-1zM379.4 326.2h1v1h-1zM475.2 326.2h1v1h-1zM72.4 327.2h1v1h-1zM274.9 327.2h1v1h-1zM292.9 327.2h1v1h-1zM363.4 327.2h1v1h-1zM380.4 327.2h1v1h-1zM451.2 327.2h1v1h-1zM475.2 327.2h1v1h-1zM277.9 328.2h1v1h-1zM290.9 328.2h1v1h-1zM200.9 329.2h1v1h-1zM282.9 329.2h4v1h-4zM362.4 329.2h1v1h-1zM381.4 329.2h1v1h-1zM451.2 329.2h1v1h-1zM183.9 330.2h1v1h-1zM451.2 330.2h1v1h-1zM475.2 330.2h1v1h-1zM184.9 331.2h1v1h-1zM197.9 332.2h1v1h-1zM474.2 332.2h1v1h-1zM188.9 333.2h1v1h-1zM195.9 333.2h1v1h-1zM381.4 333.2h1v1h-1zM454.2 333.2h1v1h-1zM471.2 334.2h1v1h-1zM362.4 335.2h1v1h-1zM458.2 335.2h1v1h-1zM469.2 335.2h1v1h-1zM363.4 336.2h1v1h-1zM365.4 338.2h1v1h-1zM377.4 338.2h1v1h-1zM367.4 339.2h1v1h-1zM375.4 339.2h1v1h-1z"/><path fill="#2186e2" fill-opacity="0.8" d="M257.9 220.0h2v1h-2zM253.9 221.0h1v1h-1zM252.9 222.0h1v1h-1zM251.9 223.0h1v1h-1zM433.2 223.0h1v1h-1zM437.2 223.0h1v1h-1zM432.2 224.0h1v1h-1zM438.2 224.0h1v1h-1zM251.9 225.0h1v1h-1zM252.9 226.0h1v1h-1zM431.2 226.0h1v1h-1zM439.2 226.0h1v1h-1zM254.9 227.0h1v1h-1zM347.4 227.0h1v1h-1zM349.4 227.0h1v1h-1zM431.2 227.0h1v1h-1zM345.4 228.0h1v1h-1zM431.2 228.0h1v1h-1zM439.2 228.0h1v1h-1zM344.4 229.0h1v1h-1zM432.2 230.0h1v1h-1zM438.2 230.0h1v1h-1zM433.2 231.0h1v1h-1zM437.2 231.0h1v1h-1zM344.4 232.0h1v1h-1zM352.4 233.0h1v1h-1zM351.4 234.0h1v1h-1z"/><path fill="#2186e2" d="M82.4 219.0h1v1h-1zM73.4 220.0h1v1h-1zM163.9 221.0h1v1h-1zM171.9 221.0h1v1h-1zM161.9 222.0h1v1h-1zM160.9 223.0h1v1h-1zM159.9 224.0h1v1h-1zM69.4 225.0h1v1h-1zM84.4 225.0h1v1h-1zM173.9 226.0h1v1h-1zM70.4 227.0h1v1h-1zM172.9 227.0h1v1h-1zM71.4 228.0h1v1h-1zM159.9 228.0h1v1h-1zM160.9 229.0h1v1h-1zM168.9 229.0h1v1h-1zM277.9 316.2h1v1h-1zM286.9 316.2h1v1h-1zM274.9 317.2h1v1h-1zM289.9 317.2h1v1h-1zM75.4 319.2h1v1h-1zM83.4 319.2h1v1h-1zM189.9 319.2h1v1h-1zM193.9 319.2h2v1h-2zM292.9 319.2h1v1h-1zM186.9 320.2h1v1h-1zM271.9 320.2h1v1h-1zM293.9 320.2h1v1h-1zM71.4 321.2h1v1h-1zM198.9 321.2h1v1h-1zM463.2 321.2h2v1h-2zM199.9 322.2h1v1h-1zM294.9 322.2h1v1h-1zM458.2 322.2h1v1h-1zM469.2 322.2h1v1h-1zM70.4 323.2h1v1h-1zM86.4 323.2h1v1h-1zM294.9 323.2h1v1h-1zM455.2 323.2h1v1h-1zM471.2 323.2h1v1h-1zM70.4 324.2h1v1h-1zM271.9 324.2h1v1h-1zM294.9 324.2h1v1h-1zM368.4 324.2h1v1h-1zM375.4 324.2h1v1h-1zM454.2 324.2h1v1h-1zM182.9 325.2h1v1h-1zM272.9 325.2h1v1h-1zM293.9 325.2h1v1h-1zM366.4 325.2h1v1h-1zM71.4 326.2h1v1h-1zM273.9 326.2h1v1h-1zM452.2 326.2h1v1h-1zM73.4 327.2h1v1h-1zM79.4 327.2h1v1h-1zM182.9 327.2h1v1h-1zM275.9 327.2h1v1h-1zM291.9 327.2h1v1h-1zM182.9 328.2h1v1h-1zM278.9 328.2h1v1h-1zM288.9 328.2h2v1h-2zM363.4 328.2h1v1h-1zM451.2 328.2h1v1h-1zM475.2 328.2h1v1h-1zM475.2 329.2h1v1h-1zM199.9 330.2h1v1h-1zM362.4 330.2h1v1h-1zM381.4 330.2h1v1h-1zM198.9 331.2h1v1h-1zM362.4 331.2h1v1h-1zM381.4 331.2h1v1h-1zM452.2 331.2h1v1h-1zM474.2 331.2h1v1h-1zM186.9 332.2h1v1h-1zM381.4 332.2h1v1h-1zM453.2 332.2h1v1h-1zM189.9 333.2h1v1h-1zM193.9 333.2h2v1h-2zM362.4 333.2h1v1h-1zM472.2 333.2h1v1h-1zM362.4 334.2h1v1h-1zM456.2 334.2h1v1h-1zM380.4 335.2h1v1h-1zM459.2 335.2h1v1h-1zM468.2 335.2h1v1h-1zM379.4 336.2h1v1h-1zM364.4 337.2h1v1h-1zM378.4 337.2h1v1h-1zM368.4 339.2h1v1h-1zM374.4 339.2h1v1h-1z"/><path fill="#2299e5" fill-opacity="0.8" d="M260.9 221.0h1v1h-1zM435.2 223.0h2v1h-2zM251.9 224.0h1v1h-1zM432.2 225.0h1v1h-1zM255.9 227.0h1v1h-1zM258.9 227.0h1v1h-1zM439.2 227.0h1v1h-1zM351.4 228.0h1v1h-1zM432.2 229.0h1v1h-1zM344.4 230.0h1v1h-1zM434.2 231.0h3v1h-3zM346.4 234.0h1v1h-1z"/><path fill="#2299e5" d="M76.4 219.0h1v1h-1zM72.4 221.0h1v1h-1zM85.4 222.0h1v1h-1zM70.4 223.0h1v1h-1zM85.4 223.0h1v1h-1zM173.9 223.0h1v1h-1zM159.9 225.0h1v1h-1zM82.4 226.0h1v1h-1zM79.4 227.0h1v1h-1zM159.9 227.0h1v1h-1zM72.4 228.0h1v1h-1zM76.4 228.0h1v1h-1zM161.9 229.0h1v1h-1zM167.9 229.0h1v1h-1zM278.9 316.2h1v1h-1zM285.9 316.2h1v1h-1zM275.9 317.2h1v1h-1zM273.9 318.2h1v1h-1zM290.9 318.2h1v1h-1zM190.9 319.2h3v1h-3zM272.9 319.2h1v1h-1zM73.4 320.2h1v1h-1zM187.9 320.2h1v1h-1zM196.9 320.2h1v1h-1zM185.9 321.2h1v1h-1zM271.9 321.2h1v1h-1zM293.9 321.2h1v1h-1zM86.4 322.2h1v1h-1zM184.9 322.2h1v1h-1zM468.2 322.2h1v1h-1zM183.9 323.2h1v1h-1zM271.9 323.2h1v1h-1zM456.2 323.2h1v1h-1zM200.9 324.2h1v1h-1zM293.9 324.2h1v1h-1zM369.4 324.2h1v1h-1zM374.4 324.2h1v1h-1zM472.2 324.2h1v1h-1zM84.4 325.2h1v1h-1zM377.4 325.2h1v1h-1zM453.2 325.2h1v1h-1zM82.4 326.2h1v1h-1zM182.9 326.2h1v1h-1zM292.9 326.2h1v1h-1zM365.4 326.2h1v1h-1zM474.2 326.2h1v1h-1zM74.4 327.2h1v1h-1zM77.4 327.2h2v1h-2zM290.9 327.2h1v1h-1zM364.4 327.2h1v1h-1zM452.2 327.2h1v1h-1zM200.9 328.2h1v1h-1zM279.9 328.2h1v1h-1zM287.9 328.2h1v1h-1zM380.4 328.2h1v1h-1zM183.9 329.2h1v1h-1zM184.9 330.2h1v1h-1zM452.2 330.2h1v1h-1zM185.9 331.2h1v1h-1zM187.9 332.2h1v1h-1zM196.9 332.2h1v1h-1zM362.4 332.2h1v1h-1zM473.2 332.2h1v1h-1zM190.9 333.2h3v1h-3zM455.2 333.2h1v1h-1zM380.4 334.2h1v1h-1zM457.2 334.2h1v1h-1zM470.2 334.2h1v1h-1zM363.4 335.2h1v1h-1zM460.2 335.2h1v1h-1zM466.2 335.2h2v1h-2zM364.4 336.2h1v1h-1zM365.4 337.2h1v1h-1zM366.4 338.2h1v1h-1zM376.4 338.2h1v1h-1zM369.4 339.2h5v1h-5z"/><path fill="#24a7e2" fill-opacity="0.8" d="M254.9 221.0h1v1h-1zM261.9 222.0h1v1h-1zM252.9 223.0h1v1h-1zM433.2 224.0h1v1h-1zM437.2 224.0h1v1h-1zM252.9 225.0h1v1h-1zM438.2 225.0h1v1h-1zM253.9 226.0h1v1h-1zM260.9 226.0h1v1h-1zM432.2 226.0h1v1h-1zM256.9 227.0h2v1h-2zM432.2 228.0h1v1h-1zM438.2 229.0h1v1h-1zM433.2 230.0h1v1h-1zM437.2 230.0h1v1h-1zM347.4 234.0h1v1h-1zM350.4 234.0h1v1h-1z"/><path fill="#24a7e2" d="M77.4 219.0h1v1h-1zM81.4 219.0h1v1h-1zM83.4 220.0h1v1h-1zM164.9 221.0h1v1h-1zM71.4 222.0h1v1h-1zM162.9 222.0h1v1h-1zM172.9 222.0h1v1h-1zM70.4 224.0h1v1h-1zM173.9 224.0h1v1h-1zM173.9 225.0h1v1h-1zM70.4 226.0h1v1h-1zM159.9 226.0h1v1h-1zM73.4 228.0h3v1h-3zM160.9 228.0h1v1h-1zM170.9 228.0h1v1h-1zM162.9 229.0h1v1h-1zM166.9 229.0h1v1h-1zM279.9 316.2h1v1h-1zM284.9 316.2h1v1h-1zM288.9 317.2h1v1h-1zM76.4 319.2h1v1h-1zM82.4 319.2h1v1h-1zM291.9 319.2h1v1h-1zM84.4 320.2h1v1h-1zM195.9 320.2h1v1h-1zM292.9 320.2h1v1h-1zM72.4 321.2h1v1h-1zM197.9 321.2h1v1h-1zM71.4 322.2h1v1h-1zM271.9 322.2h1v1h-1zM293.9 322.2h1v1h-1zM459.2 322.2h1v1h-1zM467.2 322.2h1v1h-1zM199.9 323.2h1v1h-1zM293.9 323.2h1v1h-1zM470.2 323.2h1v1h-1zM85.4 324.2h1v1h-1zM183.9 324.2h1v1h-1zM272.9 324.2h1v1h-1zM370.4 324.2h4v1h-4zM455.2 324.2h1v1h-1zM71.4 325.2h1v1h-1zM200.9 325.2h1v1h-1zM273.9 325.2h1v1h-1zM292.9 325.2h1v1h-1zM367.4 325.2h1v1h-1zM473.2 325.2h1v1h-1zM72.4 326.2h1v1h-1zM81.4 326.2h1v1h-1zM200.9 326.2h1v1h-1zM274.9 326.2h1v1h-1zM291.9 326.2h1v1h-1zM378.4 326.2h1v1h-1zM453.2 326.2h1v1h-1zM75.4 327.2h2v1h-2zM200.9 327.2h1v1h-1zM276.9 327.2h1v1h-1zM289.9 327.2h1v1h-1zM379.4 327.2h1v1h-1zM474.2 327.2h1v1h-1zM183.9 328.2h1v1h-1zM280.9 328.2h2v1h-2zM285.9 328.2h2v1h-2zM452.2 328.2h1v1h-1zM199.9 329.2h1v1h-1zM363.4 329.2h1v1h-1zM452.2 329.2h1v1h-1zM474.2 329.2h1v1h-1zM474.2 330.2h1v1h-1zM197.9 331.2h1v1h-1zM453.2 331.2h1v1h-1zM195.9 332.2h1v1h-1zM454.2 332.2h1v1h-1zM471.2 333.2h1v1h-1zM363.4 334.2h1v1h-1zM469.2 334.2h1v1h-1zM379.4 335.2h1v1h-1zM461.2 335.2h5v1h-5zM378.4 336.2h1v1h-1zM377.4 337.2h1v1h-1zM367.4 338.2h1v1h-1zM375.4 338.2h1v1h-1z"/><path fill="#25b2da" fill-opacity="0.8" d="M255.9 221.0h1v1h-1zM261.9 223.0h1v1h-1zM252.9 224.0h1v1h-1zM261.9 224.0h1v1h-1zM434.2 224.0h1v1h-1zM436.2 224.0h1v1h-1zM438.2 226.0h1v1h-1zM432.2 227.0h1v1h-1zM345.4 229.0h1v1h-1zM352.4 230.0h1v1h-1zM434.2 230.0h1v1h-1zM352.4 232.0h1v1h-1zM348.4 234.0h2v1h-2z"/><path fill="#25b2da" d="M78.4 219.0h3v1h-3zM74.4 220.0h1v1h-1zM84.4 221.0h1v1h-1zM170.9 221.0h1v1h-1zM161.9 223.0h1v1h-1zM84.4 224.0h1v1h-1zM160.9 224.0h1v1h-1zM70.4 225.0h1v1h-1zM83.4 225.0h1v1h-1zM81.4 226.0h1v1h-1zM71.4 227.0h1v1h-1zM78.4 227.0h1v1h-1zM163.9 229.0h3v1h-3zM280.9 316.2h4v1h-4zM276.9 317.2h1v1h-1zM287.9 317.2h1v1h-1zM274.9 318.2h1v1h-1zM289.9 318.2h1v1h-1zM77.4 319.2h1v1h-1zM81.4 319.2h1v1h-1zM188.9 320.2h1v1h-1zM272.9 320.2h1v1h-1zM85.4 321.2h1v1h-1zM186.9 321.2h1v1h-1zM292.9 321.2h1v1h-1zM198.9 322.2h1v1h-1zM460.2 322.2h2v1h-2zM466.2 322.2h1v1h-1zM71.4 323.2h1v1h-1zM457.2 323.2h1v1h-1zM71.4 324.2h1v1h-1zM471.2 324.2h1v1h-1zM183.9 325.2h1v1h-1zM368.4 325.2h1v1h-1zM376.4 325.2h1v1h-1zM454.2 325.2h1v1h-1zM366.4 326.2h1v1h-1zM473.2 326.2h1v1h-1zM183.9 327.2h1v1h-1zM277.9 327.2h1v1h-1zM282.9 328.2h3v1h-3zM364.4 328.2h1v1h-1zM474.2 328.2h1v1h-1zM380.4 329.2h1v1h-1zM198.9 330.2h1v1h-1zM363.4 330.2h1v1h-1zM453.2 330.2h1v1h-1zM186.9 331.2h1v1h-1zM363.4 331.2h1v1h-1zM473.2 331.2h1v1h-1zM188.9 332.2h1v1h-1zM363.4 332.2h1v1h-1zM472.2 332.2h1v1h-1zM363.4 333.2h1v1h-1zM380.4 333.2h1v1h-1zM456.2 333.2h1v1h-1zM458.2 334.2h1v1h-1zM364.4 335.2h1v1h-1zM366.4 337.2h1v1h-1zM368.4 338.2h1v1h-1zM374.4 338.2h1v1h-1z"/><path fill="#26bdd2" fill-opacity="0.8" d="M259.9 221.0h1v1h-1zM435.2 224.0h1v1h-1zM253.9 225.0h1v1h-1zM254.9 226.0h1v1h-1zM259.9 226.0h1v1h-1zM347.4 228.0h1v1h-1zM349.4 228.0h1v1h-1zM351.4 229.0h1v1h-1zM433.2 229.0h1v1h-1zM437.2 229.0h1v1h-1zM435.2 230.0h1v1h-1zM352.4 231.0h1v1h-1zM345.4 232.0h1v1h-1zM346.4 233.0h1v1h-1zM351.4 233.0h1v1h-1z"/><path fill="#26bdd2" d="M73.4 221.0h1v1h-1zM165.9 221.0h1v1h-1zM169.9 221.0h1v1h-1zM71.4 223.0h1v1h-1zM160.9 225.0h1v1h-1zM172.9 226.0h1v1h-1zM72.4 227.0h1v1h-1zM77.4 227.0h1v1h-1zM160.9 227.0h1v1h-1zM171.9 227.0h1v1h-1zM161.9 228.0h1v1h-1zM169.9 228.0h1v1h-1zM78.4 319.2h3v1h-3zM273.9 319.2h1v1h-1zM290.9 319.2h1v1h-1zM74.4 320.2h1v1h-1zM189.9 320.2h1v1h-1zM194.9 320.2h1v1h-1zM291.9 320.2h1v1h-1zM196.9 321.2h1v1h-1zM272.9 321.2h1v1h-1zM85.4 322.2h1v1h-1zM185.9 322.2h1v1h-1zM272.9 322.2h1v1h-1zM292.9 322.2h1v1h-1zM462.2 322.2h4v1h-4zM85.4 323.2h1v1h-1zM184.9 323.2h1v1h-1zM272.9 323.2h1v1h-1zM292.9 323.2h1v1h-1zM458.2 323.2h1v1h-1zM469.2 323.2h1v1h-1zM199.9 324.2h1v1h-1zM292.9 324.2h1v1h-1zM456.2 324.2h1v1h-1zM83.4 325.2h1v1h-1zM291.9 325.2h1v1h-1zM375.4 325.2h1v1h-1zM472.2 325.2h1v1h-1zM73.4 326.2h1v1h-1zM80.4 326.2h1v1h-1zM183.9 326.2h1v1h-1zM275.9 326.2h1v1h-1zM290.9 326.2h1v1h-1zM377.4 326.2h1v1h-1zM278.9 327.2h1v1h-1zM288.9 327.2h1v1h-1zM365.4 327.2h1v1h-1zM453.2 327.2h1v1h-1zM199.9 328.2h1v1h-1zM379.4 328.2h1v1h-1zM453.2 328.2h1v1h-1zM184.9 329.2h1v1h-1zM453.2 329.2h1v1h-1zM185.9 330.2h1v1h-1zM380.4 330.2h1v1h-1zM473.2 330.2h1v1h-1zM196.9 331.2h1v1h-1zM380.4 331.2h1v1h-1zM454.2 331.2h1v1h-1zM189.9 332.2h1v1h-1zM194.9 332.2h1v1h-1zM380.4 332.2h1v1h-1zM455.2 332.2h1v1h-1zM470.2 333.2h1v1h-1zM379.4 334.2h1v1h-1zM459.2 334.2h1v1h-1zM468.2 334.2h1v1h-1zM365.4 336.2h1v1h-1zM376.4 337.2h1v1h-1zM369.4 338.2h2v1h-2zM373.4 338.2h1v1h-1z"/><path fill="#28c8cb" fill-opacity="0.8" d="M256.9 221.0h1v1h-1zM258.9 221.0h1v1h-1zM254.9 222.0h1v1h-1zM260.9 222.0h1v1h-1zM253.9 223.0h1v1h-1zM253.9 224.0h1v1h-1zM260.9 225.0h1v1h-1zM434.2 225.0h3v1h-3zM255.9 226.0h1v1h-1zM258.9 226.0h1v1h-1zM433.2 226.0h1v1h-1zM437.2 226.0h1v1h-1zM433.2 227.0h1v1h-1zM437.2 227.0h1v1h-1zM433.2 228.0h1v1h-1zM437.2 228.0h1v1h-1zM434.2 229.0h1v1h-1zM436.2 229.0h1v1h-1zM345.4 231.0h1v1h-1z"/><path fill="#28c8cb" d="M75.4 220.0h1v1h-1zM82.4 220.0h1v1h-1zM166.9 221.0h1v1h-1zM72.4 222.0h1v1h-1zM84.4 222.0h1v1h-1zM163.9 222.0h1v1h-1zM171.9 222.0h1v1h-1zM84.4 223.0h1v1h-1zM172.9 223.0h1v1h-1zM71.4 224.0h1v1h-1zM71.4 226.0h1v1h-1zM80.4 226.0h1v1h-1zM160.9 226.0h1v1h-1zM73.4 227.0h1v1h-1zM76.4 227.0h1v1h-1zM277.9 317.2h1v1h-1zM286.9 317.2h1v1h-1zM275.9 318.2h1v1h-1zM288.9 318.2h1v1h-1zM83.4 320.2h1v1h-1zM190.9 320.2h4v1h-4zM273.9 320.2h1v1h-1zM73.4 321.2h1v1h-1zM187.9 321.2h1v1h-1zM291.9 321.2h1v1h-1zM72.4 322.2h1v1h-1zM197.9 322.2h1v1h-1zM198.9 323.2h1v1h-1zM459.2 323.2h1v1h-1zM468.2 323.2h1v1h-1zM84.4 324.2h1v1h-1zM184.9 324.2h1v1h-1zM273.9 324.2h1v1h-1zM291.9 324.2h1v1h-1zM470.2 324.2h1v1h-1zM72.4 325.2h1v1h-1zM199.9 325.2h1v1h-1zM274.9 325.2h1v1h-1zM369.4 325.2h2v1h-2zM374.4 325.2h1v1h-1zM455.2 325.2h1v1h-1zM74.4 326.2h1v1h-1zM79.4 326.2h1v1h-1zM199.9 326.2h1v1h-1zM276.9 326.2h1v1h-1zM289.9 326.2h1v1h-1zM367.4 326.2h1v1h-1zM454.2 326.2h1v1h-1zM199.9 327.2h1v1h-1zM279.9 327.2h1v1h-1zM286.9 327.2h2v1h-2zM378.4 327.2h1v1h-1zM473.2 327.2h1v1h-1zM184.9 328.2h1v1h-1zM365.4 328.2h1v1h-1zM473.2 328.2h1v1h-1zM198.9 329.2h1v1h-1zM364.4 329.2h1v1h-1zM473.2 329.2h1v1h-1zM197.9 330.2h1v1h-1zM364.4 330.2h1v1h-1zM454.2 330.2h1v1h-1zM187.9 331.2h1v1h-1zM472.2 331.2h1v1h-1zM190.9 332.2h4v1h-4zM471.2 332.2h1v1h-1zM364.4 333.2h1v1h-1zM457.2 333.2h1v1h-1zM364.4 334.2h1v1h-1zM460.2 334.2h1v1h-1zM466.2 334.2h2v1h-2zM365.4 335.2h1v1h-1zM378.4 335.2h1v1h-1zM366.4 336.2h1v1h-1zM377.4 336.2h1v1h-1zM367.4 337.2h1v1h-1zM375.4 337.2h1v1h-1zM371.4 338.2h2v1h-2z"/><path fill="#2accb5" fill-opacity="0.8" d="M255.9 222.0h1v1h-1zM259.9 222.0h1v1h-1zM254.9 223.0h1v1h-1zM260.9 223.0h1v1h-1zM254.9 224.0h1v1h-1zM260.9 224.0h1v1h-1zM257.9 226.0h1v1h-1zM436.2 226.0h1v1h-1zM434.2 227.0h1v1h-1zM434.2 228.0h1v1h-1zM436.2 228.0h1v1h-1zM347.4 229.0h1v1h-1zM350.4 229.0h1v1h-1zM351.4 230.0h1v1h-1zM351.4 231.0h1v1h-1zM346.4 232.0h1v1h-1zM351.4 232.0h1v1h-1zM347.4 233.0h2v1h-2z"/><path fill="#2accb5" d="M83.4 221.0h1v1h-1zM167.9 221.0h2v1h-2zM162.9 223.0h1v1h-1zM161.9 224.0h1v1h-1zM172.9 224.0h1v1h-1zM71.4 225.0h1v1h-1zM82.4 225.0h1v1h-1zM172.9 225.0h1v1h-1zM74.4 227.0h2v1h-2zM161.9 227.0h1v1h-1zM162.9 228.0h1v1h-1zM168.9 228.0h1v1h-1zM278.9 317.2h1v1h-1zM284.9 317.2h2v1h-2zM274.9 319.2h1v1h-1zM289.9 319.2h1v1h-1zM75.4 320.2h1v1h-1zM290.9 320.2h1v1h-1zM84.4 321.2h1v1h-1zM195.9 321.2h1v1h-1zM273.9 321.2h1v1h-1zM186.9 322.2h1v1h-1zM291.9 322.2h1v1h-1zM72.4 323.2h1v1h-1zM185.9 323.2h1v1h-1zM273.9 323.2h1v1h-1zM291.9 323.2h1v1h-1zM460.2 323.2h1v1h-1zM467.2 323.2h1v1h-1zM72.4 324.2h1v1h-1zM457.2 324.2h1v1h-1zM82.4 325.2h1v1h-1zM184.9 325.2h1v1h-1zM290.9 325.2h1v1h-1zM371.4 325.2h3v1h-3zM471.2 325.2h1v1h-1zM75.4 326.2h4v1h-4zM288.9 326.2h1v1h-1zM376.4 326.2h1v1h-1zM472.2 326.2h1v1h-1zM184.9 327.2h1v1h-1zM280.9 327.2h1v1h-1zM285.9 327.2h1v1h-1zM366.4 327.2h1v1h-1zM454.2 327.2h1v1h-1zM454.2 328.2h1v1h-1zM185.9 329.2h1v1h-1zM379.4 329.2h1v1h-1zM454.2 329.2h1v1h-1zM186.9 330.2h1v1h-1zM195.9 331.2h1v1h-1zM364.4 331.2h1v1h-1zM455.2 331.2h1v1h-1zM364.4 332.2h1v1h-1zM456.2 332.2h1v1h-1zM379.4 333.2h1v1h-1zM458.2 333.2h1v1h-1zM469.2 333.2h1v1h-1zM461.2 334.2h5v1h-5zM368.4 337.2h1v1h-1zM374.4 337.2h1v1h-1z"/><path fill="#2ecb94" fill-opacity="0.8" d="M257.9 222.0h1v1h-1zM255.9 223.0h1v1h-1zM259.9 225.0h1v1h-1zM435.2 227.0h2v1h-2zM435.2 228.0h1v1h-1zM349.4 229.0h1v1h-1zM346.4 231.0h1v1h-1zM347.4 232.0h1v1h-1zM350.4 232.0h1v1h-1z"/><path fill="#2ecb94" d="M76.4 220.0h1v1h-1zM81.4 220.0h1v1h-1zM74.4 221.0h1v1h-1zM164.9 222.0h1v1h-1zM72.4 223.0h1v1h-1zM83.4 224.0h1v1h-1zM161.9 225.0h1v1h-1zM72.4 226.0h1v1h-1zM79.4 226.0h1v1h-1zM161.9 226.0h1v1h-1zM170.9 227.0h1v1h-1zM163.9 228.0h2v1h-2zM166.9 228.0h2v1h-2zM279.9 317.2h2v1h-2zM283.9 317.2h1v1h-1zM276.9 318.2h1v1h-1zM287.9 318.2h1v1h-1zM82.4 320.2h1v1h-1zM188.9 321.2h1v1h-1zM194.9 321.2h1v1h-1zM196.9 322.2h1v1h-1zM273.9 322.2h1v1h-1zM461.2 323.2h1v1h-1zM465.2 323.2h2v1h-2zM198.9 324.2h1v1h-1zM274.9 324.2h1v1h-1zM290.9 324.2h1v1h-1zM469.2 324.2h1v1h-1zM73.4 325.2h1v1h-1zM275.9 325.2h1v1h-1zM289.9 325.2h1v1h-1zM456.2 325.2h1v1h-1zM184.9 326.2h1v1h-1zM277.9 326.2h1v1h-1zM368.4 326.2h1v1h-1zM455.2 326.2h1v1h-1zM281.9 327.2h4v1h-4zM377.4 327.2h1v1h-1zM472.2 327.2h1v1h-1zM198.9 328.2h1v1h-1zM378.4 328.2h1v1h-1zM365.4 329.2h1v1h-1zM472.2 329.2h1v1h-1zM196.9 330.2h1v1h-1zM379.4 330.2h1v1h-1zM472.2 330.2h1v1h-1zM188.9 331.2h1v1h-1zM194.9 331.2h1v1h-1zM379.4 331.2h1v1h-1zM471.2 331.2h1v1h-1zM379.4 332.2h1v1h-1zM470.2 332.2h1v1h-1zM468.2 333.2h1v1h-1zM365.4 334.2h1v1h-1zM378.4 334.2h1v1h-1zM377.4 335.2h1v1h-1zM367.4 336.2h1v1h-1zM376.4 336.2h1v1h-1zM369.4 337.2h1v1h-1zM373.4 337.2h1v1h-1z"/><path fill="#32ca74" fill-opacity="0.8" d="M259.9 223.0h1v1h-1zM255.9 224.0h1v1h-1zM259.9 224.0h1v1h-1zM256.9 225.0h3v1h-3zM347.4 230.0h1v1h-1zM350.4 230.0h1v1h-1zM347.4 231.0h1v1h-1zM350.4 231.0h1v1h-1zM348.4 232.0h2v1h-2z"/><path fill="#32ca74" d="M73.4 222.0h1v1h-1zM83.4 222.0h1v1h-1zM170.9 222.0h1v1h-1zM171.9 223.0h1v1h-1zM72.4 224.0h1v1h-1zM72.4 225.0h1v1h-1zM81.4 225.0h1v1h-1zM73.4 226.0h1v1h-1zM78.4 226.0h1v1h-1zM171.9 226.0h1v1h-1zM162.9 227.0h1v1h-1zM165.9 228.0h1v1h-1zM281.9 317.2h2v1h-2zM286.9 318.2h1v1h-1zM275.9 319.2h1v1h-1zM288.9 319.2h1v1h-1zM76.4 320.2h1v1h-1zM274.9 320.2h1v1h-1zM289.9 320.2h1v1h-1zM74.4 321.2h1v1h-1zM189.9 321.2h1v1h-1zM193.9 321.2h1v1h-1zM290.9 321.2h1v1h-1zM73.4 322.2h1v1h-1zM84.4 322.2h1v1h-1zM187.9 322.2h1v1h-1zM290.9 322.2h1v1h-1zM84.4 323.2h1v1h-1zM197.9 323.2h1v1h-1zM290.9 323.2h1v1h-1zM462.2 323.2h3v1h-3zM73.4 324.2h1v1h-1zM83.4 324.2h1v1h-1zM185.9 324.2h1v1h-1zM458.2 324.2h1v1h-1zM468.2 324.2h1v1h-1zM74.4 325.2h1v1h-1zM81.4 325.2h1v1h-1zM198.9 325.2h1v1h-1zM470.2 325.2h1v1h-1zM198.9 326.2h1v1h-1zM278.9 326.2h1v1h-1zM287.9 326.2h1v1h-1zM369.4 326.2h1v1h-1zM375.4 326.2h1v1h-1zM471.2 326.2h1v1h-1zM198.9 327.2h1v1h-1zM367.4 327.2h1v1h-1zM455.2 327.2h1v1h-1zM185.9 328.2h1v1h-1zM366.4 328.2h1v1h-1zM472.2 328.2h1v1h-1zM197.9 329.2h1v1h-1zM187.9 330.2h1v1h-1zM365.4 330.2h1v1h-1zM455.2 330.2h1v1h-1zM189.9 331.2h1v1h-1zM193.9 331.2h1v1h-1zM456.2 331.2h1v1h-1zM457.2 332.2h1v1h-1zM365.4 333.2h1v1h-1zM459.2 333.2h1v1h-1zM467.2 333.2h1v1h-1zM366.4 335.2h1v1h-1zM375.4 336.2h1v1h-1zM370.4 337.2h3v1h-3z"/><path fill="#36c853" fill-opacity="0.8" d="M257.9 223.0h2v1h-2zM256.9 224.0h3v1h-3zM348.4 230.0h2v1h-2zM348.4 231.0h1v1h-1z"/><path fill="#36c853" d="M77.4 220.0h4v1h-4zM75.4 221.0h2v1h-2zM81.4 221.0h2v1h-2zM74.4 222.0h2v1h-2zM82.4 222.0h1v1h-1zM165.9 222.0h5v1h-5zM73.4 223.0h2v1h-2zM82.4 223.0h2v1h-2zM163.9 223.0h2v1h-2zM170.9 223.0h1v1h-1zM73.4 224.0h2v1h-2zM81.4 224.0h2v1h-2zM162.9 224.0h2v1h-2zM171.9 224.0h1v1h-1zM73.4 225.0h8v1h-8zM162.9 225.0h2v1h-2zM170.9 225.0h2v1h-2zM74.4 226.0h4v1h-4zM162.9 226.0h2v1h-2zM170.9 226.0h1v1h-1zM163.9 227.0h7v1h-7zM277.9 318.2h1v1h-1zM77.4 320.2h5v1h-5zM75.4 321.2h2v1h-2zM82.4 321.2h2v1h-2zM190.9 321.2h3v1h-3zM274.9 321.2h1v1h-1zM74.4 322.2h2v1h-2zM83.4 322.2h1v1h-1zM195.9 322.2h1v1h-1zM274.9 322.2h1v1h-1zM73.4 323.2h2v1h-2zM83.4 323.2h1v1h-1zM186.9 323.2h1v1h-1zM274.9 323.2h1v1h-1zM74.4 324.2h2v1h-2zM81.4 324.2h2v1h-2zM275.9 324.2h1v1h-1zM289.9 324.2h1v1h-1zM459.2 324.2h1v1h-1zM75.4 325.2h6v1h-6zM185.9 325.2h1v1h-1zM276.9 325.2h1v1h-1zM288.9 325.2h1v1h-1zM457.2 325.2h1v1h-1zM279.9 326.2h1v1h-1zM286.9 326.2h1v1h-1zM370.4 326.2h1v1h-1zM374.4 326.2h1v1h-1zM456.2 326.2h1v1h-1zM185.9 327.2h1v1h-1zM376.4 327.2h1v1h-1zM455.2 328.2h1v1h-1zM186.9 329.2h1v1h-1zM378.4 329.2h1v1h-1zM455.2 329.2h1v1h-1zM195.9 330.2h1v1h-1zM471.2 330.2h1v1h-1zM190.9 331.2h3v1h-3zM365.4 331.2h1v1h-1zM470.2 331.2h1v1h-1zM365.4 332.2h1v1h-1zM469.2 332.2h1v1h-1zM378.4 333.2h1v1h-1zM460.2 333.2h1v1h-1zM466.2 333.2h1v1h-1zM366.4 334.2h1v1h-1zM368.4 336.2h1v1h-1z"/><path fill="#43ca42" d="M77.4 221.0h4v1h-4zM76.4 222.0h6v1h-6zM75.4 223.0h7v1h-7zM165.9 223.0h5v1h-5zM75.4 224.0h6v1h-6zM164.9 224.0h7v1h-7zM164.9 225.0h6v1h-6zM164.9 226.0h6v1h-6zM278.9 318.2h1v1h-1zM285.9 318.2h1v1h-1zM276.9 319.2h1v1h-1zM287.9 319.2h1v1h-1zM275.9 320.2h1v1h-1zM77.4 321.2h5v1h-5zM289.9 321.2h1v1h-1zM76.4 322.2h7v1h-7zM188.9 322.2h1v1h-1zM75.4 323.2h8v1h-8zM196.9 323.2h1v1h-1zM76.4 324.2h5v1h-5zM197.9 324.2h1v1h-1zM460.2 324.2h1v1h-1zM467.2 324.2h1v1h-1zM469.2 325.2h1v1h-1zM185.9 326.2h1v1h-1zM280.9 326.2h1v1h-1zM285.9 326.2h1v1h-1zM371.4 326.2h3v1h-3zM470.2 326.2h1v1h-1zM368.4 327.2h1v1h-1zM471.2 327.2h1v1h-1zM197.9 328.2h1v1h-1zM367.4 328.2h1v1h-1zM377.4 328.2h1v1h-1zM471.2 328.2h1v1h-1zM196.9 329.2h1v1h-1zM366.4 329.2h1v1h-1zM471.2 329.2h1v1h-1zM188.9 330.2h1v1h-1zM378.4 330.2h1v1h-1zM456.2 330.2h1v1h-1zM378.4 331.2h1v1h-1zM457.2 331.2h1v1h-1zM378.4 332.2h1v1h-1zM458.2 332.2h1v1h-1zM468.2 332.2h1v1h-1zM461.2 333.2h5v1h-5zM377.4 334.2h1v1h-1zM367.4 335.2h1v1h-1zM376.4 335.2h1v1h-1zM369.4 336.2h1v1h-1zM374.4 336.2h1v1h-1z"/><path fill="#57cd3a" d="M279.9 318.2h1v1h-1zM284.9 318.2h1v1h-1zM288.9 320.2h1v1h-1zM194.9 322.2h1v1h-1zM289.9 322.2h1v1h-1zM187.9 323.2h1v1h-1zM275.9 323.2h1v1h-1zM289.9 323.2h1v1h-1zM186.9 324.2h1v1h-1zM288.9 324.2h1v1h-1zM461.2 324.2h1v1h-1zM466.2 324.2h1v1h-1zM197.9 325.2h1v1h-1zM277.9 325.2h1v1h-1zM287.9 325.2h1v1h-1zM458.2 325.2h1v1h-1zM281.9 326.2h4v1h-4zM457.2 326.2h1v1h-1zM197.9 327.2h1v1h-1zM375.4 327.2h1v1h-1zM456.2 327.2h1v1h-1zM186.9 328.2h1v1h-1zM456.2 328.2h1v1h-1zM187.9 329.2h1v1h-1zM456.2 329.2h1v1h-1zM194.9 330.2h1v1h-1zM366.4 330.2h1v1h-1zM470.2 330.2h1v1h-1zM459.2 332.2h1v1h-1zM366.4 333.2h1v1h-1zM370.4 336.2h4v1h-4z"/><path fill="#6ad033" d="M280.9 318.2h4v1h-4zM277.9 319.2h1v1h-1zM286.9 319.2h1v1h-1zM275.9 321.2h1v1h-1zM189.9 322.2h1v1h-1zM193.9 322.2h1v1h-1zM275.9 322.2h1v1h-1zM276.9 324.2h1v1h-1zM462.2 324.2h4v1h-4zM186.9 325.2h1v1h-1zM278.9 325.2h1v1h-1zM286.9 325.2h1v1h-1zM459.2 325.2h1v1h-1zM468.2 325.2h1v1h-1zM197.9 326.2h1v1h-1zM186.9 327.2h1v1h-1zM369.4 327.2h1v1h-1zM470.2 327.2h1v1h-1zM376.4 328.2h1v1h-1zM377.4 329.2h1v1h-1zM189.9 330.2h1v1h-1zM193.9 330.2h1v1h-1zM366.4 331.2h1v1h-1zM458.2 331.2h1v1h-1zM469.2 331.2h1v1h-1zM366.4 332.2h1v1h-1zM467.2 332.2h1v1h-1zM377.4 333.2h1v1h-1zM367.4 334.2h1v1h-1zM376.4 334.2h1v1h-1zM368.4 335.2h1v1h-1zM375.4 335.2h1v1h-1z"/><path fill="#7ed32c" d="M276.9 320.2h1v1h-1zM287.9 320.2h1v1h-1zM288.9 321.2h1v1h-1zM190.9 322.2h3v1h-3zM288.9 322.2h1v1h-1zM195.9 323.2h1v1h-1zM288.9 323.2h1v1h-1zM196.9 324.2h1v1h-1zM287.9 324.2h1v1h-1zM467.2 325.2h1v1h-1zM186.9 326.2h1v1h-1zM469.2 326.2h1v1h-1zM370.4 327.2h1v1h-1zM374.4 327.2h1v1h-1zM457.2 327.2h1v1h-1zM196.9 328.2h1v1h-1zM368.4 328.2h1v1h-1zM470.2 328.2h1v1h-1zM195.9 329.2h1v1h-1zM367.4 329.2h1v1h-1zM470.2 329.2h1v1h-1zM190.9 330.2h3v1h-3zM377.4 330.2h1v1h-1zM457.2 330.2h1v1h-1zM377.4 331.2h1v1h-1zM377.4 332.2h1v1h-1zM460.2 332.2h1v1h-1zM466.2 332.2h1v1h-1zM369.4 335.2h1v1h-1zM374.4 335.2h1v1h-1z"/><path fill="#92d624" d="M278.9 319.2h1v1h-1zM285.9 319.2h1v1h-1zM188.9 323.2h1v1h-1zM276.9 323.2h1v1h-1zM187.9 324.2h1v1h-1zM277.9 324.2h1v1h-1zM196.9 325.2h1v1h-1zM279.9 325.2h1v1h-1zM285.9 325.2h1v1h-1zM460.2 325.2h1v1h-1zM458.2 326.2h1v1h-1zM196.9 327.2h1v1h-1zM371.4 327.2h3v1h-3zM469.2 327.2h1v1h-1zM187.9 328.2h1v1h-1zM375.4 328.2h1v1h-1zM457.2 328.2h1v1h-1zM188.9 329.2h1v1h-1zM376.4 329.2h1v1h-1zM457.2 329.2h1v1h-1zM367.4 330.2h1v1h-1zM469.2 330.2h1v1h-1zM459.2 331.2h1v1h-1zM468.2 331.2h1v1h-1zM461.2 332.2h2v1h-2zM465.2 332.2h1v1h-1zM367.4 333.2h1v1h-1zM368.4 334.2h1v1h-1zM370.4 335.2h1v1h-1zM373.4 335.2h1v1h-1z"/><path fill="#a9d923" d="M284.9 319.2h1v1h-1zM277.9 320.2h1v1h-1zM286.9 320.2h1v1h-1zM276.9 321.2h1v1h-1zM287.9 321.2h1v1h-1zM276.9 322.2h1v1h-1zM194.9 323.2h1v1h-1zM287.9 323.2h1v1h-1zM195.9 324.2h1v1h-1zM286.9 324.2h1v1h-1zM280.9 325.2h2v1h-2zM283.9 325.2h2v1h-2zM461.2 325.2h1v1h-1zM466.2 325.2h1v1h-1zM196.9 326.2h1v1h-1zM468.2 326.2h1v1h-1zM195.9 328.2h1v1h-1zM369.4 328.2h1v1h-1zM469.2 328.2h1v1h-1zM194.9 329.2h1v1h-1zM368.4 329.2h1v1h-1zM469.2 329.2h1v1h-1zM458.2 330.2h1v1h-1zM367.4 331.2h1v1h-1zM467.2 331.2h1v1h-1zM367.4 332.2h1v1h-1zM463.2 332.2h2v1h-2zM376.4 333.2h1v1h-1zM375.4 334.2h1v1h-1zM371.4 335.2h2v1h-2z"/><path fill="#c1dc23" d="M279.9 319.2h1v1h-1zM283.9 319.2h1v1h-1zM287.9 322.2h1v1h-1zM189.9 323.2h1v1h-1zM193.9 323.2h1v1h-1zM277.9 323.2h1v1h-1zM278.9 324.2h1v1h-1zM187.9 325.2h1v1h-1zM282.9 325.2h1v1h-1zM462.2 325.2h4v1h-4zM187.9 326.2h1v1h-1zM459.2 326.2h1v1h-1zM187.9 327.2h1v1h-1zM458.2 327.2h1v1h-1zM374.4 328.2h1v1h-1zM458.2 328.2h1v1h-1zM189.9 329.2h1v1h-1zM193.9 329.2h1v1h-1zM458.2 329.2h1v1h-1zM376.4 330.2h1v1h-1zM468.2 330.2h1v1h-1zM460.2 331.2h1v1h-1zM376.4 332.2h1v1h-1zM368.4 333.2h1v1h-1zM369.4 334.2h1v1h-1z"/><path fill="#d8de23" d="M280.9 319.2h3v1h-3zM278.9 320.2h1v1h-1zM285.9 320.2h1v1h-1zM277.9 321.2h1v1h-1zM286.9 321.2h1v1h-1zM190.9 323.2h3v1h-3zM286.9 323.2h1v1h-1zM188.9 324.2h1v1h-1zM285.9 324.2h1v1h-1zM195.9 325.2h1v1h-1zM460.2 326.2h1v1h-1zM467.2 326.2h1v1h-1zM195.9 327.2h1v1h-1zM468.2 327.2h1v1h-1zM188.9 328.2h1v1h-1zM370.4 328.2h1v1h-1zM373.4 328.2h1v1h-1zM190.9 329.2h3v1h-3zM375.4 329.2h1v1h-1zM368.4 330.2h1v1h-1zM459.2 330.2h1v1h-1zM376.4 331.2h1v1h-1zM461.2 331.2h1v1h-1zM466.2 331.2h1v1h-1zM375.4 333.2h1v1h-1zM374.4 334.2h1v1h-1z"/><path fill="#f0e023" d="M277.9 322.2h1v1h-1zM286.9 322.2h1v1h-1zM194.9 324.2h1v1h-1zM279.9 324.2h1v1h-1zM284.9 324.2h1v1h-1zM195.9 326.2h1v1h-1zM466.2 326.2h1v1h-1zM459.2 327.2h1v1h-1zM194.9 328.2h1v1h-1zM371.4 328.2h2v1h-2zM468.2 328.2h1v1h-1zM369.4 329.2h1v1h-1zM468.2 329.2h1v1h-1zM467.2 330.2h1v1h-1zM368.4 331.2h1v1h-1zM462.2 331.2h1v1h-1zM465.2 331.2h1v1h-1zM368.4 332.2h1v1h-1zM370.4 334.2h1v1h-1zM373.4 334.2h1v1h-1z"/><path fill="#f5cf22" d="M284.9 320.2h1v1h-1zM278.9 323.2h1v1h-1zM189.9 324.2h1v1h-1zM280.9 324.2h1v1h-1zM188.9 325.2h1v1h-1zM188.9 326.2h1v1h-1zM461.2 326.2h1v1h-1zM188.9 327.2h1v1h-1zM467.2 327.2h1v1h-1zM189.9 328.2h1v1h-1zM459.2 328.2h1v1h-1zM374.4 329.2h1v1h-1zM459.2 329.2h1v1h-1zM375.4 330.2h1v1h-1zM460.2 330.2h1v1h-1zM463.2 331.2h2v1h-2zM375.4 332.2h1v1h-1zM369.4 333.2h1v1h-1zM371.4 334.2h2v1h-2z"/><path fill="#f5b921" d="M279.9 320.2h1v1h-1zM278.9 321.2h1v1h-1zM285.9 321.2h1v1h-1zM285.9 323.2h1v1h-1zM193.9 324.2h1v1h-1zM281.9 324.2h3v1h-3zM462.2 326.2h1v1h-1zM465.2 326.2h1v1h-1zM460.2 327.2h1v1h-1zM193.9 328.2h1v1h-1zM370.4 329.2h1v1h-1zM467.2 329.2h1v1h-1zM369.4 330.2h1v1h-1zM466.2 330.2h1v1h-1zM375.4 331.2h1v1h-1zM374.4 333.2h1v1h-1z"/><path fill="#f5a220" d="M280.9 320.2h1v1h-1zM283.9 320.2h1v1h-1zM278.9 322.2h1v1h-1zM285.9 322.2h1v1h-1zM279.9 323.2h1v1h-1zM190.9 324.2h1v1h-1zM194.9 325.2h1v1h-1zM463.2 326.2h2v1h-2zM194.9 327.2h1v1h-1zM190.9 328.2h1v1h-1zM467.2 328.2h1v1h-1zM373.4 329.2h1v1h-1zM460.2 329.2h1v1h-1zM461.2 330.2h1v1h-1zM369.4 331.2h1v1h-1zM369.4 332.2h1v1h-1zM370.4 333.2h1v1h-1z"/><path fill="#f58c1e" d="M281.9 320.2h2v1h-2zM284.9 323.2h1v1h-1zM191.9 324.2h2v1h-2zM189.9 325.2h1v1h-1zM194.9 326.2h1v1h-1zM189.9 327.2h1v1h-1zM461.2 327.2h1v1h-1zM466.2 327.2h1v1h-1zM191.9 328.2h2v1h-2zM460.2 328.2h1v1h-1zM371.4 329.2h2v1h-2zM374.4 330.2h1v1h-1zM465.2 330.2h1v1h-1zM374.4 332.2h1v1h-1zM371.4 333.2h1v1h-1zM373.4 333.2h1v1h-1z"/><path fill="#f2761d" d="M279.9 321.2h1v1h-1zM284.9 321.2h1v1h-1zM279.9 322.2h1v1h-1zM280.9 323.2h1v1h-1zM193.9 325.2h1v1h-1zM189.9 326.2h1v1h-1zM193.9 327.2h1v1h-1zM465.2 327.2h1v1h-1zM466.2 328.2h1v1h-1zM466.2 329.2h1v1h-1zM370.4 330.2h1v1h-1zM462.2 330.2h3v1h-3zM374.4 331.2h1v1h-1zM370.4 332.2h1v1h-1zM372.4 333.2h1v1h-1z"/><path fill="#ee611c" d="M284.9 322.2h1v1h-1zM281.9 323.2h3v1h-3zM190.9 325.2h1v1h-1zM193.9 326.2h1v1h-1zM190.9 327.2h1v1h-1zM462.2 327.2h1v1h-1zM464.2 327.2h1v1h-1zM461.2 328.2h1v1h-1zM461.2 329.2h1v1h-1zM373.4 330.2h1v1h-1zM370.4 331.2h1v1h-1z"/><path fill="#e94d1b" d="M280.9 321.2h1v1h-1zM283.9 321.2h1v1h-1zM192.9 325.2h1v1h-1zM192.9 327.2h1v1h-1zM463.2 327.2h1v1h-1zM465.2 328.2h1v1h-1zM465.2 329.2h1v1h-1zM371.4 330.2h2v1h-2zM371.4 332.2h1v1h-1zM373.4 332.2h1v1h-1z"/><path fill="#e5381a" d="M281.9 321.2h2v1h-2zM280.9 322.2h1v1h-1zM283.9 322.2h1v1h-1zM191.9 325.2h1v1h-1zM190.9 326.2h1v1h-1zM191.9 327.2h1v1h-1zM462.2 328.2h1v1h-1zM462.2 329.2h3v1h-3zM371.4 331.2h1v1h-1zM373.4 331.2h1v1h-1zM372.4 332.2h1v1h-1z"/><path fill="#e12319" d="M281.9 322.2h2v1h-2zM191.9 326.2h2v1h-2zM463.2 328.2h2v1h-2zM372.4 331.2h1v1h-1z"/></g>
<line x1="65.9" y1="198.5" x2="140.2" y2="198.5" stroke="#231f20" stroke-width="1.12" stroke-linecap="square"/>
<line x1="65.9" y1="272.5" x2="140.2" y2="272.5" stroke="#231f20" stroke-width="1.12" stroke-linecap="square"/>
<line x1="65.5" y1="198.6" x2="65.5" y2="273" stroke="#231f20" stroke-width="1.12" stroke-linecap="square"/>
<line x1="140.5" y1="198.6" x2="140.5" y2="273" stroke="#231f20" stroke-width="1.12" stroke-linecap="square"/>
<line x1="65.9" y1="205.5" x2="140.2" y2="205.5" stroke="#231f20" stroke-width="1.12"/>
<line x1="65.9" y1="256.5" x2="140.2" y2="256.5" stroke="#231f20" stroke-width="1.12"/>
<line x1="90.5" y1="205.5" x2="90.5" y2="256.2" stroke="#231f20" stroke-width="1.12"/>
<line x1="63.3" y1="205.5" x2="65.9" y2="205.5" stroke="#231f20" stroke-width="1.12"/>
<line x1="63.3" y1="223.5" x2="65.9" y2="223.5" stroke="#231f20" stroke-width="1.12"/>
<line x1="63.3" y1="243.5" x2="65.9" y2="243.5" stroke="#231f20" stroke-width="1.12"/>
<line x1="63.3" y1="256.5" x2="65.9" y2="256.5" stroke="#231f20" stroke-width="1.6"/>
<line x1="63.3" y1="266.5" x2="65.9" y2="266.5" stroke="#231f20" stroke-width="1.12"/>
<line x1="64.4" y1="218.12" x2="65.9" y2="218.12" stroke="#231f20" stroke-width="0.5"/>
<line x1="64.4" y1="237.23" x2="65.9" y2="237.23" stroke="#231f20" stroke-width="0.5"/>
<line x1="64.4" y1="214.92" x2="65.9" y2="214.92" stroke="#231f20" stroke-width="0.5"/>
<line x1="64.4" y1="233.8" x2="65.9" y2="233.8" stroke="#231f20" stroke-width="0.5"/>
<line x1="64.4" y1="212.64" x2="65.9" y2="212.64" stroke="#231f20" stroke-width="0.5"/>
<line x1="64.4" y1="231.36" x2="65.9" y2="231.36" stroke="#231f20" stroke-width="0.5"/>
<line x1="64.4" y1="210.88" x2="65.9" y2="210.88" stroke="#231f20" stroke-width="0.5"/>
<line x1="64.4" y1="229.47" x2="65.9" y2="229.47" stroke="#231f20" stroke-width="0.5"/>
<line x1="64.4" y1="209.44" x2="65.9" y2="209.44" stroke="#231f20" stroke-width="0.5"/>
<line x1="64.4" y1="227.93" x2="65.9" y2="227.93" stroke="#231f20" stroke-width="0.5"/>
<line x1="64.4" y1="208.22" x2="65.9" y2="208.22" stroke="#231f20" stroke-width="0.5"/>
<line x1="64.4" y1="226.62" x2="65.9" y2="226.62" stroke="#231f20" stroke-width="0.5"/>
<line x1="64.4" y1="207.16" x2="65.9" y2="207.16" stroke="#231f20" stroke-width="0.5"/>
<line x1="64.4" y1="225.49" x2="65.9" y2="225.49" stroke="#231f20" stroke-width="0.5"/>
<line x1="64.4" y1="206.23" x2="65.9" y2="206.23" stroke="#231f20" stroke-width="0.5"/>
<line x1="64.4" y1="224.49" x2="65.9" y2="224.49" stroke="#231f20" stroke-width="0.5"/>
<line x1="64.4" y1="252.78" x2="65.9" y2="252.78" stroke="#231f20" stroke-width="0.5"/>
<line x1="64.4" y1="258.5" x2="65.9" y2="258.5" stroke="#231f20" stroke-width="0.5"/>
<line x1="64.4" y1="249.55" x2="65.9" y2="249.55" stroke="#231f20" stroke-width="0.5"/>
<line x1="64.4" y1="261" x2="65.9" y2="261" stroke="#231f20" stroke-width="0.5"/>
<line x1="64.4" y1="246.32" x2="65.9" y2="246.32" stroke="#231f20" stroke-width="0.5"/>
<line x1="64.4" y1="263.5" x2="65.9" y2="263.5" stroke="#231f20" stroke-width="0.5"/>
<line x1="64.4" y1="268.5" x2="65.9" y2="268.5" stroke="#231f20" stroke-width="0.5"/>
<line x1="64.4" y1="271" x2="65.9" y2="271" stroke="#231f20" stroke-width="0.5"/>
<line x1="75.5" y1="273" x2="75.5" y2="275.6" stroke="#231f20" stroke-width="1.12"/>
<line x1="79.77" y1="273" x2="79.77" y2="274.5" stroke="#231f20" stroke-width="0.5"/>
<line x1="82.39" y1="273" x2="82.39" y2="274.5" stroke="#231f20" stroke-width="0.5"/>
<line x1="84.24" y1="273" x2="84.24" y2="274.5" stroke="#231f20" stroke-width="0.5"/>
<line x1="85.68" y1="273" x2="85.68" y2="274.5" stroke="#231f20" stroke-width="0.5"/>
<line x1="86.86" y1="273" x2="86.86" y2="274.5" stroke="#231f20" stroke-width="0.5"/>
<line x1="87.85" y1="273" x2="87.85" y2="274.5" stroke="#231f20" stroke-width="0.5"/>
<line x1="88.71" y1="273" x2="88.71" y2="274.5" stroke="#231f20" stroke-width="0.5"/>
<line x1="89.47" y1="273" x2="89.47" y2="274.5" stroke="#231f20" stroke-width="0.5"/>
<line x1="90.5" y1="273" x2="90.5" y2="275.6" stroke="#231f20" stroke-width="1.12"/>
<line x1="94.62" y1="273" x2="94.62" y2="274.5" stroke="#231f20" stroke-width="0.5"/>
<line x1="97.24" y1="273" x2="97.24" y2="274.5" stroke="#231f20" stroke-width="0.5"/>
<line x1="99.09" y1="273" x2="99.09" y2="274.5" stroke="#231f20" stroke-width="0.5"/>
<line x1="100.53" y1="273" x2="100.53" y2="274.5" stroke="#231f20" stroke-width="0.5"/>
<line x1="101.71" y1="273" x2="101.71" y2="274.5" stroke="#231f20" stroke-width="0.5"/>
<line x1="102.7" y1="273" x2="102.7" y2="274.5" stroke="#231f20" stroke-width="0.5"/>
<line x1="103.56" y1="273" x2="103.56" y2="274.5" stroke="#231f20" stroke-width="0.5"/>
<line x1="104.32" y1="273" x2="104.32" y2="274.5" stroke="#231f20" stroke-width="0.5"/>
<line x1="105.5" y1="273" x2="105.5" y2="275.6" stroke="#231f20" stroke-width="1.12"/>
<line x1="109.47" y1="273" x2="109.47" y2="274.5" stroke="#231f20" stroke-width="0.5"/>
<line x1="112.09" y1="273" x2="112.09" y2="274.5" stroke="#231f20" stroke-width="0.5"/>
<line x1="113.94" y1="273" x2="113.94" y2="274.5" stroke="#231f20" stroke-width="0.5"/>
<line x1="115.38" y1="273" x2="115.38" y2="274.5" stroke="#231f20" stroke-width="0.5"/>
<line x1="116.56" y1="273" x2="116.56" y2="274.5" stroke="#231f20" stroke-width="0.5"/>
<line x1="117.55" y1="273" x2="117.55" y2="274.5" stroke="#231f20" stroke-width="0.5"/>
<line x1="118.41" y1="273" x2="118.41" y2="274.5" stroke="#231f20" stroke-width="0.5"/>
<line x1="119.17" y1="273" x2="119.17" y2="274.5" stroke="#231f20" stroke-width="0.5"/>
<line x1="119.5" y1="273" x2="119.5" y2="275.6" stroke="#231f20" stroke-width="1.12"/>
<line x1="124.32" y1="273" x2="124.32" y2="274.5" stroke="#231f20" stroke-width="0.5"/>
<line x1="126.94" y1="273" x2="126.94" y2="274.5" stroke="#231f20" stroke-width="0.5"/>
<line x1="128.79" y1="273" x2="128.79" y2="274.5" stroke="#231f20" stroke-width="0.5"/>
<line x1="130.23" y1="273" x2="130.23" y2="274.5" stroke="#231f20" stroke-width="0.5"/>
<line x1="131.41" y1="273" x2="131.41" y2="274.5" stroke="#231f20" stroke-width="0.5"/>
<line x1="132.4" y1="273" x2="132.4" y2="274.5" stroke="#231f20" stroke-width="0.5"/>
<line x1="133.26" y1="273" x2="133.26" y2="274.5" stroke="#231f20" stroke-width="0.5"/>
<line x1="134.02" y1="273" x2="134.02" y2="274.5" stroke="#231f20" stroke-width="0.5"/>
<line x1="134.5" y1="273" x2="134.5" y2="275.6" stroke="#231f20" stroke-width="1.12"/>
<line x1="68.4" y1="273" x2="68.4" y2="274.5" stroke="#231f20" stroke-width="0.5"/>
<line x1="70.9" y1="273" x2="70.9" y2="274.5" stroke="#231f20" stroke-width="0.5"/>
<line x1="72.9" y1="273" x2="72.9" y2="274.5" stroke="#231f20" stroke-width="0.5"/>
<text x="73.9" y="286.6" font-size="8.0" text-anchor="middle">10<tspan font-size="5.4" dy="-2.9">1</tspan></text>
<text x="88.75" y="286.6" font-size="8.0" text-anchor="middle">10<tspan font-size="5.4" dy="-2.9">2</tspan></text>
<text x="103.6" y="286.6" font-size="8.0" text-anchor="middle">10<tspan font-size="5.4" dy="-2.9">3</tspan></text>
<text x="118.45" y="286.6" font-size="8.0" text-anchor="middle">10<tspan font-size="5.4" dy="-2.9">4</tspan></text>
<text x="133.3" y="286.6" font-size="8.0" text-anchor="middle">10<tspan font-size="5.4" dy="-2.9">5</tspan></text>
<text x="78.4" y="263.9" font-size="7" text-anchor="middle" textLength="18.6" lengthAdjust="spacingAndGlyphs">CAR–</text>
<text x="115.1" y="263.9" font-size="7" text-anchor="middle" textLength="18.6" lengthAdjust="spacingAndGlyphs">CAR+</text>
<text x="78.5" y="270.6" font-size="7" text-anchor="middle">99.9</text>
<text x="115.3" y="270.6" font-size="7" text-anchor="middle">0.053</text>
<text x="103.05" y="193.6" font-size="10" text-anchor="middle" textLength="37.5" lengthAdjust="spacingAndGlyphs">Patient 3</text>
<line x1="155.4" y1="198.5" x2="229.7" y2="198.5" stroke="#231f20" stroke-width="1.12" stroke-linecap="square"/>
<line x1="155.4" y1="272.5" x2="229.7" y2="272.5" stroke="#231f20" stroke-width="1.12" stroke-linecap="square"/>
<line x1="155.5" y1="198.6" x2="155.5" y2="273" stroke="#231f20" stroke-width="1.12" stroke-linecap="square"/>
<line x1="229.5" y1="198.6" x2="229.5" y2="273" stroke="#231f20" stroke-width="1.12" stroke-linecap="square"/>
<line x1="155.4" y1="205.5" x2="229.7" y2="205.5" stroke="#231f20" stroke-width="1.12"/>
<line x1="155.4" y1="256.5" x2="229.7" y2="256.5" stroke="#231f20" stroke-width="1.12"/>
<line x1="180.5" y1="205.5" x2="180.5" y2="256.2" stroke="#231f20" stroke-width="1.12"/>
<line x1="152.8" y1="205.5" x2="155.4" y2="205.5" stroke="#231f20" stroke-width="1.12"/>
<line x1="152.8" y1="223.5" x2="155.4" y2="223.5" stroke="#231f20" stroke-width="1.12"/>
<line x1="152.8" y1="243.5" x2="155.4" y2="243.5" stroke="#231f20" stroke-width="1.12"/>
<line x1="152.8" y1="256.5" x2="155.4" y2="256.5" stroke="#231f20" stroke-width="1.6"/>
<line x1="152.8" y1="266.5" x2="155.4" y2="266.5" stroke="#231f20" stroke-width="1.12"/>
<line x1="153.9" y1="218.12" x2="155.4" y2="218.12" stroke="#231f20" stroke-width="0.5"/>
<line x1="153.9" y1="237.23" x2="155.4" y2="237.23" stroke="#231f20" stroke-width="0.5"/>
<line x1="153.9" y1="214.92" x2="155.4" y2="214.92" stroke="#231f20" stroke-width="0.5"/>
<line x1="153.9" y1="233.8" x2="155.4" y2="233.8" stroke="#231f20" stroke-width="0.5"/>
<line x1="153.9" y1="212.64" x2="155.4" y2="212.64" stroke="#231f20" stroke-width="0.5"/>
<line x1="153.9" y1="231.36" x2="155.4" y2="231.36" stroke="#231f20" stroke-width="0.5"/>
<line x1="153.9" y1="210.88" x2="155.4" y2="210.88" stroke="#231f20" stroke-width="0.5"/>
<line x1="153.9" y1="229.47" x2="155.4" y2="229.47" stroke="#231f20" stroke-width="0.5"/>
<line x1="153.9" y1="209.44" x2="155.4" y2="209.44" stroke="#231f20" stroke-width="0.5"/>
<line x1="153.9" y1="227.93" x2="155.4" y2="227.93" stroke="#231f20" stroke-width="0.5"/>
<line x1="153.9" y1="208.22" x2="155.4" y2="208.22" stroke="#231f20" stroke-width="0.5"/>
<line x1="153.9" y1="226.62" x2="155.4" y2="226.62" stroke="#231f20" stroke-width="0.5"/>
<line x1="153.9" y1="207.16" x2="155.4" y2="207.16" stroke="#231f20" stroke-width="0.5"/>
<line x1="153.9" y1="225.49" x2="155.4" y2="225.49" stroke="#231f20" stroke-width="0.5"/>
<line x1="153.9" y1="206.23" x2="155.4" y2="206.23" stroke="#231f20" stroke-width="0.5"/>
<line x1="153.9" y1="224.49" x2="155.4" y2="224.49" stroke="#231f20" stroke-width="0.5"/>
<line x1="153.9" y1="252.78" x2="155.4" y2="252.78" stroke="#231f20" stroke-width="0.5"/>
<line x1="153.9" y1="258.5" x2="155.4" y2="258.5" stroke="#231f20" stroke-width="0.5"/>
<line x1="153.9" y1="249.55" x2="155.4" y2="249.55" stroke="#231f20" stroke-width="0.5"/>
<line x1="153.9" y1="261" x2="155.4" y2="261" stroke="#231f20" stroke-width="0.5"/>
<line x1="153.9" y1="246.32" x2="155.4" y2="246.32" stroke="#231f20" stroke-width="0.5"/>
<line x1="153.9" y1="263.5" x2="155.4" y2="263.5" stroke="#231f20" stroke-width="0.5"/>
<line x1="153.9" y1="268.5" x2="155.4" y2="268.5" stroke="#231f20" stroke-width="0.5"/>
<line x1="153.9" y1="271" x2="155.4" y2="271" stroke="#231f20" stroke-width="0.5"/>
<line x1="164.5" y1="273" x2="164.5" y2="275.6" stroke="#231f20" stroke-width="1.12"/>
<line x1="169.27" y1="273" x2="169.27" y2="274.5" stroke="#231f20" stroke-width="0.5"/>
<line x1="171.89" y1="273" x2="171.89" y2="274.5" stroke="#231f20" stroke-width="0.5"/>
<line x1="173.74" y1="273" x2="173.74" y2="274.5" stroke="#231f20" stroke-width="0.5"/>
<line x1="175.18" y1="273" x2="175.18" y2="274.5" stroke="#231f20" stroke-width="0.5"/>
<line x1="176.36" y1="273" x2="176.36" y2="274.5" stroke="#231f20" stroke-width="0.5"/>
<line x1="177.35" y1="273" x2="177.35" y2="274.5" stroke="#231f20" stroke-width="0.5"/>
<line x1="178.21" y1="273" x2="178.21" y2="274.5" stroke="#231f20" stroke-width="0.5"/>
<line x1="178.97" y1="273" x2="178.97" y2="274.5" stroke="#231f20" stroke-width="0.5"/>
<line x1="179.5" y1="273" x2="179.5" y2="275.6" stroke="#231f20" stroke-width="1.12"/>
<line x1="184.12" y1="273" x2="184.12" y2="274.5" stroke="#231f20" stroke-width="0.5"/>
<line x1="186.74" y1="273" x2="186.74" y2="274.5" stroke="#231f20" stroke-width="0.5"/>
<line x1="188.59" y1="273" x2="188.59" y2="274.5" stroke="#231f20" stroke-width="0.5"/>
<line x1="190.03" y1="273" x2="190.03" y2="274.5" stroke="#231f20" stroke-width="0.5"/>
<line x1="191.21" y1="273" x2="191.21" y2="274.5" stroke="#231f20" stroke-width="0.5"/>
<line x1="192.2" y1="273" x2="192.2" y2="274.5" stroke="#231f20" stroke-width="0.5"/>
<line x1="193.06" y1="273" x2="193.06" y2="274.5" stroke="#231f20" stroke-width="0.5"/>
<line x1="193.82" y1="273" x2="193.82" y2="274.5" stroke="#231f20" stroke-width="0.5"/>
<line x1="194.5" y1="273" x2="194.5" y2="275.6" stroke="#231f20" stroke-width="1.12"/>
<line x1="198.97" y1="273" x2="198.97" y2="274.5" stroke="#231f20" stroke-width="0.5"/>
<line x1="201.59" y1="273" x2="201.59" y2="274.5" stroke="#231f20" stroke-width="0.5"/>
<line x1="203.44" y1="273" x2="203.44" y2="274.5" stroke="#231f20" stroke-width="0.5"/>
<line x1="204.88" y1="273" x2="204.88" y2="274.5" stroke="#231f20" stroke-width="0.5"/>
<line x1="206.06" y1="273" x2="206.06" y2="274.5" stroke="#231f20" stroke-width="0.5"/>
<line x1="207.05" y1="273" x2="207.05" y2="274.5" stroke="#231f20" stroke-width="0.5"/>
<line x1="207.91" y1="273" x2="207.91" y2="274.5" stroke="#231f20" stroke-width="0.5"/>
<line x1="208.67" y1="273" x2="208.67" y2="274.5" stroke="#231f20" stroke-width="0.5"/>
<line x1="209.5" y1="273" x2="209.5" y2="275.6" stroke="#231f20" stroke-width="1.12"/>
<line x1="213.82" y1="273" x2="213.82" y2="274.5" stroke="#231f20" stroke-width="0.5"/>
<line x1="216.44" y1="273" x2="216.44" y2="274.5" stroke="#231f20" stroke-width="0.5"/>
<line x1="218.29" y1="273" x2="218.29" y2="274.5" stroke="#231f20" stroke-width="0.5"/>
<line x1="219.73" y1="273" x2="219.73" y2="274.5" stroke="#231f20" stroke-width="0.5"/>
<line x1="220.91" y1="273" x2="220.91" y2="274.5" stroke="#231f20" stroke-width="0.5"/>
<line x1="221.9" y1="273" x2="221.9" y2="274.5" stroke="#231f20" stroke-width="0.5"/>
<line x1="222.76" y1="273" x2="222.76" y2="274.5" stroke="#231f20" stroke-width="0.5"/>
<line x1="223.52" y1="273" x2="223.52" y2="274.5" stroke="#231f20" stroke-width="0.5"/>
<line x1="224.5" y1="273" x2="224.5" y2="275.6" stroke="#231f20" stroke-width="1.12"/>
<line x1="157.9" y1="273" x2="157.9" y2="274.5" stroke="#231f20" stroke-width="0.5"/>
<line x1="160.4" y1="273" x2="160.4" y2="274.5" stroke="#231f20" stroke-width="0.5"/>
<line x1="162.4" y1="273" x2="162.4" y2="274.5" stroke="#231f20" stroke-width="0.5"/>
<text x="163.4" y="286.6" font-size="8.0" text-anchor="middle">10<tspan font-size="5.4" dy="-2.9">1</tspan></text>
<text x="178.25" y="286.6" font-size="8.0" text-anchor="middle">10<tspan font-size="5.4" dy="-2.9">2</tspan></text>
<text x="193.1" y="286.6" font-size="8.0" text-anchor="middle">10<tspan font-size="5.4" dy="-2.9">3</tspan></text>
<text x="207.95" y="286.6" font-size="8.0" text-anchor="middle">10<tspan font-size="5.4" dy="-2.9">4</tspan></text>
<text x="222.8" y="286.6" font-size="8.0" text-anchor="middle">10<tspan font-size="5.4" dy="-2.9">5</tspan></text>
<text x="167.9" y="263.9" font-size="7" text-anchor="middle" textLength="18.6" lengthAdjust="spacingAndGlyphs">CAR–</text>
<text x="204.6" y="263.9" font-size="7" text-anchor="middle" textLength="18.6" lengthAdjust="spacingAndGlyphs">CAR+</text>
<text x="168" y="270.6" font-size="7" text-anchor="middle">100.0</text>
<text x="204.8" y="270.6" font-size="7" text-anchor="middle">0.012</text>
<text x="192.55" y="193.6" font-size="10" text-anchor="middle" textLength="37.5" lengthAdjust="spacingAndGlyphs">Patient 5</text>
<line x1="244.4" y1="198.5" x2="318.7" y2="198.5" stroke="#231f20" stroke-width="1.12" stroke-linecap="square"/>
<line x1="244.4" y1="272.5" x2="318.7" y2="272.5" stroke="#231f20" stroke-width="1.12" stroke-linecap="square"/>
<line x1="244.5" y1="198.6" x2="244.5" y2="273" stroke="#231f20" stroke-width="1.12" stroke-linecap="square"/>
<line x1="318.5" y1="198.6" x2="318.5" y2="273" stroke="#231f20" stroke-width="1.12" stroke-linecap="square"/>
<line x1="244.4" y1="205.5" x2="318.7" y2="205.5" stroke="#231f20" stroke-width="1.12"/>
<line x1="244.4" y1="256.5" x2="318.7" y2="256.5" stroke="#231f20" stroke-width="1.12"/>
<line x1="269.5" y1="205.5" x2="269.5" y2="256.2" stroke="#231f20" stroke-width="1.12"/>
<line x1="241.8" y1="205.5" x2="244.4" y2="205.5" stroke="#231f20" stroke-width="1.12"/>
<line x1="241.8" y1="223.5" x2="244.4" y2="223.5" stroke="#231f20" stroke-width="1.12"/>
<line x1="241.8" y1="243.5" x2="244.4" y2="243.5" stroke="#231f20" stroke-width="1.12"/>
<line x1="241.8" y1="256.5" x2="244.4" y2="256.5" stroke="#231f20" stroke-width="1.6"/>
<line x1="241.8" y1="266.5" x2="244.4" y2="266.5" stroke="#231f20" stroke-width="1.12"/>
<line x1="242.9" y1="218.12" x2="244.4" y2="218.12" stroke="#231f20" stroke-width="0.5"/>
<line x1="242.9" y1="237.23" x2="244.4" y2="237.23" stroke="#231f20" stroke-width="0.5"/>
<line x1="242.9" y1="214.92" x2="244.4" y2="214.92" stroke="#231f20" stroke-width="0.5"/>
<line x1="242.9" y1="233.8" x2="244.4" y2="233.8" stroke="#231f20" stroke-width="0.5"/>
<line x1="242.9" y1="212.64" x2="244.4" y2="212.64" stroke="#231f20" stroke-width="0.5"/>
<line x1="242.9" y1="231.36" x2="244.4" y2="231.36" stroke="#231f20" stroke-width="0.5"/>
<line x1="242.9" y1="210.88" x2="244.4" y2="210.88" stroke="#231f20" stroke-width="0.5"/>
<line x1="242.9" y1="229.47" x2="244.4" y2="229.47" stroke="#231f20" stroke-width="0.5"/>
<line x1="242.9" y1="209.44" x2="244.4" y2="209.44" stroke="#231f20" stroke-width="0.5"/>
<line x1="242.9" y1="227.93" x2="244.4" y2="227.93" stroke="#231f20" stroke-width="0.5"/>
<line x1="242.9" y1="208.22" x2="244.4" y2="208.22" stroke="#231f20" stroke-width="0.5"/>
<line x1="242.9" y1="226.62" x2="244.4" y2="226.62" stroke="#231f20" stroke-width="0.5"/>
<line x1="242.9" y1="207.16" x2="244.4" y2="207.16" stroke="#231f20" stroke-width="0.5"/>
<line x1="242.9" y1="225.49" x2="244.4" y2="225.49" stroke="#231f20" stroke-width="0.5"/>
<line x1="242.9" y1="206.23" x2="244.4" y2="206.23" stroke="#231f20" stroke-width="0.5"/>
<line x1="242.9" y1="224.49" x2="244.4" y2="224.49" stroke="#231f20" stroke-width="0.5"/>
<line x1="242.9" y1="252.78" x2="244.4" y2="252.78" stroke="#231f20" stroke-width="0.5"/>
<line x1="242.9" y1="258.5" x2="244.4" y2="258.5" stroke="#231f20" stroke-width="0.5"/>
<line x1="242.9" y1="249.55" x2="244.4" y2="249.55" stroke="#231f20" stroke-width="0.5"/>
<line x1="242.9" y1="261" x2="244.4" y2="261" stroke="#231f20" stroke-width="0.5"/>
<line x1="242.9" y1="246.32" x2="244.4" y2="246.32" stroke="#231f20" stroke-width="0.5"/>
<line x1="242.9" y1="263.5" x2="244.4" y2="263.5" stroke="#231f20" stroke-width="0.5"/>
<line x1="242.9" y1="268.5" x2="244.4" y2="268.5" stroke="#231f20" stroke-width="0.5"/>
<line x1="242.9" y1="271" x2="244.4" y2="271" stroke="#231f20" stroke-width="0.5"/>
<line x1="253.5" y1="273" x2="253.5" y2="275.6" stroke="#231f20" stroke-width="1.12"/>
<line x1="258.27" y1="273" x2="258.27" y2="274.5" stroke="#231f20" stroke-width="0.5"/>
<line x1="260.89" y1="273" x2="260.89" y2="274.5" stroke="#231f20" stroke-width="0.5"/>
<line x1="262.74" y1="273" x2="262.74" y2="274.5" stroke="#231f20" stroke-width="0.5"/>
<line x1="264.18" y1="273" x2="264.18" y2="274.5" stroke="#231f20" stroke-width="0.5"/>
<line x1="265.36" y1="273" x2="265.36" y2="274.5" stroke="#231f20" stroke-width="0.5"/>
<line x1="266.35" y1="273" x2="266.35" y2="274.5" stroke="#231f20" stroke-width="0.5"/>
<line x1="267.21" y1="273" x2="267.21" y2="274.5" stroke="#231f20" stroke-width="0.5"/>
<line x1="267.97" y1="273" x2="267.97" y2="274.5" stroke="#231f20" stroke-width="0.5"/>
<line x1="268.5" y1="273" x2="268.5" y2="275.6" stroke="#231f20" stroke-width="1.12"/>
<line x1="273.12" y1="273" x2="273.12" y2="274.5" stroke="#231f20" stroke-width="0.5"/>
<line x1="275.74" y1="273" x2="275.74" y2="274.5" stroke="#231f20" stroke-width="0.5"/>
<line x1="277.59" y1="273" x2="277.59" y2="274.5" stroke="#231f20" stroke-width="0.5"/>
<line x1="279.03" y1="273" x2="279.03" y2="274.5" stroke="#231f20" stroke-width="0.5"/>
<line x1="280.21" y1="273" x2="280.21" y2="274.5" stroke="#231f20" stroke-width="0.5"/>
<line x1="281.2" y1="273" x2="281.2" y2="274.5" stroke="#231f20" stroke-width="0.5"/>
<line x1="282.06" y1="273" x2="282.06" y2="274.5" stroke="#231f20" stroke-width="0.5"/>
<line x1="282.82" y1="273" x2="282.82" y2="274.5" stroke="#231f20" stroke-width="0.5"/>
<line x1="283.5" y1="273" x2="283.5" y2="275.6" stroke="#231f20" stroke-width="1.12"/>
<line x1="287.97" y1="273" x2="287.97" y2="274.5" stroke="#231f20" stroke-width="0.5"/>
<line x1="290.59" y1="273" x2="290.59" y2="274.5" stroke="#231f20" stroke-width="0.5"/>
<line x1="292.44" y1="273" x2="292.44" y2="274.5" stroke="#231f20" stroke-width="0.5"/>
<line x1="293.88" y1="273" x2="293.88" y2="274.5" stroke="#231f20" stroke-width="0.5"/>
<line x1="295.06" y1="273" x2="295.06" y2="274.5" stroke="#231f20" stroke-width="0.5"/>
<line x1="296.05" y1="273" x2="296.05" y2="274.5" stroke="#231f20" stroke-width="0.5"/>
<line x1="296.91" y1="273" x2="296.91" y2="274.5" stroke="#231f20" stroke-width="0.5"/>
<line x1="297.67" y1="273" x2="297.67" y2="274.5" stroke="#231f20" stroke-width="0.5"/>
<line x1="298.5" y1="273" x2="298.5" y2="275.6" stroke="#231f20" stroke-width="1.12"/>
<line x1="302.82" y1="273" x2="302.82" y2="274.5" stroke="#231f20" stroke-width="0.5"/>
<line x1="305.44" y1="273" x2="305.44" y2="274.5" stroke="#231f20" stroke-width="0.5"/>
<line x1="307.29" y1="273" x2="307.29" y2="274.5" stroke="#231f20" stroke-width="0.5"/>
<line x1="308.73" y1="273" x2="308.73" y2="274.5" stroke="#231f20" stroke-width="0.5"/>
<line x1="309.91" y1="273" x2="309.91" y2="274.5" stroke="#231f20" stroke-width="0.5"/>
<line x1="310.9" y1="273" x2="310.9" y2="274.5" stroke="#231f20" stroke-width="0.5"/>
<line x1="311.76" y1="273" x2="311.76" y2="274.5" stroke="#231f20" stroke-width="0.5"/>
<line x1="312.52" y1="273" x2="312.52" y2="274.5" stroke="#231f20" stroke-width="0.5"/>
<line x1="313.5" y1="273" x2="313.5" y2="275.6" stroke="#231f20" stroke-width="1.12"/>
<line x1="246.9" y1="273" x2="246.9" y2="274.5" stroke="#231f20" stroke-width="0.5"/>
<line x1="249.4" y1="273" x2="249.4" y2="274.5" stroke="#231f20" stroke-width="0.5"/>
<line x1="251.4" y1="273" x2="251.4" y2="274.5" stroke="#231f20" stroke-width="0.5"/>
<text x="252.4" y="286.6" font-size="8.0" text-anchor="middle">10<tspan font-size="5.4" dy="-2.9">1</tspan></text>
<text x="267.25" y="286.6" font-size="8.0" text-anchor="middle">10<tspan font-size="5.4" dy="-2.9">2</tspan></text>
<text x="282.1" y="286.6" font-size="8.0" text-anchor="middle">10<tspan font-size="5.4" dy="-2.9">3</tspan></text>
<text x="296.95" y="286.6" font-size="8.0" text-anchor="middle">10<tspan font-size="5.4" dy="-2.9">4</tspan></text>
<text x="311.8" y="286.6" font-size="8.0" text-anchor="middle">10<tspan font-size="5.4" dy="-2.9">5</tspan></text>
<text x="256.9" y="263.9" font-size="7" text-anchor="middle" textLength="18.6" lengthAdjust="spacingAndGlyphs">CAR–</text>
<text x="293.6" y="263.9" font-size="7" text-anchor="middle" textLength="18.6" lengthAdjust="spacingAndGlyphs">CAR+</text>
<text x="257" y="270.6" font-size="7" text-anchor="middle">100.0</text>
<text x="293.8" y="270.6" font-size="7" text-anchor="middle">0.041</text>
<text x="281.55" y="193.6" font-size="10" text-anchor="middle" textLength="37.5" lengthAdjust="spacingAndGlyphs">Patient 4</text>
<line x1="333.9" y1="198.5" x2="408.2" y2="198.5" stroke="#231f20" stroke-width="1.12" stroke-linecap="square"/>
<line x1="333.9" y1="272.5" x2="408.2" y2="272.5" stroke="#231f20" stroke-width="1.12" stroke-linecap="square"/>
<line x1="333.5" y1="198.6" x2="333.5" y2="273" stroke="#231f20" stroke-width="1.12" stroke-linecap="square"/>
<line x1="408.5" y1="198.6" x2="408.5" y2="273" stroke="#231f20" stroke-width="1.12" stroke-linecap="square"/>
<line x1="333.9" y1="205.5" x2="408.2" y2="205.5" stroke="#231f20" stroke-width="1.12"/>
<line x1="333.9" y1="256.5" x2="408.2" y2="256.5" stroke="#231f20" stroke-width="1.12"/>
<line x1="358.5" y1="205.5" x2="358.5" y2="256.2" stroke="#231f20" stroke-width="1.12"/>
<line x1="331.3" y1="205.5" x2="333.9" y2="205.5" stroke="#231f20" stroke-width="1.12"/>
<line x1="331.3" y1="223.5" x2="333.9" y2="223.5" stroke="#231f20" stroke-width="1.12"/>
<line x1="331.3" y1="243.5" x2="333.9" y2="243.5" stroke="#231f20" stroke-width="1.12"/>
<line x1="331.3" y1="256.5" x2="333.9" y2="256.5" stroke="#231f20" stroke-width="1.6"/>
<line x1="331.3" y1="266.5" x2="333.9" y2="266.5" stroke="#231f20" stroke-width="1.12"/>
<line x1="332.4" y1="218.12" x2="333.9" y2="218.12" stroke="#231f20" stroke-width="0.5"/>
<line x1="332.4" y1="237.23" x2="333.9" y2="237.23" stroke="#231f20" stroke-width="0.5"/>
<line x1="332.4" y1="214.92" x2="333.9" y2="214.92" stroke="#231f20" stroke-width="0.5"/>
<line x1="332.4" y1="233.8" x2="333.9" y2="233.8" stroke="#231f20" stroke-width="0.5"/>
<line x1="332.4" y1="212.64" x2="333.9" y2="212.64" stroke="#231f20" stroke-width="0.5"/>
<line x1="332.4" y1="231.36" x2="333.9" y2="231.36" stroke="#231f20" stroke-width="0.5"/>
<line x1="332.4" y1="210.88" x2="333.9" y2="210.88" stroke="#231f20" stroke-width="0.5"/>
<line x1="332.4" y1="229.47" x2="333.9" y2="229.47" stroke="#231f20" stroke-width="0.5"/>
<line x1="332.4" y1="209.44" x2="333.9" y2="209.44" stroke="#231f20" stroke-width="0.5"/>
<line x1="332.4" y1="227.93" x2="333.9" y2="227.93" stroke="#231f20" stroke-width="0.5"/>
<line x1="332.4" y1="208.22" x2="333.9" y2="208.22" stroke="#231f20" stroke-width="0.5"/>
<line x1="332.4" y1="226.62" x2="333.9" y2="226.62" stroke="#231f20" stroke-width="0.5"/>
<line x1="332.4" y1="207.16" x2="333.9" y2="207.16" stroke="#231f20" stroke-width="0.5"/>
<line x1="332.4" y1="225.49" x2="333.9" y2="225.49" stroke="#231f20" stroke-width="0.5"/>
<line x1="332.4" y1="206.23" x2="333.9" y2="206.23" stroke="#231f20" stroke-width="0.5"/>
<line x1="332.4" y1="224.49" x2="333.9" y2="224.49" stroke="#231f20" stroke-width="0.5"/>
<line x1="332.4" y1="252.78" x2="333.9" y2="252.78" stroke="#231f20" stroke-width="0.5"/>
<line x1="332.4" y1="258.5" x2="333.9" y2="258.5" stroke="#231f20" stroke-width="0.5"/>
<line x1="332.4" y1="249.55" x2="333.9" y2="249.55" stroke="#231f20" stroke-width="0.5"/>
<line x1="332.4" y1="261" x2="333.9" y2="261" stroke="#231f20" stroke-width="0.5"/>
<line x1="332.4" y1="246.32" x2="333.9" y2="246.32" stroke="#231f20" stroke-width="0.5"/>
<line x1="332.4" y1="263.5" x2="333.9" y2="263.5" stroke="#231f20" stroke-width="0.5"/>
<line x1="332.4" y1="268.5" x2="333.9" y2="268.5" stroke="#231f20" stroke-width="0.5"/>
<line x1="332.4" y1="271" x2="333.9" y2="271" stroke="#231f20" stroke-width="0.5"/>
<line x1="343.5" y1="273" x2="343.5" y2="275.6" stroke="#231f20" stroke-width="1.12"/>
<line x1="347.77" y1="273" x2="347.77" y2="274.5" stroke="#231f20" stroke-width="0.5"/>
<line x1="350.39" y1="273" x2="350.39" y2="274.5" stroke="#231f20" stroke-width="0.5"/>
<line x1="352.24" y1="273" x2="352.24" y2="274.5" stroke="#231f20" stroke-width="0.5"/>
<line x1="353.68" y1="273" x2="353.68" y2="274.5" stroke="#231f20" stroke-width="0.5"/>
<line x1="354.86" y1="273" x2="354.86" y2="274.5" stroke="#231f20" stroke-width="0.5"/>
<line x1="355.85" y1="273" x2="355.85" y2="274.5" stroke="#231f20" stroke-width="0.5"/>
<line x1="356.71" y1="273" x2="356.71" y2="274.5" stroke="#231f20" stroke-width="0.5"/>
<line x1="357.47" y1="273" x2="357.47" y2="274.5" stroke="#231f20" stroke-width="0.5"/>
<line x1="358.5" y1="273" x2="358.5" y2="275.6" stroke="#231f20" stroke-width="1.12"/>
<line x1="362.62" y1="273" x2="362.62" y2="274.5" stroke="#231f20" stroke-width="0.5"/>
<line x1="365.24" y1="273" x2="365.24" y2="274.5" stroke="#231f20" stroke-width="0.5"/>
<line x1="367.09" y1="273" x2="367.09" y2="274.5" stroke="#231f20" stroke-width="0.5"/>
<line x1="368.53" y1="273" x2="368.53" y2="274.5" stroke="#231f20" stroke-width="0.5"/>
<line x1="369.71" y1="273" x2="369.71" y2="274.5" stroke="#231f20" stroke-width="0.5"/>
<line x1="370.7" y1="273" x2="370.7" y2="274.5" stroke="#231f20" stroke-width="0.5"/>
<line x1="371.56" y1="273" x2="371.56" y2="274.5" stroke="#231f20" stroke-width="0.5"/>
<line x1="372.32" y1="273" x2="372.32" y2="274.5" stroke="#231f20" stroke-width="0.5"/>
<line x1="372.5" y1="273" x2="372.5" y2="275.6" stroke="#231f20" stroke-width="1.12"/>
<line x1="377.47" y1="273" x2="377.47" y2="274.5" stroke="#231f20" stroke-width="0.5"/>
<line x1="380.09" y1="273" x2="380.09" y2="274.5" stroke="#231f20" stroke-width="0.5"/>
<line x1="381.94" y1="273" x2="381.94" y2="274.5" stroke="#231f20" stroke-width="0.5"/>
<line x1="383.38" y1="273" x2="383.38" y2="274.5" stroke="#231f20" stroke-width="0.5"/>
<line x1="384.56" y1="273" x2="384.56" y2="274.5" stroke="#231f20" stroke-width="0.5"/>
<line x1="385.55" y1="273" x2="385.55" y2="274.5" stroke="#231f20" stroke-width="0.5"/>
<line x1="386.41" y1="273" x2="386.41" y2="274.5" stroke="#231f20" stroke-width="0.5"/>
<line x1="387.17" y1="273" x2="387.17" y2="274.5" stroke="#231f20" stroke-width="0.5"/>
<line x1="387.5" y1="273" x2="387.5" y2="275.6" stroke="#231f20" stroke-width="1.12"/>
<line x1="392.32" y1="273" x2="392.32" y2="274.5" stroke="#231f20" stroke-width="0.5"/>
<line x1="394.94" y1="273" x2="394.94" y2="274.5" stroke="#231f20" stroke-width="0.5"/>
<line x1="396.79" y1="273" x2="396.79" y2="274.5" stroke="#231f20" stroke-width="0.5"/>
<line x1="398.23" y1="273" x2="398.23" y2="274.5" stroke="#231f20" stroke-width="0.5"/>
<line x1="399.41" y1="273" x2="399.41" y2="274.5" stroke="#231f20" stroke-width="0.5"/>
<line x1="400.4" y1="273" x2="400.4" y2="274.5" stroke="#231f20" stroke-width="0.5"/>
<line x1="401.26" y1="273" x2="401.26" y2="274.5" stroke="#231f20" stroke-width="0.5"/>
<line x1="402.02" y1="273" x2="402.02" y2="274.5" stroke="#231f20" stroke-width="0.5"/>
<line x1="402.5" y1="273" x2="402.5" y2="275.6" stroke="#231f20" stroke-width="1.12"/>
<line x1="336.4" y1="273" x2="336.4" y2="274.5" stroke="#231f20" stroke-width="0.5"/>
<line x1="338.9" y1="273" x2="338.9" y2="274.5" stroke="#231f20" stroke-width="0.5"/>
<line x1="340.9" y1="273" x2="340.9" y2="274.5" stroke="#231f20" stroke-width="0.5"/>
<text x="341.9" y="286.6" font-size="8.0" text-anchor="middle">10<tspan font-size="5.4" dy="-2.9">1</tspan></text>
<text x="356.75" y="286.6" font-size="8.0" text-anchor="middle">10<tspan font-size="5.4" dy="-2.9">2</tspan></text>
<text x="371.6" y="286.6" font-size="8.0" text-anchor="middle">10<tspan font-size="5.4" dy="-2.9">3</tspan></text>
<text x="386.45" y="286.6" font-size="8.0" text-anchor="middle">10<tspan font-size="5.4" dy="-2.9">4</tspan></text>
<text x="401.3" y="286.6" font-size="8.0" text-anchor="middle">10<tspan font-size="5.4" dy="-2.9">5</tspan></text>
<text x="346.4" y="263.9" font-size="7" text-anchor="middle" textLength="18.6" lengthAdjust="spacingAndGlyphs">CAR–</text>
<text x="383.1" y="263.9" font-size="7" text-anchor="middle" textLength="18.6" lengthAdjust="spacingAndGlyphs">CAR+</text>
<text x="346.5" y="270.6" font-size="7" text-anchor="middle">99.9</text>
<text x="383.3" y="270.6" font-size="7" text-anchor="middle">0.12</text>
<text x="371.05" y="193.6" font-size="10" text-anchor="middle" textLength="37.5" lengthAdjust="spacingAndGlyphs">Patient 7</text>
<line x1="423.7" y1="198.5" x2="498" y2="198.5" stroke="#231f20" stroke-width="1.12" stroke-linecap="square"/>
<line x1="423.7" y1="272.5" x2="498" y2="272.5" stroke="#231f20" stroke-width="1.12" stroke-linecap="square"/>
<line x1="423.5" y1="198.6" x2="423.5" y2="273" stroke="#231f20" stroke-width="1.12" stroke-linecap="square"/>
<line x1="498.5" y1="198.6" x2="498.5" y2="273" stroke="#231f20" stroke-width="1.12" stroke-linecap="square"/>
<line x1="423.7" y1="205.5" x2="498" y2="205.5" stroke="#231f20" stroke-width="1.12"/>
<line x1="423.7" y1="256.5" x2="498" y2="256.5" stroke="#231f20" stroke-width="1.12"/>
<line x1="448.5" y1="205.5" x2="448.5" y2="256.2" stroke="#231f20" stroke-width="1.12"/>
<line x1="421.1" y1="205.5" x2="423.7" y2="205.5" stroke="#231f20" stroke-width="1.12"/>
<line x1="421.1" y1="223.5" x2="423.7" y2="223.5" stroke="#231f20" stroke-width="1.12"/>
<line x1="421.1" y1="243.5" x2="423.7" y2="243.5" stroke="#231f20" stroke-width="1.12"/>
<line x1="421.1" y1="256.5" x2="423.7" y2="256.5" stroke="#231f20" stroke-width="1.6"/>
<line x1="421.1" y1="266.5" x2="423.7" y2="266.5" stroke="#231f20" stroke-width="1.12"/>
<line x1="422.2" y1="218.12" x2="423.7" y2="218.12" stroke="#231f20" stroke-width="0.5"/>
<line x1="422.2" y1="237.23" x2="423.7" y2="237.23" stroke="#231f20" stroke-width="0.5"/>
<line x1="422.2" y1="214.92" x2="423.7" y2="214.92" stroke="#231f20" stroke-width="0.5"/>
<line x1="422.2" y1="233.8" x2="423.7" y2="233.8" stroke="#231f20" stroke-width="0.5"/>
<line x1="422.2" y1="212.64" x2="423.7" y2="212.64" stroke="#231f20" stroke-width="0.5"/>
<line x1="422.2" y1="231.36" x2="423.7" y2="231.36" stroke="#231f20" stroke-width="0.5"/>
<line x1="422.2" y1="210.88" x2="423.7" y2="210.88" stroke="#231f20" stroke-width="0.5"/>
<line x1="422.2" y1="229.47" x2="423.7" y2="229.47" stroke="#231f20" stroke-width="0.5"/>
<line x1="422.2" y1="209.44" x2="423.7" y2="209.44" stroke="#231f20" stroke-width="0.5"/>
<line x1="422.2" y1="227.93" x2="423.7" y2="227.93" stroke="#231f20" stroke-width="0.5"/>
<line x1="422.2" y1="208.22" x2="423.7" y2="208.22" stroke="#231f20" stroke-width="0.5"/>
<line x1="422.2" y1="226.62" x2="423.7" y2="226.62" stroke="#231f20" stroke-width="0.5"/>
<line x1="422.2" y1="207.16" x2="423.7" y2="207.16" stroke="#231f20" stroke-width="0.5"/>
<line x1="422.2" y1="225.49" x2="423.7" y2="225.49" stroke="#231f20" stroke-width="0.5"/>
<line x1="422.2" y1="206.23" x2="423.7" y2="206.23" stroke="#231f20" stroke-width="0.5"/>
<line x1="422.2" y1="224.49" x2="423.7" y2="224.49" stroke="#231f20" stroke-width="0.5"/>
<line x1="422.2" y1="252.78" x2="423.7" y2="252.78" stroke="#231f20" stroke-width="0.5"/>
<line x1="422.2" y1="258.5" x2="423.7" y2="258.5" stroke="#231f20" stroke-width="0.5"/>
<line x1="422.2" y1="249.55" x2="423.7" y2="249.55" stroke="#231f20" stroke-width="0.5"/>
<line x1="422.2" y1="261" x2="423.7" y2="261" stroke="#231f20" stroke-width="0.5"/>
<line x1="422.2" y1="246.32" x2="423.7" y2="246.32" stroke="#231f20" stroke-width="0.5"/>
<line x1="422.2" y1="263.5" x2="423.7" y2="263.5" stroke="#231f20" stroke-width="0.5"/>
<line x1="422.2" y1="268.5" x2="423.7" y2="268.5" stroke="#231f20" stroke-width="0.5"/>
<line x1="422.2" y1="271" x2="423.7" y2="271" stroke="#231f20" stroke-width="0.5"/>
<line x1="433.5" y1="273" x2="433.5" y2="275.6" stroke="#231f20" stroke-width="1.12"/>
<line x1="437.57" y1="273" x2="437.57" y2="274.5" stroke="#231f20" stroke-width="0.5"/>
<line x1="440.19" y1="273" x2="440.19" y2="274.5" stroke="#231f20" stroke-width="0.5"/>
<line x1="442.04" y1="273" x2="442.04" y2="274.5" stroke="#231f20" stroke-width="0.5"/>
<line x1="443.48" y1="273" x2="443.48" y2="274.5" stroke="#231f20" stroke-width="0.5"/>
<line x1="444.66" y1="273" x2="444.66" y2="274.5" stroke="#231f20" stroke-width="0.5"/>
<line x1="445.65" y1="273" x2="445.65" y2="274.5" stroke="#231f20" stroke-width="0.5"/>
<line x1="446.51" y1="273" x2="446.51" y2="274.5" stroke="#231f20" stroke-width="0.5"/>
<line x1="447.27" y1="273" x2="447.27" y2="274.5" stroke="#231f20" stroke-width="0.5"/>
<line x1="447.5" y1="273" x2="447.5" y2="275.6" stroke="#231f20" stroke-width="1.12"/>
<line x1="452.42" y1="273" x2="452.42" y2="274.5" stroke="#231f20" stroke-width="0.5"/>
<line x1="455.04" y1="273" x2="455.04" y2="274.5" stroke="#231f20" stroke-width="0.5"/>
<line x1="456.89" y1="273" x2="456.89" y2="274.5" stroke="#231f20" stroke-width="0.5"/>
<line x1="458.33" y1="273" x2="458.33" y2="274.5" stroke="#231f20" stroke-width="0.5"/>
<line x1="459.51" y1="273" x2="459.51" y2="274.5" stroke="#231f20" stroke-width="0.5"/>
<line x1="460.5" y1="273" x2="460.5" y2="274.5" stroke="#231f20" stroke-width="0.5"/>
<line x1="461.36" y1="273" x2="461.36" y2="274.5" stroke="#231f20" stroke-width="0.5"/>
<line x1="462.12" y1="273" x2="462.12" y2="274.5" stroke="#231f20" stroke-width="0.5"/>
<line x1="462.5" y1="273" x2="462.5" y2="275.6" stroke="#231f20" stroke-width="1.12"/>
<line x1="467.27" y1="273" x2="467.27" y2="274.5" stroke="#231f20" stroke-width="0.5"/>
<line x1="469.89" y1="273" x2="469.89" y2="274.5" stroke="#231f20" stroke-width="0.5"/>
<line x1="471.74" y1="273" x2="471.74" y2="274.5" stroke="#231f20" stroke-width="0.5"/>
<line x1="473.18" y1="273" x2="473.18" y2="274.5" stroke="#231f20" stroke-width="0.5"/>
<line x1="474.36" y1="273" x2="474.36" y2="274.5" stroke="#231f20" stroke-width="0.5"/>
<line x1="475.35" y1="273" x2="475.35" y2="274.5" stroke="#231f20" stroke-width="0.5"/>
<line x1="476.21" y1="273" x2="476.21" y2="274.5" stroke="#231f20" stroke-width="0.5"/>
<line x1="476.97" y1="273" x2="476.97" y2="274.5" stroke="#231f20" stroke-width="0.5"/>
<line x1="477.5" y1="273" x2="477.5" y2="275.6" stroke="#231f20" stroke-width="1.12"/>
<line x1="482.12" y1="273" x2="482.12" y2="274.5" stroke="#231f20" stroke-width="0.5"/>
<line x1="484.74" y1="273" x2="484.74" y2="274.5" stroke="#231f20" stroke-width="0.5"/>
<line x1="486.59" y1="273" x2="486.59" y2="274.5" stroke="#231f20" stroke-width="0.5"/>
<line x1="488.03" y1="273" x2="488.03" y2="274.5" stroke="#231f20" stroke-width="0.5"/>
<line x1="489.21" y1="273" x2="489.21" y2="274.5" stroke="#231f20" stroke-width="0.5"/>
<line x1="490.2" y1="273" x2="490.2" y2="274.5" stroke="#231f20" stroke-width="0.5"/>
<line x1="491.06" y1="273" x2="491.06" y2="274.5" stroke="#231f20" stroke-width="0.5"/>
<line x1="491.82" y1="273" x2="491.82" y2="274.5" stroke="#231f20" stroke-width="0.5"/>
<line x1="492.5" y1="273" x2="492.5" y2="275.6" stroke="#231f20" stroke-width="1.12"/>
<line x1="426.2" y1="273" x2="426.2" y2="274.5" stroke="#231f20" stroke-width="0.5"/>
<line x1="428.7" y1="273" x2="428.7" y2="274.5" stroke="#231f20" stroke-width="0.5"/>
<line x1="430.7" y1="273" x2="430.7" y2="274.5" stroke="#231f20" stroke-width="0.5"/>
<text x="431.7" y="286.6" font-size="8.0" text-anchor="middle">10<tspan font-size="5.4" dy="-2.9">1</tspan></text>
<text x="446.55" y="286.6" font-size="8.0" text-anchor="middle">10<tspan font-size="5.4" dy="-2.9">2</tspan></text>
<text x="461.4" y="286.6" font-size="8.0" text-anchor="middle">10<tspan font-size="5.4" dy="-2.9">3</tspan></text>
<text x="476.25" y="286.6" font-size="8.0" text-anchor="middle">10<tspan font-size="5.4" dy="-2.9">4</tspan></text>
<text x="491.1" y="286.6" font-size="8.0" text-anchor="middle">10<tspan font-size="5.4" dy="-2.9">5</tspan></text>
<text x="436.2" y="263.9" font-size="7" text-anchor="middle" textLength="18.6" lengthAdjust="spacingAndGlyphs">CAR–</text>
<text x="472.9" y="263.9" font-size="7" text-anchor="middle" textLength="18.6" lengthAdjust="spacingAndGlyphs">CAR+</text>
<text x="436.3" y="270.6" font-size="7" text-anchor="middle">100</text>
<text x="473.1" y="270.6" font-size="7" text-anchor="middle">0</text>
<text x="460.85" y="193.6" font-size="10" text-anchor="middle" textLength="37.5" lengthAdjust="spacingAndGlyphs">Patient 1</text>
<text x="57" y="207.9" font-size="7.8" text-anchor="end">10</text>
<text x="57" y="206.1" font-size="5.4">5</text>
<text x="57" y="226.1" font-size="7.8" text-anchor="end">10</text>
<text x="57" y="224.3" font-size="5.4">4</text>
<text x="57" y="245.6" font-size="7.8" text-anchor="end">10</text>
<text x="57" y="243.8" font-size="5.4">3</text>
<text x="59.9" y="258.6" font-size="7.8" text-anchor="end">0</text>
<text x="57" y="268.5" font-size="7.8" text-anchor="end">−10</text>
<text x="57" y="266.7" font-size="5.4">3</text>
<line x1="65.9" y1="297.5" x2="140.2" y2="297.5" stroke="#231f20" stroke-width="1.12" stroke-linecap="square"/>
<line x1="65.9" y1="372.5" x2="140.2" y2="372.5" stroke="#231f20" stroke-width="1.12" stroke-linecap="square"/>
<line x1="65.5" y1="297.8" x2="65.5" y2="372.2" stroke="#231f20" stroke-width="1.12" stroke-linecap="square"/>
<line x1="140.5" y1="297.8" x2="140.5" y2="372.2" stroke="#231f20" stroke-width="1.12" stroke-linecap="square"/>
<line x1="65.9" y1="304.5" x2="140.2" y2="304.5" stroke="#231f20" stroke-width="1.12"/>
<line x1="65.9" y1="355.5" x2="140.2" y2="355.5" stroke="#231f20" stroke-width="1.12"/>
<line x1="90.5" y1="304.7" x2="90.5" y2="355.4" stroke="#231f20" stroke-width="1.12"/>
<line x1="63.3" y1="304.5" x2="65.9" y2="304.5" stroke="#231f20" stroke-width="1.12"/>
<line x1="63.3" y1="322.5" x2="65.9" y2="322.5" stroke="#231f20" stroke-width="1.12"/>
<line x1="63.3" y1="342.5" x2="65.9" y2="342.5" stroke="#231f20" stroke-width="1.12"/>
<line x1="63.3" y1="355.5" x2="65.9" y2="355.5" stroke="#231f20" stroke-width="1.6"/>
<line x1="63.3" y1="365.5" x2="65.9" y2="365.5" stroke="#231f20" stroke-width="1.12"/>
<line x1="64.4" y1="317.32" x2="65.9" y2="317.32" stroke="#231f20" stroke-width="0.5"/>
<line x1="64.4" y1="336.43" x2="65.9" y2="336.43" stroke="#231f20" stroke-width="0.5"/>
<line x1="64.4" y1="314.12" x2="65.9" y2="314.12" stroke="#231f20" stroke-width="0.5"/>
<line x1="64.4" y1="333" x2="65.9" y2="333" stroke="#231f20" stroke-width="0.5"/>
<line x1="64.4" y1="311.84" x2="65.9" y2="311.84" stroke="#231f20" stroke-width="0.5"/>
<line x1="64.4" y1="330.56" x2="65.9" y2="330.56" stroke="#231f20" stroke-width="0.5"/>
<line x1="64.4" y1="310.08" x2="65.9" y2="310.08" stroke="#231f20" stroke-width="0.5"/>
<line x1="64.4" y1="328.67" x2="65.9" y2="328.67" stroke="#231f20" stroke-width="0.5"/>
<line x1="64.4" y1="308.64" x2="65.9" y2="308.64" stroke="#231f20" stroke-width="0.5"/>
<line x1="64.4" y1="327.13" x2="65.9" y2="327.13" stroke="#231f20" stroke-width="0.5"/>
<line x1="64.4" y1="307.42" x2="65.9" y2="307.42" stroke="#231f20" stroke-width="0.5"/>
<line x1="64.4" y1="325.82" x2="65.9" y2="325.82" stroke="#231f20" stroke-width="0.5"/>
<line x1="64.4" y1="306.36" x2="65.9" y2="306.36" stroke="#231f20" stroke-width="0.5"/>
<line x1="64.4" y1="324.69" x2="65.9" y2="324.69" stroke="#231f20" stroke-width="0.5"/>
<line x1="64.4" y1="305.43" x2="65.9" y2="305.43" stroke="#231f20" stroke-width="0.5"/>
<line x1="64.4" y1="323.69" x2="65.9" y2="323.69" stroke="#231f20" stroke-width="0.5"/>
<line x1="64.4" y1="351.98" x2="65.9" y2="351.98" stroke="#231f20" stroke-width="0.5"/>
<line x1="64.4" y1="357.7" x2="65.9" y2="357.7" stroke="#231f20" stroke-width="0.5"/>
<line x1="64.4" y1="348.75" x2="65.9" y2="348.75" stroke="#231f20" stroke-width="0.5"/>
<line x1="64.4" y1="360.2" x2="65.9" y2="360.2" stroke="#231f20" stroke-width="0.5"/>
<line x1="64.4" y1="345.52" x2="65.9" y2="345.52" stroke="#231f20" stroke-width="0.5"/>
<line x1="64.4" y1="362.7" x2="65.9" y2="362.7" stroke="#231f20" stroke-width="0.5"/>
<line x1="64.4" y1="367.7" x2="65.9" y2="367.7" stroke="#231f20" stroke-width="0.5"/>
<line x1="64.4" y1="370.2" x2="65.9" y2="370.2" stroke="#231f20" stroke-width="0.5"/>
<line x1="75.5" y1="372.2" x2="75.5" y2="374.8" stroke="#231f20" stroke-width="1.12"/>
<line x1="79.77" y1="372.2" x2="79.77" y2="373.7" stroke="#231f20" stroke-width="0.5"/>
<line x1="82.39" y1="372.2" x2="82.39" y2="373.7" stroke="#231f20" stroke-width="0.5"/>
<line x1="84.24" y1="372.2" x2="84.24" y2="373.7" stroke="#231f20" stroke-width="0.5"/>
<line x1="85.68" y1="372.2" x2="85.68" y2="373.7" stroke="#231f20" stroke-width="0.5"/>
<line x1="86.86" y1="372.2" x2="86.86" y2="373.7" stroke="#231f20" stroke-width="0.5"/>
<line x1="87.85" y1="372.2" x2="87.85" y2="373.7" stroke="#231f20" stroke-width="0.5"/>
<line x1="88.71" y1="372.2" x2="88.71" y2="373.7" stroke="#231f20" stroke-width="0.5"/>
<line x1="89.47" y1="372.2" x2="89.47" y2="373.7" stroke="#231f20" stroke-width="0.5"/>
<line x1="90.5" y1="372.2" x2="90.5" y2="374.8" stroke="#231f20" stroke-width="1.12"/>
<line x1="94.62" y1="372.2" x2="94.62" y2="373.7" stroke="#231f20" stroke-width="0.5"/>
<line x1="97.24" y1="372.2" x2="97.24" y2="373.7" stroke="#231f20" stroke-width="0.5"/>
<line x1="99.09" y1="372.2" x2="99.09" y2="373.7" stroke="#231f20" stroke-width="0.5"/>
<line x1="100.53" y1="372.2" x2="100.53" y2="373.7" stroke="#231f20" stroke-width="0.5"/>
<line x1="101.71" y1="372.2" x2="101.71" y2="373.7" stroke="#231f20" stroke-width="0.5"/>
<line x1="102.7" y1="372.2" x2="102.7" y2="373.7" stroke="#231f20" stroke-width="0.5"/>
<line x1="103.56" y1="372.2" x2="103.56" y2="373.7" stroke="#231f20" stroke-width="0.5"/>
<line x1="104.32" y1="372.2" x2="104.32" y2="373.7" stroke="#231f20" stroke-width="0.5"/>
<line x1="105.5" y1="372.2" x2="105.5" y2="374.8" stroke="#231f20" stroke-width="1.12"/>
<line x1="109.47" y1="372.2" x2="109.47" y2="373.7" stroke="#231f20" stroke-width="0.5"/>
<line x1="112.09" y1="372.2" x2="112.09" y2="373.7" stroke="#231f20" stroke-width="0.5"/>
<line x1="113.94" y1="372.2" x2="113.94" y2="373.7" stroke="#231f20" stroke-width="0.5"/>
<line x1="115.38" y1="372.2" x2="115.38" y2="373.7" stroke="#231f20" stroke-width="0.5"/>
<line x1="116.56" y1="372.2" x2="116.56" y2="373.7" stroke="#231f20" stroke-width="0.5"/>
<line x1="117.55" y1="372.2" x2="117.55" y2="373.7" stroke="#231f20" stroke-width="0.5"/>
<line x1="118.41" y1="372.2" x2="118.41" y2="373.7" stroke="#231f20" stroke-width="0.5"/>
<line x1="119.17" y1="372.2" x2="119.17" y2="373.7" stroke="#231f20" stroke-width="0.5"/>
<line x1="119.5" y1="372.2" x2="119.5" y2="374.8" stroke="#231f20" stroke-width="1.12"/>
<line x1="124.32" y1="372.2" x2="124.32" y2="373.7" stroke="#231f20" stroke-width="0.5"/>
<line x1="126.94" y1="372.2" x2="126.94" y2="373.7" stroke="#231f20" stroke-width="0.5"/>
<line x1="128.79" y1="372.2" x2="128.79" y2="373.7" stroke="#231f20" stroke-width="0.5"/>
<line x1="130.23" y1="372.2" x2="130.23" y2="373.7" stroke="#231f20" stroke-width="0.5"/>
<line x1="131.41" y1="372.2" x2="131.41" y2="373.7" stroke="#231f20" stroke-width="0.5"/>
<line x1="132.4" y1="372.2" x2="132.4" y2="373.7" stroke="#231f20" stroke-width="0.5"/>
<line x1="133.26" y1="372.2" x2="133.26" y2="373.7" stroke="#231f20" stroke-width="0.5"/>
<line x1="134.02" y1="372.2" x2="134.02" y2="373.7" stroke="#231f20" stroke-width="0.5"/>
<line x1="134.5" y1="372.2" x2="134.5" y2="374.8" stroke="#231f20" stroke-width="1.12"/>
<line x1="68.4" y1="372.2" x2="68.4" y2="373.7" stroke="#231f20" stroke-width="0.5"/>
<line x1="70.9" y1="372.2" x2="70.9" y2="373.7" stroke="#231f20" stroke-width="0.5"/>
<line x1="72.9" y1="372.2" x2="72.9" y2="373.7" stroke="#231f20" stroke-width="0.5"/>
<text x="73.9" y="385.8" font-size="8.0" text-anchor="middle">10<tspan font-size="5.4" dy="-2.9">1</tspan></text>
<text x="88.75" y="385.8" font-size="8.0" text-anchor="middle">10<tspan font-size="5.4" dy="-2.9">2</tspan></text>
<text x="103.6" y="385.8" font-size="8.0" text-anchor="middle">10<tspan font-size="5.4" dy="-2.9">3</tspan></text>
<text x="118.45" y="385.8" font-size="8.0" text-anchor="middle">10<tspan font-size="5.4" dy="-2.9">4</tspan></text>
<text x="133.3" y="385.8" font-size="8.0" text-anchor="middle">10<tspan font-size="5.4" dy="-2.9">5</tspan></text>
<text x="78.4" y="363.1" font-size="7" text-anchor="middle" textLength="18.6" lengthAdjust="spacingAndGlyphs">CAR–</text>
<text x="115.1" y="363.1" font-size="7" text-anchor="middle" textLength="18.6" lengthAdjust="spacingAndGlyphs">CAR+</text>
<text x="78.5" y="369.8" font-size="7" text-anchor="middle">99.4</text>
<text x="115.3" y="369.8" font-size="7" text-anchor="middle">0.62</text>
<line x1="155.4" y1="297.5" x2="229.7" y2="297.5" stroke="#231f20" stroke-width="1.12" stroke-linecap="square"/>
<line x1="155.4" y1="372.5" x2="229.7" y2="372.5" stroke="#231f20" stroke-width="1.12" stroke-linecap="square"/>
<line x1="155.5" y1="297.8" x2="155.5" y2="372.2" stroke="#231f20" stroke-width="1.12" stroke-linecap="square"/>
<line x1="229.5" y1="297.8" x2="229.5" y2="372.2" stroke="#231f20" stroke-width="1.12" stroke-linecap="square"/>
<line x1="155.4" y1="304.5" x2="229.7" y2="304.5" stroke="#231f20" stroke-width="1.12"/>
<line x1="155.4" y1="355.5" x2="229.7" y2="355.5" stroke="#231f20" stroke-width="1.12"/>
<line x1="180.5" y1="304.7" x2="180.5" y2="355.4" stroke="#231f20" stroke-width="1.12"/>
<line x1="152.8" y1="304.5" x2="155.4" y2="304.5" stroke="#231f20" stroke-width="1.12"/>
<line x1="152.8" y1="322.5" x2="155.4" y2="322.5" stroke="#231f20" stroke-width="1.12"/>
<line x1="152.8" y1="342.5" x2="155.4" y2="342.5" stroke="#231f20" stroke-width="1.12"/>
<line x1="152.8" y1="355.5" x2="155.4" y2="355.5" stroke="#231f20" stroke-width="1.6"/>
<line x1="152.8" y1="365.5" x2="155.4" y2="365.5" stroke="#231f20" stroke-width="1.12"/>
<line x1="153.9" y1="317.32" x2="155.4" y2="317.32" stroke="#231f20" stroke-width="0.5"/>
<line x1="153.9" y1="336.43" x2="155.4" y2="336.43" stroke="#231f20" stroke-width="0.5"/>
<line x1="153.9" y1="314.12" x2="155.4" y2="314.12" stroke="#231f20" stroke-width="0.5"/>
<line x1="153.9" y1="333" x2="155.4" y2="333" stroke="#231f20" stroke-width="0.5"/>
<line x1="153.9" y1="311.84" x2="155.4" y2="311.84" stroke="#231f20" stroke-width="0.5"/>
<line x1="153.9" y1="330.56" x2="155.4" y2="330.56" stroke="#231f20" stroke-width="0.5"/>
<line x1="153.9" y1="310.08" x2="155.4" y2="310.08" stroke="#231f20" stroke-width="0.5"/>
<line x1="153.9" y1="328.67" x2="155.4" y2="328.67" stroke="#231f20" stroke-width="0.5"/>
<line x1="153.9" y1="308.64" x2="155.4" y2="308.64" stroke="#231f20" stroke-width="0.5"/>
<line x1="153.9" y1="327.13" x2="155.4" y2="327.13" stroke="#231f20" stroke-width="0.5"/>
<line x1="153.9" y1="307.42" x2="155.4" y2="307.42" stroke="#231f20" stroke-width="0.5"/>
<line x1="153.9" y1="325.82" x2="155.4" y2="325.82" stroke="#231f20" stroke-width="0.5"/>
<line x1="153.9" y1="306.36" x2="155.4" y2="306.36" stroke="#231f20" stroke-width="0.5"/>
<line x1="153.9" y1="324.69" x2="155.4" y2="324.69" stroke="#231f20" stroke-width="0.5"/>
<line x1="153.9" y1="305.43" x2="155.4" y2="305.43" stroke="#231f20" stroke-width="0.5"/>
<line x1="153.9" y1="323.69" x2="155.4" y2="323.69" stroke="#231f20" stroke-width="0.5"/>
<line x1="153.9" y1="351.98" x2="155.4" y2="351.98" stroke="#231f20" stroke-width="0.5"/>
<line x1="153.9" y1="357.7" x2="155.4" y2="357.7" stroke="#231f20" stroke-width="0.5"/>
<line x1="153.9" y1="348.75" x2="155.4" y2="348.75" stroke="#231f20" stroke-width="0.5"/>
<line x1="153.9" y1="360.2" x2="155.4" y2="360.2" stroke="#231f20" stroke-width="0.5"/>
<line x1="153.9" y1="345.52" x2="155.4" y2="345.52" stroke="#231f20" stroke-width="0.5"/>
<line x1="153.9" y1="362.7" x2="155.4" y2="362.7" stroke="#231f20" stroke-width="0.5"/>
<line x1="153.9" y1="367.7" x2="155.4" y2="367.7" stroke="#231f20" stroke-width="0.5"/>
<line x1="153.9" y1="370.2" x2="155.4" y2="370.2" stroke="#231f20" stroke-width="0.5"/>
<line x1="164.5" y1="372.2" x2="164.5" y2="374.8" stroke="#231f20" stroke-width="1.12"/>
<line x1="169.27" y1="372.2" x2="169.27" y2="373.7" stroke="#231f20" stroke-width="0.5"/>
<line x1="171.89" y1="372.2" x2="171.89" y2="373.7" stroke="#231f20" stroke-width="0.5"/>
<line x1="173.74" y1="372.2" x2="173.74" y2="373.7" stroke="#231f20" stroke-width="0.5"/>
<line x1="175.18" y1="372.2" x2="175.18" y2="373.7" stroke="#231f20" stroke-width="0.5"/>
<line x1="176.36" y1="372.2" x2="176.36" y2="373.7" stroke="#231f20" stroke-width="0.5"/>
<line x1="177.35" y1="372.2" x2="177.35" y2="373.7" stroke="#231f20" stroke-width="0.5"/>
<line x1="178.21" y1="372.2" x2="178.21" y2="373.7" stroke="#231f20" stroke-width="0.5"/>
<line x1="178.97" y1="372.2" x2="178.97" y2="373.7" stroke="#231f20" stroke-width="0.5"/>
<line x1="179.5" y1="372.2" x2="179.5" y2="374.8" stroke="#231f20" stroke-width="1.12"/>
<line x1="184.12" y1="372.2" x2="184.12" y2="373.7" stroke="#231f20" stroke-width="0.5"/>
<line x1="186.74" y1="372.2" x2="186.74" y2="373.7" stroke="#231f20" stroke-width="0.5"/>
<line x1="188.59" y1="372.2" x2="188.59" y2="373.7" stroke="#231f20" stroke-width="0.5"/>
<line x1="190.03" y1="372.2" x2="190.03" y2="373.7" stroke="#231f20" stroke-width="0.5"/>
<line x1="191.21" y1="372.2" x2="191.21" y2="373.7" stroke="#231f20" stroke-width="0.5"/>
<line x1="192.2" y1="372.2" x2="192.2" y2="373.7" stroke="#231f20" stroke-width="0.5"/>
<line x1="193.06" y1="372.2" x2="193.06" y2="373.7" stroke="#231f20" stroke-width="0.5"/>
<line x1="193.82" y1="372.2" x2="193.82" y2="373.7" stroke="#231f20" stroke-width="0.5"/>
<line x1="194.5" y1="372.2" x2="194.5" y2="374.8" stroke="#231f20" stroke-width="1.12"/>
<line x1="198.97" y1="372.2" x2="198.97" y2="373.7" stroke="#231f20" stroke-width="0.5"/>
<line x1="201.59" y1="372.2" x2="201.59" y2="373.7" stroke="#231f20" stroke-width="0.5"/>
<line x1="203.44" y1="372.2" x2="203.44" y2="373.7" stroke="#231f20" stroke-width="0.5"/>
<line x1="204.88" y1="372.2" x2="204.88" y2="373.7" stroke="#231f20" stroke-width="0.5"/>
<line x1="206.06" y1="372.2" x2="206.06" y2="373.7" stroke="#231f20" stroke-width="0.5"/>
<line x1="207.05" y1="372.2" x2="207.05" y2="373.7" stroke="#231f20" stroke-width="0.5"/>
<line x1="207.91" y1="372.2" x2="207.91" y2="373.7" stroke="#231f20" stroke-width="0.5"/>
<line x1="208.67" y1="372.2" x2="208.67" y2="373.7" stroke="#231f20" stroke-width="0.5"/>
<line x1="209.5" y1="372.2" x2="209.5" y2="374.8" stroke="#231f20" stroke-width="1.12"/>
<line x1="213.82" y1="372.2" x2="213.82" y2="373.7" stroke="#231f20" stroke-width="0.5"/>
<line x1="216.44" y1="372.2" x2="216.44" y2="373.7" stroke="#231f20" stroke-width="0.5"/>
<line x1="218.29" y1="372.2" x2="218.29" y2="373.7" stroke="#231f20" stroke-width="0.5"/>
<line x1="219.73" y1="372.2" x2="219.73" y2="373.7" stroke="#231f20" stroke-width="0.5"/>
<line x1="220.91" y1="372.2" x2="220.91" y2="373.7" stroke="#231f20" stroke-width="0.5"/>
<line x1="221.9" y1="372.2" x2="221.9" y2="373.7" stroke="#231f20" stroke-width="0.5"/>
<line x1="222.76" y1="372.2" x2="222.76" y2="373.7" stroke="#231f20" stroke-width="0.5"/>
<line x1="223.52" y1="372.2" x2="223.52" y2="373.7" stroke="#231f20" stroke-width="0.5"/>
<line x1="224.5" y1="372.2" x2="224.5" y2="374.8" stroke="#231f20" stroke-width="1.12"/>
<line x1="157.9" y1="372.2" x2="157.9" y2="373.7" stroke="#231f20" stroke-width="0.5"/>
<line x1="160.4" y1="372.2" x2="160.4" y2="373.7" stroke="#231f20" stroke-width="0.5"/>
<line x1="162.4" y1="372.2" x2="162.4" y2="373.7" stroke="#231f20" stroke-width="0.5"/>
<text x="163.4" y="385.8" font-size="8.0" text-anchor="middle">10<tspan font-size="5.4" dy="-2.9">1</tspan></text>
<text x="178.25" y="385.8" font-size="8.0" text-anchor="middle">10<tspan font-size="5.4" dy="-2.9">2</tspan></text>
<text x="193.1" y="385.8" font-size="8.0" text-anchor="middle">10<tspan font-size="5.4" dy="-2.9">3</tspan></text>
<text x="207.95" y="385.8" font-size="8.0" text-anchor="middle">10<tspan font-size="5.4" dy="-2.9">4</tspan></text>
<text x="222.8" y="385.8" font-size="8.0" text-anchor="middle">10<tspan font-size="5.4" dy="-2.9">5</tspan></text>
<text x="167.9" y="363.1" font-size="7" text-anchor="middle" textLength="18.6" lengthAdjust="spacingAndGlyphs">CAR–</text>
<text x="204.6" y="363.1" font-size="7" text-anchor="middle" textLength="18.6" lengthAdjust="spacingAndGlyphs">CAR+</text>
<text x="168" y="369.8" font-size="7" text-anchor="middle">3.02</text>
<text x="204.8" y="369.8" font-size="7" text-anchor="middle">96.9</text>
<line x1="244.4" y1="297.5" x2="318.7" y2="297.5" stroke="#231f20" stroke-width="1.12" stroke-linecap="square"/>
<line x1="244.4" y1="372.5" x2="318.7" y2="372.5" stroke="#231f20" stroke-width="1.12" stroke-linecap="square"/>
<line x1="244.5" y1="297.8" x2="244.5" y2="372.2" stroke="#231f20" stroke-width="1.12" stroke-linecap="square"/>
<line x1="318.5" y1="297.8" x2="318.5" y2="372.2" stroke="#231f20" stroke-width="1.12" stroke-linecap="square"/>
<line x1="244.4" y1="304.5" x2="318.7" y2="304.5" stroke="#231f20" stroke-width="1.12"/>
<line x1="244.4" y1="355.5" x2="318.7" y2="355.5" stroke="#231f20" stroke-width="1.12"/>
<line x1="269.5" y1="304.7" x2="269.5" y2="355.4" stroke="#231f20" stroke-width="1.12"/>
<line x1="241.8" y1="304.5" x2="244.4" y2="304.5" stroke="#231f20" stroke-width="1.12"/>
<line x1="241.8" y1="322.5" x2="244.4" y2="322.5" stroke="#231f20" stroke-width="1.12"/>
<line x1="241.8" y1="342.5" x2="244.4" y2="342.5" stroke="#231f20" stroke-width="1.12"/>
<line x1="241.8" y1="355.5" x2="244.4" y2="355.5" stroke="#231f20" stroke-width="1.6"/>
<line x1="241.8" y1="365.5" x2="244.4" y2="365.5" stroke="#231f20" stroke-width="1.12"/>
<line x1="242.9" y1="317.32" x2="244.4" y2="317.32" stroke="#231f20" stroke-width="0.5"/>
<line x1="242.9" y1="336.43" x2="244.4" y2="336.43" stroke="#231f20" stroke-width="0.5"/>
<line x1="242.9" y1="314.12" x2="244.4" y2="314.12" stroke="#231f20" stroke-width="0.5"/>
<line x1="242.9" y1="333" x2="244.4" y2="333" stroke="#231f20" stroke-width="0.5"/>
<line x1="242.9" y1="311.84" x2="244.4" y2="311.84" stroke="#231f20" stroke-width="0.5"/>
<line x1="242.9" y1="330.56" x2="244.4" y2="330.56" stroke="#231f20" stroke-width="0.5"/>
<line x1="242.9" y1="310.08" x2="244.4" y2="310.08" stroke="#231f20" stroke-width="0.5"/>
<line x1="242.9" y1="328.67" x2="244.4" y2="328.67" stroke="#231f20" stroke-width="0.5"/>
<line x1="242.9" y1="308.64" x2="244.4" y2="308.64" stroke="#231f20" stroke-width="0.5"/>
<line x1="242.9" y1="327.13" x2="244.4" y2="327.13" stroke="#231f20" stroke-width="0.5"/>
<line x1="242.9" y1="307.42" x2="244.4" y2="307.42" stroke="#231f20" stroke-width="0.5"/>
<line x1="242.9" y1="325.82" x2="244.4" y2="325.82" stroke="#231f20" stroke-width="0.5"/>
<line x1="242.9" y1="306.36" x2="244.4" y2="306.36" stroke="#231f20" stroke-width="0.5"/>
<line x1="242.9" y1="324.69" x2="244.4" y2="324.69" stroke="#231f20" stroke-width="0.5"/>
<line x1="242.9" y1="305.43" x2="244.4" y2="305.43" stroke="#231f20" stroke-width="0.5"/>
<line x1="242.9" y1="323.69" x2="244.4" y2="323.69" stroke="#231f20" stroke-width="0.5"/>
<line x1="242.9" y1="351.98" x2="244.4" y2="351.98" stroke="#231f20" stroke-width="0.5"/>
<line x1="242.9" y1="357.7" x2="244.4" y2="357.7" stroke="#231f20" stroke-width="0.5"/>
<line x1="242.9" y1="348.75" x2="244.4" y2="348.75" stroke="#231f20" stroke-width="0.5"/>
<line x1="242.9" y1="360.2" x2="244.4" y2="360.2" stroke="#231f20" stroke-width="0.5"/>
<line x1="242.9" y1="345.52" x2="244.4" y2="345.52" stroke="#231f20" stroke-width="0.5"/>
<line x1="242.9" y1="362.7" x2="244.4" y2="362.7" stroke="#231f20" stroke-width="0.5"/>
<line x1="242.9" y1="367.7" x2="244.4" y2="367.7" stroke="#231f20" stroke-width="0.5"/>
<line x1="242.9" y1="370.2" x2="244.4" y2="370.2" stroke="#231f20" stroke-width="0.5"/>
<line x1="253.5" y1="372.2" x2="253.5" y2="374.8" stroke="#231f20" stroke-width="1.12"/>
<line x1="258.27" y1="372.2" x2="258.27" y2="373.7" stroke="#231f20" stroke-width="0.5"/>
<line x1="260.89" y1="372.2" x2="260.89" y2="373.7" stroke="#231f20" stroke-width="0.5"/>
<line x1="262.74" y1="372.2" x2="262.74" y2="373.7" stroke="#231f20" stroke-width="0.5"/>
<line x1="264.18" y1="372.2" x2="264.18" y2="373.7" stroke="#231f20" stroke-width="0.5"/>
<line x1="265.36" y1="372.2" x2="265.36" y2="373.7" stroke="#231f20" stroke-width="0.5"/>
<line x1="266.35" y1="372.2" x2="266.35" y2="373.7" stroke="#231f20" stroke-width="0.5"/>
<line x1="267.21" y1="372.2" x2="267.21" y2="373.7" stroke="#231f20" stroke-width="0.5"/>
<line x1="267.97" y1="372.2" x2="267.97" y2="373.7" stroke="#231f20" stroke-width="0.5"/>
<line x1="268.5" y1="372.2" x2="268.5" y2="374.8" stroke="#231f20" stroke-width="1.12"/>
<line x1="273.12" y1="372.2" x2="273.12" y2="373.7" stroke="#231f20" stroke-width="0.5"/>
<line x1="275.74" y1="372.2" x2="275.74" y2="373.7" stroke="#231f20" stroke-width="0.5"/>
<line x1="277.59" y1="372.2" x2="277.59" y2="373.7" stroke="#231f20" stroke-width="0.5"/>
<line x1="279.03" y1="372.2" x2="279.03" y2="373.7" stroke="#231f20" stroke-width="0.5"/>
<line x1="280.21" y1="372.2" x2="280.21" y2="373.7" stroke="#231f20" stroke-width="0.5"/>
<line x1="281.2" y1="372.2" x2="281.2" y2="373.7" stroke="#231f20" stroke-width="0.5"/>
<line x1="282.06" y1="372.2" x2="282.06" y2="373.7" stroke="#231f20" stroke-width="0.5"/>
<line x1="282.82" y1="372.2" x2="282.82" y2="373.7" stroke="#231f20" stroke-width="0.5"/>
<line x1="283.5" y1="372.2" x2="283.5" y2="374.8" stroke="#231f20" stroke-width="1.12"/>
<line x1="287.97" y1="372.2" x2="287.97" y2="373.7" stroke="#231f20" stroke-width="0.5"/>
<line x1="290.59" y1="372.2" x2="290.59" y2="373.7" stroke="#231f20" stroke-width="0.5"/>
<line x1="292.44" y1="372.2" x2="292.44" y2="373.7" stroke="#231f20" stroke-width="0.5"/>
<line x1="293.88" y1="372.2" x2="293.88" y2="373.7" stroke="#231f20" stroke-width="0.5"/>
<line x1="295.06" y1="372.2" x2="295.06" y2="373.7" stroke="#231f20" stroke-width="0.5"/>
<line x1="296.05" y1="372.2" x2="296.05" y2="373.7" stroke="#231f20" stroke-width="0.5"/>
<line x1="296.91" y1="372.2" x2="296.91" y2="373.7" stroke="#231f20" stroke-width="0.5"/>
<line x1="297.67" y1="372.2" x2="297.67" y2="373.7" stroke="#231f20" stroke-width="0.5"/>
<line x1="298.5" y1="372.2" x2="298.5" y2="374.8" stroke="#231f20" stroke-width="1.12"/>
<line x1="302.82" y1="372.2" x2="302.82" y2="373.7" stroke="#231f20" stroke-width="0.5"/>
<line x1="305.44" y1="372.2" x2="305.44" y2="373.7" stroke="#231f20" stroke-width="0.5"/>
<line x1="307.29" y1="372.2" x2="307.29" y2="373.7" stroke="#231f20" stroke-width="0.5"/>
<line x1="308.73" y1="372.2" x2="308.73" y2="373.7" stroke="#231f20" stroke-width="0.5"/>
<line x1="309.91" y1="372.2" x2="309.91" y2="373.7" stroke="#231f20" stroke-width="0.5"/>
<line x1="310.9" y1="372.2" x2="310.9" y2="373.7" stroke="#231f20" stroke-width="0.5"/>
<line x1="311.76" y1="372.2" x2="311.76" y2="373.7" stroke="#231f20" stroke-width="0.5"/>
<line x1="312.52" y1="372.2" x2="312.52" y2="373.7" stroke="#231f20" stroke-width="0.5"/>
<line x1="313.5" y1="372.2" x2="313.5" y2="374.8" stroke="#231f20" stroke-width="1.12"/>
<line x1="246.9" y1="372.2" x2="246.9" y2="373.7" stroke="#231f20" stroke-width="0.5"/>
<line x1="249.4" y1="372.2" x2="249.4" y2="373.7" stroke="#231f20" stroke-width="0.5"/>
<line x1="251.4" y1="372.2" x2="251.4" y2="373.7" stroke="#231f20" stroke-width="0.5"/>
<text x="252.4" y="385.8" font-size="8.0" text-anchor="middle">10<tspan font-size="5.4" dy="-2.9">1</tspan></text>
<text x="267.25" y="385.8" font-size="8.0" text-anchor="middle">10<tspan font-size="5.4" dy="-2.9">2</tspan></text>
<text x="282.1" y="385.8" font-size="8.0" text-anchor="middle">10<tspan font-size="5.4" dy="-2.9">3</tspan></text>
<text x="296.95" y="385.8" font-size="8.0" text-anchor="middle">10<tspan font-size="5.4" dy="-2.9">4</tspan></text>
<text x="311.8" y="385.8" font-size="8.0" text-anchor="middle">10<tspan font-size="5.4" dy="-2.9">5</tspan></text>
<text x="256.9" y="363.1" font-size="7" text-anchor="middle" textLength="18.6" lengthAdjust="spacingAndGlyphs">CAR–</text>
<text x="293.6" y="363.1" font-size="7" text-anchor="middle" textLength="18.6" lengthAdjust="spacingAndGlyphs">CAR+</text>
<text x="257" y="369.8" font-size="7" text-anchor="middle">3.58</text>
<text x="293.8" y="369.8" font-size="7" text-anchor="middle">96.4</text>
<line x1="333.9" y1="297.5" x2="408.2" y2="297.5" stroke="#231f20" stroke-width="1.12" stroke-linecap="square"/>
<line x1="333.9" y1="372.5" x2="408.2" y2="372.5" stroke="#231f20" stroke-width="1.12" stroke-linecap="square"/>
<line x1="333.5" y1="297.8" x2="333.5" y2="372.2" stroke="#231f20" stroke-width="1.12" stroke-linecap="square"/>
<line x1="408.5" y1="297.8" x2="408.5" y2="372.2" stroke="#231f20" stroke-width="1.12" stroke-linecap="square"/>
<line x1="333.9" y1="304.5" x2="408.2" y2="304.5" stroke="#231f20" stroke-width="1.12"/>
<line x1="333.9" y1="355.5" x2="408.2" y2="355.5" stroke="#231f20" stroke-width="1.12"/>
<line x1="358.5" y1="304.7" x2="358.5" y2="355.4" stroke="#231f20" stroke-width="1.12"/>
<line x1="331.3" y1="304.5" x2="333.9" y2="304.5" stroke="#231f20" stroke-width="1.12"/>
<line x1="331.3" y1="322.5" x2="333.9" y2="322.5" stroke="#231f20" stroke-width="1.12"/>
<line x1="331.3" y1="342.5" x2="333.9" y2="342.5" stroke="#231f20" stroke-width="1.12"/>
<line x1="331.3" y1="355.5" x2="333.9" y2="355.5" stroke="#231f20" stroke-width="1.6"/>
<line x1="331.3" y1="365.5" x2="333.9" y2="365.5" stroke="#231f20" stroke-width="1.12"/>
<line x1="332.4" y1="317.32" x2="333.9" y2="317.32" stroke="#231f20" stroke-width="0.5"/>
<line x1="332.4" y1="336.43" x2="333.9" y2="336.43" stroke="#231f20" stroke-width="0.5"/>
<line x1="332.4" y1="314.12" x2="333.9" y2="314.12" stroke="#231f20" stroke-width="0.5"/>
<line x1="332.4" y1="333" x2="333.9" y2="333" stroke="#231f20" stroke-width="0.5"/>
<line x1="332.4" y1="311.84" x2="333.9" y2="311.84" stroke="#231f20" stroke-width="0.5"/>
<line x1="332.4" y1="330.56" x2="333.9" y2="330.56" stroke="#231f20" stroke-width="0.5"/>
<line x1="332.4" y1="310.08" x2="333.9" y2="310.08" stroke="#231f20" stroke-width="0.5"/>
<line x1="332.4" y1="328.67" x2="333.9" y2="328.67" stroke="#231f20" stroke-width="0.5"/>
<line x1="332.4" y1="308.64" x2="333.9" y2="308.64" stroke="#231f20" stroke-width="0.5"/>
<line x1="332.4" y1="327.13" x2="333.9" y2="327.13" stroke="#231f20" stroke-width="0.5"/>
<line x1="332.4" y1="307.42" x2="333.9" y2="307.42" stroke="#231f20" stroke-width="0.5"/>
<line x1="332.4" y1="325.82" x2="333.9" y2="325.82" stroke="#231f20" stroke-width="0.5"/>
<line x1="332.4" y1="306.36" x2="333.9" y2="306.36" stroke="#231f20" stroke-width="0.5"/>
<line x1="332.4" y1="324.69" x2="333.9" y2="324.69" stroke="#231f20" stroke-width="0.5"/>
<line x1="332.4" y1="305.43" x2="333.9" y2="305.43" stroke="#231f20" stroke-width="0.5"/>
<line x1="332.4" y1="323.69" x2="333.9" y2="323.69" stroke="#231f20" stroke-width="0.5"/>
<line x1="332.4" y1="351.98" x2="333.9" y2="351.98" stroke="#231f20" stroke-width="0.5"/>
<line x1="332.4" y1="357.7" x2="333.9" y2="357.7" stroke="#231f20" stroke-width="0.5"/>
<line x1="332.4" y1="348.75" x2="333.9" y2="348.75" stroke="#231f20" stroke-width="0.5"/>
<line x1="332.4" y1="360.2" x2="333.9" y2="360.2" stroke="#231f20" stroke-width="0.5"/>
<line x1="332.4" y1="345.52" x2="333.9" y2="345.52" stroke="#231f20" stroke-width="0.5"/>
<line x1="332.4" y1="362.7" x2="333.9" y2="362.7" stroke="#231f20" stroke-width="0.5"/>
<line x1="332.4" y1="367.7" x2="333.9" y2="367.7" stroke="#231f20" stroke-width="0.5"/>
<line x1="332.4" y1="370.2" x2="333.9" y2="370.2" stroke="#231f20" stroke-width="0.5"/>
<line x1="343.5" y1="372.2" x2="343.5" y2="374.8" stroke="#231f20" stroke-width="1.12"/>
<line x1="347.77" y1="372.2" x2="347.77" y2="373.7" stroke="#231f20" stroke-width="0.5"/>
<line x1="350.39" y1="372.2" x2="350.39" y2="373.7" stroke="#231f20" stroke-width="0.5"/>
<line x1="352.24" y1="372.2" x2="352.24" y2="373.7" stroke="#231f20" stroke-width="0.5"/>
<line x1="353.68" y1="372.2" x2="353.68" y2="373.7" stroke="#231f20" stroke-width="0.5"/>
<line x1="354.86" y1="372.2" x2="354.86" y2="373.7" stroke="#231f20" stroke-width="0.5"/>
<line x1="355.85" y1="372.2" x2="355.85" y2="373.7" stroke="#231f20" stroke-width="0.5"/>
<line x1="356.71" y1="372.2" x2="356.71" y2="373.7" stroke="#231f20" stroke-width="0.5"/>
<line x1="357.47" y1="372.2" x2="357.47" y2="373.7" stroke="#231f20" stroke-width="0.5"/>
<line x1="358.5" y1="372.2" x2="358.5" y2="374.8" stroke="#231f20" stroke-width="1.12"/>
<line x1="362.62" y1="372.2" x2="362.62" y2="373.7" stroke="#231f20" stroke-width="0.5"/>
<line x1="365.24" y1="372.2" x2="365.24" y2="373.7" stroke="#231f20" stroke-width="0.5"/>
<line x1="367.09" y1="372.2" x2="367.09" y2="373.7" stroke="#231f20" stroke-width="0.5"/>
<line x1="368.53" y1="372.2" x2="368.53" y2="373.7" stroke="#231f20" stroke-width="0.5"/>
<line x1="369.71" y1="372.2" x2="369.71" y2="373.7" stroke="#231f20" stroke-width="0.5"/>
<line x1="370.7" y1="372.2" x2="370.7" y2="373.7" stroke="#231f20" stroke-width="0.5"/>
<line x1="371.56" y1="372.2" x2="371.56" y2="373.7" stroke="#231f20" stroke-width="0.5"/>
<line x1="372.32" y1="372.2" x2="372.32" y2="373.7" stroke="#231f20" stroke-width="0.5"/>
<line x1="372.5" y1="372.2" x2="372.5" y2="374.8" stroke="#231f20" stroke-width="1.12"/>
<line x1="377.47" y1="372.2" x2="377.47" y2="373.7" stroke="#231f20" stroke-width="0.5"/>
<line x1="380.09" y1="372.2" x2="380.09" y2="373.7" stroke="#231f20" stroke-width="0.5"/>
<line x1="381.94" y1="372.2" x2="381.94" y2="373.7" stroke="#231f20" stroke-width="0.5"/>
<line x1="383.38" y1="372.2" x2="383.38" y2="373.7" stroke="#231f20" stroke-width="0.5"/>
<line x1="384.56" y1="372.2" x2="384.56" y2="373.7" stroke="#231f20" stroke-width="0.5"/>
<line x1="385.55" y1="372.2" x2="385.55" y2="373.7" stroke="#231f20" stroke-width="0.5"/>
<line x1="386.41" y1="372.2" x2="386.41" y2="373.7" stroke="#231f20" stroke-width="0.5"/>
<line x1="387.17" y1="372.2" x2="387.17" y2="373.7" stroke="#231f20" stroke-width="0.5"/>
<line x1="387.5" y1="372.2" x2="387.5" y2="374.8" stroke="#231f20" stroke-width="1.12"/>
<line x1="392.32" y1="372.2" x2="392.32" y2="373.7" stroke="#231f20" stroke-width="0.5"/>
<line x1="394.94" y1="372.2" x2="394.94" y2="373.7" stroke="#231f20" stroke-width="0.5"/>
<line x1="396.79" y1="372.2" x2="396.79" y2="373.7" stroke="#231f20" stroke-width="0.5"/>
<line x1="398.23" y1="372.2" x2="398.23" y2="373.7" stroke="#231f20" stroke-width="0.5"/>
<line x1="399.41" y1="372.2" x2="399.41" y2="373.7" stroke="#231f20" stroke-width="0.5"/>
<line x1="400.4" y1="372.2" x2="400.4" y2="373.7" stroke="#231f20" stroke-width="0.5"/>
<line x1="401.26" y1="372.2" x2="401.26" y2="373.7" stroke="#231f20" stroke-width="0.5"/>
<line x1="402.02" y1="372.2" x2="402.02" y2="373.7" stroke="#231f20" stroke-width="0.5"/>
<line x1="402.5" y1="372.2" x2="402.5" y2="374.8" stroke="#231f20" stroke-width="1.12"/>
<line x1="336.4" y1="372.2" x2="336.4" y2="373.7" stroke="#231f20" stroke-width="0.5"/>
<line x1="338.9" y1="372.2" x2="338.9" y2="373.7" stroke="#231f20" stroke-width="0.5"/>
<line x1="340.9" y1="372.2" x2="340.9" y2="373.7" stroke="#231f20" stroke-width="0.5"/>
<text x="341.9" y="385.8" font-size="8.0" text-anchor="middle">10<tspan font-size="5.4" dy="-2.9">1</tspan></text>
<text x="356.75" y="385.8" font-size="8.0" text-anchor="middle">10<tspan font-size="5.4" dy="-2.9">2</tspan></text>
<text x="371.6" y="385.8" font-size="8.0" text-anchor="middle">10<tspan font-size="5.4" dy="-2.9">3</tspan></text>
<text x="386.45" y="385.8" font-size="8.0" text-anchor="middle">10<tspan font-size="5.4" dy="-2.9">4</tspan></text>
<text x="401.3" y="385.8" font-size="8.0" text-anchor="middle">10<tspan font-size="5.4" dy="-2.9">5</tspan></text>
<text x="346.4" y="363.1" font-size="7" text-anchor="middle" textLength="18.6" lengthAdjust="spacingAndGlyphs">CAR–</text>
<text x="383.1" y="363.1" font-size="7" text-anchor="middle" textLength="18.6" lengthAdjust="spacingAndGlyphs">CAR+</text>
<text x="346.5" y="369.8" font-size="7" text-anchor="middle">3.11</text>
<text x="383.3" y="369.8" font-size="7" text-anchor="middle">96.9</text>
<line x1="423.7" y1="297.5" x2="498" y2="297.5" stroke="#231f20" stroke-width="1.12" stroke-linecap="square"/>
<line x1="423.7" y1="372.5" x2="498" y2="372.5" stroke="#231f20" stroke-width="1.12" stroke-linecap="square"/>
<line x1="423.5" y1="297.8" x2="423.5" y2="372.2" stroke="#231f20" stroke-width="1.12" stroke-linecap="square"/>
<line x1="498.5" y1="297.8" x2="498.5" y2="372.2" stroke="#231f20" stroke-width="1.12" stroke-linecap="square"/>
<line x1="423.7" y1="304.5" x2="498" y2="304.5" stroke="#231f20" stroke-width="1.12"/>
<line x1="423.7" y1="355.5" x2="498" y2="355.5" stroke="#231f20" stroke-width="1.12"/>
<line x1="448.5" y1="304.7" x2="448.5" y2="355.4" stroke="#231f20" stroke-width="1.12"/>
<line x1="421.1" y1="304.5" x2="423.7" y2="304.5" stroke="#231f20" stroke-width="1.12"/>
<line x1="421.1" y1="322.5" x2="423.7" y2="322.5" stroke="#231f20" stroke-width="1.12"/>
<line x1="421.1" y1="342.5" x2="423.7" y2="342.5" stroke="#231f20" stroke-width="1.12"/>
<line x1="421.1" y1="355.5" x2="423.7" y2="355.5" stroke="#231f20" stroke-width="1.6"/>
<line x1="421.1" y1="365.5" x2="423.7" y2="365.5" stroke="#231f20" stroke-width="1.12"/>
<line x1="422.2" y1="317.32" x2="423.7" y2="317.32" stroke="#231f20" stroke-width="0.5"/>
<line x1="422.2" y1="336.43" x2="423.7" y2="336.43" stroke="#231f20" stroke-width="0.5"/>
<line x1="422.2" y1="314.12" x2="423.7" y2="314.12" stroke="#231f20" stroke-width="0.5"/>
<line x1="422.2" y1="333" x2="423.7" y2="333" stroke="#231f20" stroke-width="0.5"/>
<line x1="422.2" y1="311.84" x2="423.7" y2="311.84" stroke="#231f20" stroke-width="0.5"/>
<line x1="422.2" y1="330.56" x2="423.7" y2="330.56" stroke="#231f20" stroke-width="0.5"/>
<line x1="422.2" y1="310.08" x2="423.7" y2="310.08" stroke="#231f20" stroke-width="0.5"/>
<line x1="422.2" y1="328.67" x2="423.7" y2="328.67" stroke="#231f20" stroke-width="0.5"/>
<line x1="422.2" y1="308.64" x2="423.7" y2="308.64" stroke="#231f20" stroke-width="0.5"/>
<line x1="422.2" y1="327.13" x2="423.7" y2="327.13" stroke="#231f20" stroke-width="0.5"/>
<line x1="422.2" y1="307.42" x2="423.7" y2="307.42" stroke="#231f20" stroke-width="0.5"/>
<line x1="422.2" y1="325.82" x2="423.7" y2="325.82" stroke="#231f20" stroke-width="0.5"/>
<line x1="422.2" y1="306.36" x2="423.7" y2="306.36" stroke="#231f20" stroke-width="0.5"/>
<line x1="422.2" y1="324.69" x2="423.7" y2="324.69" stroke="#231f20" stroke-width="0.5"/>
<line x1="422.2" y1="305.43" x2="423.7" y2="305.43" stroke="#231f20" stroke-width="0.5"/>
<line x1="422.2" y1="323.69" x2="423.7" y2="323.69" stroke="#231f20" stroke-width="0.5"/>
<line x1="422.2" y1="351.98" x2="423.7" y2="351.98" stroke="#231f20" stroke-width="0.5"/>
<line x1="422.2" y1="357.7" x2="423.7" y2="357.7" stroke="#231f20" stroke-width="0.5"/>
<line x1="422.2" y1="348.75" x2="423.7" y2="348.75" stroke="#231f20" stroke-width="0.5"/>
<line x1="422.2" y1="360.2" x2="423.7" y2="360.2" stroke="#231f20" stroke-width="0.5"/>
<line x1="422.2" y1="345.52" x2="423.7" y2="345.52" stroke="#231f20" stroke-width="0.5"/>
<line x1="422.2" y1="362.7" x2="423.7" y2="362.7" stroke="#231f20" stroke-width="0.5"/>
<line x1="422.2" y1="367.7" x2="423.7" y2="367.7" stroke="#231f20" stroke-width="0.5"/>
<line x1="422.2" y1="370.2" x2="423.7" y2="370.2" stroke="#231f20" stroke-width="0.5"/>
<line x1="433.5" y1="372.2" x2="433.5" y2="374.8" stroke="#231f20" stroke-width="1.12"/>
<line x1="437.57" y1="372.2" x2="437.57" y2="373.7" stroke="#231f20" stroke-width="0.5"/>
<line x1="440.19" y1="372.2" x2="440.19" y2="373.7" stroke="#231f20" stroke-width="0.5"/>
<line x1="442.04" y1="372.2" x2="442.04" y2="373.7" stroke="#231f20" stroke-width="0.5"/>
<line x1="443.48" y1="372.2" x2="443.48" y2="373.7" stroke="#231f20" stroke-width="0.5"/>
<line x1="444.66" y1="372.2" x2="444.66" y2="373.7" stroke="#231f20" stroke-width="0.5"/>
<line x1="445.65" y1="372.2" x2="445.65" y2="373.7" stroke="#231f20" stroke-width="0.5"/>
<line x1="446.51" y1="372.2" x2="446.51" y2="373.7" stroke="#231f20" stroke-width="0.5"/>
<line x1="447.27" y1="372.2" x2="447.27" y2="373.7" stroke="#231f20" stroke-width="0.5"/>
<line x1="447.5" y1="372.2" x2="447.5" y2="374.8" stroke="#231f20" stroke-width="1.12"/>
<line x1="452.42" y1="372.2" x2="452.42" y2="373.7" stroke="#231f20" stroke-width="0.5"/>
<line x1="455.04" y1="372.2" x2="455.04" y2="373.7" stroke="#231f20" stroke-width="0.5"/>
<line x1="456.89" y1="372.2" x2="456.89" y2="373.7" stroke="#231f20" stroke-width="0.5"/>
<line x1="458.33" y1="372.2" x2="458.33" y2="373.7" stroke="#231f20" stroke-width="0.5"/>
<line x1="459.51" y1="372.2" x2="459.51" y2="373.7" stroke="#231f20" stroke-width="0.5"/>
<line x1="460.5" y1="372.2" x2="460.5" y2="373.7" stroke="#231f20" stroke-width="0.5"/>
<line x1="461.36" y1="372.2" x2="461.36" y2="373.7" stroke="#231f20" stroke-width="0.5"/>
<line x1="462.12" y1="372.2" x2="462.12" y2="373.7" stroke="#231f20" stroke-width="0.5"/>
<line x1="462.5" y1="372.2" x2="462.5" y2="374.8" stroke="#231f20" stroke-width="1.12"/>
<line x1="467.27" y1="372.2" x2="467.27" y2="373.7" stroke="#231f20" stroke-width="0.5"/>
<line x1="469.89" y1="372.2" x2="469.89" y2="373.7" stroke="#231f20" stroke-width="0.5"/>
<line x1="471.74" y1="372.2" x2="471.74" y2="373.7" stroke="#231f20" stroke-width="0.5"/>
<line x1="473.18" y1="372.2" x2="473.18" y2="373.7" stroke="#231f20" stroke-width="0.5"/>
<line x1="474.36" y1="372.2" x2="474.36" y2="373.7" stroke="#231f20" stroke-width="0.5"/>
<line x1="475.35" y1="372.2" x2="475.35" y2="373.7" stroke="#231f20" stroke-width="0.5"/>
<line x1="476.21" y1="372.2" x2="476.21" y2="373.7" stroke="#231f20" stroke-width="0.5"/>
<line x1="476.97" y1="372.2" x2="476.97" y2="373.7" stroke="#231f20" stroke-width="0.5"/>
<line x1="477.5" y1="372.2" x2="477.5" y2="374.8" stroke="#231f20" stroke-width="1.12"/>
<line x1="482.12" y1="372.2" x2="482.12" y2="373.7" stroke="#231f20" stroke-width="0.5"/>
<line x1="484.74" y1="372.2" x2="484.74" y2="373.7" stroke="#231f20" stroke-width="0.5"/>
<line x1="486.59" y1="372.2" x2="486.59" y2="373.7" stroke="#231f20" stroke-width="0.5"/>
<line x1="488.03" y1="372.2" x2="488.03" y2="373.7" stroke="#231f20" stroke-width="0.5"/>
<line x1="489.21" y1="372.2" x2="489.21" y2="373.7" stroke="#231f20" stroke-width="0.5"/>
<line x1="490.2" y1="372.2" x2="490.2" y2="373.7" stroke="#231f20" stroke-width="0.5"/>
<line x1="491.06" y1="372.2" x2="491.06" y2="373.7" stroke="#231f20" stroke-width="0.5"/>
<line x1="491.82" y1="372.2" x2="491.82" y2="373.7" stroke="#231f20" stroke-width="0.5"/>
<line x1="492.5" y1="372.2" x2="492.5" y2="374.8" stroke="#231f20" stroke-width="1.12"/>
<line x1="426.2" y1="372.2" x2="426.2" y2="373.7" stroke="#231f20" stroke-width="0.5"/>
<line x1="428.7" y1="372.2" x2="428.7" y2="373.7" stroke="#231f20" stroke-width="0.5"/>
<line x1="430.7" y1="372.2" x2="430.7" y2="373.7" stroke="#231f20" stroke-width="0.5"/>
<text x="431.7" y="385.8" font-size="8.0" text-anchor="middle">10<tspan font-size="5.4" dy="-2.9">1</tspan></text>
<text x="446.55" y="385.8" font-size="8.0" text-anchor="middle">10<tspan font-size="5.4" dy="-2.9">2</tspan></text>
<text x="461.4" y="385.8" font-size="8.0" text-anchor="middle">10<tspan font-size="5.4" dy="-2.9">3</tspan></text>
<text x="476.25" y="385.8" font-size="8.0" text-anchor="middle">10<tspan font-size="5.4" dy="-2.9">4</tspan></text>
<text x="491.1" y="385.8" font-size="8.0" text-anchor="middle">10<tspan font-size="5.4" dy="-2.9">5</tspan></text>
<text x="436.2" y="363.1" font-size="7" text-anchor="middle" textLength="18.6" lengthAdjust="spacingAndGlyphs">CAR–</text>
<text x="472.9" y="363.1" font-size="7" text-anchor="middle" textLength="18.6" lengthAdjust="spacingAndGlyphs">CAR+</text>
<text x="436.3" y="369.8" font-size="7" text-anchor="middle">1.87</text>
<text x="473.1" y="369.8" font-size="7" text-anchor="middle">98.1</text>
<text x="57" y="307.1" font-size="7.8" text-anchor="end">10</text>
<text x="57" y="305.3" font-size="5.4">5</text>
<text x="57" y="325.3" font-size="7.8" text-anchor="end">10</text>
<text x="57" y="323.5" font-size="5.4">4</text>
<text x="57" y="344.8" font-size="7.8" text-anchor="end">10</text>
<text x="57" y="343" font-size="5.4">3</text>
<text x="59.9" y="357.8" font-size="7.8" text-anchor="end">0</text>
<text x="57" y="367.7" font-size="7.8" text-anchor="end">−10</text>
<text x="57" y="365.9" font-size="5.4">3</text>
<text transform="translate(24.9,236.2) rotate(-90)" x="0" y="0" font-size="7.4" text-anchor="middle" textLength="22.7" lengthAdjust="spacingAndGlyphs">Day −5</text>
<text transform="translate(25.2,334.9) rotate(-90)" x="0" y="0" font-size="7.4" text-anchor="middle" textLength="23.6" lengthAdjust="spacingAndGlyphs">Day 14</text>
<line x1="35.5" y1="217" x2="35.5" y2="258.9" stroke="#231f20" stroke-width="1.12"/>
<line x1="35.5" y1="315.5" x2="35.5" y2="353.6" stroke="#231f20" stroke-width="1.12"/>
<text transform="translate(37.9,287.4) rotate(-90)" x="0" y="0" font-size="6.9" text-anchor="middle" textLength="47" lengthAdjust="spacingAndGlyphs">CD3 (APC-H7)</text>
<line x1="65.4" y1="394.5" x2="263.9" y2="394.5" stroke="#231f20" stroke-width="1.12"/>
<line x1="308.9" y1="394.5" x2="497.5" y2="394.5" stroke="#231f20" stroke-width="1.12"/>
<text x="286.5" y="398.3" font-size="9.2" text-anchor="middle" textLength="32.4" lengthAdjust="spacingAndGlyphs">EGFR (PE)</text>
<line x1="66.5" y1="432.8" x2="66.5" y2="505.8" stroke="#231f20" stroke-width="1.12"/>
<line x1="64.2" y1="505.5" x2="68.6" y2="505.5" stroke="#231f20" stroke-width="1.12"/>
<line x1="63.4" y1="493.5" x2="66.2" y2="493.5" stroke="#231f20" stroke-width="1.12"/>
<text x="60.6" y="496.1" font-size="8" text-anchor="end" textLength="8.34" lengthAdjust="spacingAndGlyphs">20</text>
<line x1="63.4" y1="478.5" x2="66.2" y2="478.5" stroke="#231f20" stroke-width="1.12"/>
<text x="60.6" y="481.6" font-size="8" text-anchor="end" textLength="8.34" lengthAdjust="spacingAndGlyphs">40</text>
<line x1="63.4" y1="464.5" x2="66.2" y2="464.5" stroke="#231f20" stroke-width="1.12"/>
<text x="60.6" y="467.1" font-size="8" text-anchor="end" textLength="8.34" lengthAdjust="spacingAndGlyphs">60</text>
<line x1="63.4" y1="449.5" x2="66.2" y2="449.5" stroke="#231f20" stroke-width="1.12"/>
<text x="60.6" y="452.6" font-size="8" text-anchor="end" textLength="8.34" lengthAdjust="spacingAndGlyphs">80</text>
<line x1="63.4" y1="435.5" x2="66.2" y2="435.5" stroke="#231f20" stroke-width="1.12"/>
<text x="60.6" y="438.1" font-size="8" text-anchor="end" textLength="12.51" lengthAdjust="spacingAndGlyphs">100</text>
<line x1="64.6" y1="500.5" x2="66.2" y2="500.5" stroke="#231f20" stroke-width="1.12"/>
<line x1="64.6" y1="486.5" x2="66.2" y2="486.5" stroke="#231f20" stroke-width="1.12"/>
<line x1="64.6" y1="471.5" x2="66.2" y2="471.5" stroke="#231f20" stroke-width="1.12"/>
<line x1="64.6" y1="457.5" x2="66.2" y2="457.5" stroke="#231f20" stroke-width="1.12"/>
<line x1="64.6" y1="442.5" x2="66.2" y2="442.5" stroke="#231f20" stroke-width="1.12"/>
<line x1="66.5" y1="517.1" x2="66.5" y2="527.8" stroke="#231f20" stroke-width="1.12"/>
<line x1="64.2" y1="517.5" x2="68.6" y2="517.5" stroke="#231f20" stroke-width="1.12"/>
<line x1="63.4" y1="527.5" x2="66.2" y2="527.5" stroke="#231f20" stroke-width="1.12"/>
<line x1="64.6" y1="522.5" x2="66.2" y2="522.5" stroke="#231f20" stroke-width="1.12"/>
<text x="60.6" y="519.9" font-size="8" text-anchor="end">1</text>
<text x="60.6" y="530.1" font-size="8" text-anchor="end">0</text>
<line x1="66.2" y1="527.5" x2="286.2" y2="527.5" stroke="#231f20" stroke-width="1.12"/>
<line x1="66.5" y1="527.3" x2="66.5" y2="530" stroke="#231f20" stroke-width="1.12"/>
<text x="66.2" y="540.9" font-size="8.2" text-anchor="middle" textLength="4.28" lengthAdjust="spacingAndGlyphs">0</text>
<line x1="73.42" y1="527.3" x2="73.42" y2="528.9" stroke="#231f20" stroke-width="0.6"/>
<line x1="80.64" y1="527.3" x2="80.64" y2="528.9" stroke="#231f20" stroke-width="0.6"/>
<line x1="87.86" y1="527.3" x2="87.86" y2="528.9" stroke="#231f20" stroke-width="0.6"/>
<line x1="95.08" y1="527.3" x2="95.08" y2="528.9" stroke="#231f20" stroke-width="0.6"/>
<line x1="102.5" y1="527.3" x2="102.5" y2="530" stroke="#231f20" stroke-width="1.12"/>
<text x="102.3" y="540.9" font-size="8.2" text-anchor="middle" textLength="4.28" lengthAdjust="spacingAndGlyphs">5</text>
<line x1="109.52" y1="527.3" x2="109.52" y2="528.9" stroke="#231f20" stroke-width="0.6"/>
<line x1="116.74" y1="527.3" x2="116.74" y2="528.9" stroke="#231f20" stroke-width="0.6"/>
<line x1="123.96" y1="527.3" x2="123.96" y2="528.9" stroke="#231f20" stroke-width="0.6"/>
<line x1="131.18" y1="527.3" x2="131.18" y2="528.9" stroke="#231f20" stroke-width="0.6"/>
<line x1="138.5" y1="527.3" x2="138.5" y2="530" stroke="#231f20" stroke-width="1.12"/>
<text x="138.4" y="540.9" font-size="8.2" text-anchor="middle" textLength="8.56" lengthAdjust="spacingAndGlyphs">10</text>
<line x1="145.62" y1="527.3" x2="145.62" y2="528.9" stroke="#231f20" stroke-width="0.6"/>
<line x1="152.84" y1="527.3" x2="152.84" y2="528.9" stroke="#231f20" stroke-width="0.6"/>
<line x1="160.06" y1="527.3" x2="160.06" y2="528.9" stroke="#231f20" stroke-width="0.6"/>
<line x1="167.28" y1="527.3" x2="167.28" y2="528.9" stroke="#231f20" stroke-width="0.6"/>
<line x1="174.5" y1="527.3" x2="174.5" y2="530" stroke="#231f20" stroke-width="1.12"/>
<text x="174.5" y="540.9" font-size="8.2" text-anchor="middle" textLength="8.56" lengthAdjust="spacingAndGlyphs">15</text>
<line x1="181.72" y1="527.3" x2="181.72" y2="528.9" stroke="#231f20" stroke-width="0.6"/>
<line x1="188.94" y1="527.3" x2="188.94" y2="528.9" stroke="#231f20" stroke-width="0.6"/>
<line x1="196.16" y1="527.3" x2="196.16" y2="528.9" stroke="#231f20" stroke-width="0.6"/>
<line x1="203.38" y1="527.3" x2="203.38" y2="528.9" stroke="#231f20" stroke-width="0.6"/>
<line x1="210.5" y1="527.3" x2="210.5" y2="530" stroke="#231f20" stroke-width="1.12"/>
<text x="210.6" y="540.9" font-size="8.2" text-anchor="middle" textLength="8.56" lengthAdjust="spacingAndGlyphs">20</text>
<line x1="217.82" y1="527.3" x2="217.82" y2="528.9" stroke="#231f20" stroke-width="0.6"/>
<line x1="225.04" y1="527.3" x2="225.04" y2="528.9" stroke="#231f20" stroke-width="0.6"/>
<line x1="232.26" y1="527.3" x2="232.26" y2="528.9" stroke="#231f20" stroke-width="0.6"/>
<line x1="239.48" y1="527.3" x2="239.48" y2="528.9" stroke="#231f20" stroke-width="0.6"/>
<line x1="246.5" y1="527.3" x2="246.5" y2="530" stroke="#231f20" stroke-width="1.12"/>
<text x="246.7" y="540.9" font-size="8.2" text-anchor="middle" textLength="8.56" lengthAdjust="spacingAndGlyphs">25</text>
<line x1="253.92" y1="527.3" x2="253.92" y2="528.9" stroke="#231f20" stroke-width="0.6"/>
<line x1="261.14" y1="527.3" x2="261.14" y2="528.9" stroke="#231f20" stroke-width="0.6"/>
<line x1="268.36" y1="527.3" x2="268.36" y2="528.9" stroke="#231f20" stroke-width="0.6"/>
<line x1="275.58" y1="527.3" x2="275.58" y2="528.9" stroke="#231f20" stroke-width="0.6"/>
<line x1="282.5" y1="527.3" x2="282.5" y2="530" stroke="#231f20" stroke-width="1.12"/>
<text x="282.8" y="540.9" font-size="8.2" text-anchor="middle" textLength="8.56" lengthAdjust="spacingAndGlyphs">30</text>
<text transform="translate(41.2,479.8) rotate(-90)" x="0" y="0" font-size="8.8" text-anchor="middle" textLength="95" lengthAdjust="spacingAndGlyphs">%CD3+EGFR+ cells in blood</text>
<text x="176.6" y="553.1" font-size="9.8" text-anchor="middle" textLength="61" lengthAdjust="spacingAndGlyphs">Days post infusion</text>
<polyline points="138.4,505.6 167.4,437.4 203.8,437.1 218.2,437.4 240.3,437.2 254.6,436.6 269.2,436.6" fill="none" stroke="#4a2a5c" stroke-width="1.1" stroke-linejoin="round"/>
<polyline points="121.9,506.5 145.6,443.4 152.8,437.4 167.4,437.6" fill="none" stroke="#3ab2e4" stroke-width="1.1" stroke-linejoin="round"/>
<circle cx="145.6" cy="443.4" r="2.0" fill="#2a9ccc"/>
<circle cx="152.8" cy="437.4" r="2.0" fill="#2a9ccc"/>
<polyline points="73.3,505.8 80.6,506.1 87.7,505.7 116.6,469.3 138.5,436.9 152.8,437.6 160.5,438.4 167.4,437.8 203.8,437.6 218.2,437.9 240.3,437.6 254.6,437 269.2,437" fill="none" stroke="#4aae50" stroke-width="1.1" stroke-linejoin="round"/>
<circle cx="73.3" cy="505.8" r="2.0" fill="#2f9a3f"/>
<circle cx="80.6" cy="506.1" r="2.0" fill="#2f9a3f"/>
<circle cx="87.7" cy="505.7" r="2.0" fill="#2f9a3f"/>
<circle cx="116.6" cy="469.3" r="2.0" fill="#2f9a3f"/>
<circle cx="138.5" cy="436.9" r="2.0" fill="#2f9a3f"/>
<circle cx="160.5" cy="438.4" r="2.0" fill="#2f9a3f"/>
<circle cx="218.2" cy="438" r="2.0" fill="#2f9a3f"/>
<polyline points="116.6,504.4 138.8,440.6 160.5,438.6 167.4,438 203.8,437.6 218.2,438.1 240.3,437.8 254.6,437.1 269.2,436.9" fill="none" stroke="#f29a35" stroke-width="1.1" stroke-linejoin="round"/>
<circle cx="116.6" cy="504.4" r="2.0" fill="#e8862a"/>
<circle cx="138.8" cy="440.6" r="2.0" fill="#e8862a"/>
<circle cx="218.2" cy="438.1" r="2.0" fill="#e8862a"/>
<polyline points="138.4,505.6 167.4,437.4 203.8,437.1 218.2,437.4 240.3,437.2 254.6,436.6 269.2,436.6" fill="none" stroke="#4a2a5c" stroke-width="0.01" stroke-linejoin="round"/>
<circle cx="138.4" cy="505.6" r="2.0" fill="#2f0f3c"/>
<circle cx="167.4" cy="437.4" r="2.0" fill="#2f0f3c"/>
<circle cx="203.8" cy="437.1" r="2.0" fill="#2f0f3c"/>
<circle cx="218.2" cy="437.4" r="2.0" fill="#2f0f3c"/>
<circle cx="240.3" cy="437.2" r="2.0" fill="#2f0f3c"/>
<circle cx="254.6" cy="436.6" r="2.0" fill="#2f0f3c"/>
<circle cx="269.2" cy="436.6" r="2.0" fill="#2f0f3c"/>
<polyline points="89.3,526.2 101.2,517.4" fill="none" stroke="#f29a35" stroke-width="0.9" stroke-linejoin="round"/>
<polyline points="66.6,526.9 94.9,521 117,519.9" fill="none" stroke="#3ab2e4" stroke-width="1.1" stroke-linejoin="round"/>
<circle cx="94.9" cy="521" r="2.0" fill="#2a9ccc"/>
<circle cx="117" cy="519.9" r="2.0" fill="#2a9ccc"/>
<polyline points="87.6,527.2 117,527 126.9,517.4" fill="none" stroke="#4a2a5c" stroke-width="1.1" stroke-linejoin="round"/>
<circle cx="87.6" cy="527.2" r="2.0" fill="#2f0f3c"/>
<polyline points="66.6,527.1 73.4,526.8 87.6,527 94.9,526.9 116.5,526.9 138.4,524.4 168,520.9 218.7,522.9 268.6,526.8" fill="none" stroke="#d6337f" stroke-width="1.1" stroke-linejoin="round"/>
<circle cx="73.4" cy="526.8" r="2.0" fill="#c41d6e"/>
<circle cx="94.9" cy="526.6" r="2.0" fill="#c41d6e"/>
<circle cx="116.5" cy="526.7" r="2.0" fill="#c41d6e"/>
<circle cx="138.4" cy="524.4" r="2.0" fill="#c41d6e"/>
<circle cx="168" cy="520.9" r="2.0" fill="#c41d6e"/>
<circle cx="218.7" cy="522.9" r="2.0" fill="#c41d6e"/>
<circle cx="268.6" cy="526.8" r="2.0" fill="#c41d6e"/>
<line x1="292.3" y1="451.5" x2="305.8" y2="451.5" stroke="#d6337f" stroke-width="1.12"/>
<circle cx="299.1" cy="451.9" r="1.9" fill="#c41d6e"/>
<text x="323.6" y="454.7" font-size="8.3" text-anchor="middle" textLength="29.6" lengthAdjust="spacingAndGlyphs">Patient 3</text>
<line x1="292.3" y1="465.5" x2="305.8" y2="465.5" stroke="#4a2a5c" stroke-width="1.12"/>
<circle cx="299.1" cy="465.85" r="1.9" fill="#2f0f3c"/>
<text x="323.6" y="468.65" font-size="8.3" text-anchor="middle" textLength="29.6" lengthAdjust="spacingAndGlyphs">Patient 5</text>
<line x1="292.3" y1="479.5" x2="305.8" y2="479.5" stroke="#4aae50" stroke-width="1.12"/>
<circle cx="299.1" cy="479.8" r="1.9" fill="#2f9a3f"/>
<text x="323.6" y="482.6" font-size="8.3" text-anchor="middle" textLength="29.6" lengthAdjust="spacingAndGlyphs">Patient 4</text>
<line x1="292.3" y1="493.5" x2="305.8" y2="493.5" stroke="#f29a35" stroke-width="1.12"/>
<circle cx="299.1" cy="493.75" r="1.9" fill="#e8862a"/>
<text x="323.6" y="496.55" font-size="8.3" text-anchor="middle" textLength="29.6" lengthAdjust="spacingAndGlyphs">Patient 7</text>
<line x1="292.3" y1="507.5" x2="305.8" y2="507.5" stroke="#3ab2e4" stroke-width="1.12"/>
<circle cx="299.1" cy="507.7" r="1.9" fill="#2a9ccc"/>
<text x="323.6" y="510.5" font-size="8.3" text-anchor="middle" textLength="29.6" lengthAdjust="spacingAndGlyphs">Patient 1</text>
<line x1="67.4" y1="590.5" x2="129.8" y2="590.5" stroke="#231f20" stroke-width="1.12" stroke-linecap="square"/>
<line x1="67.4" y1="653.5" x2="129.8" y2="653.5" stroke="#231f20" stroke-width="1.12" stroke-linecap="square"/>
<line x1="67.5" y1="590.8" x2="67.5" y2="653.1" stroke="#231f20" stroke-width="1.12" stroke-linecap="square"/>
<line x1="129.5" y1="590.8" x2="129.5" y2="653.1" stroke="#231f20" stroke-width="1.12" stroke-linecap="square"/>
<line x1="64.9" y1="653.5" x2="67.4" y2="653.5" stroke="#231f20" stroke-width="1.12"/>
<line x1="64.9" y1="642.5" x2="67.4" y2="642.5" stroke="#231f20" stroke-width="1.12"/>
<line x1="64.9" y1="632.5" x2="67.4" y2="632.5" stroke="#231f20" stroke-width="1.12"/>
<line x1="64.9" y1="621.5" x2="67.4" y2="621.5" stroke="#231f20" stroke-width="1.12"/>
<line x1="64.9" y1="611.5" x2="67.4" y2="611.5" stroke="#231f20" stroke-width="1.12"/>
<line x1="64.9" y1="601.5" x2="67.4" y2="601.5" stroke="#231f20" stroke-width="1.12"/>
<line x1="64.9" y1="590.5" x2="67.4" y2="590.5" stroke="#231f20" stroke-width="1.12"/>
<line x1="129.8" y1="653.5" x2="132" y2="653.5" stroke="#231f20" stroke-width="1.12"/>
<line x1="129.8" y1="644.5" x2="132" y2="644.5" stroke="#231f20" stroke-width="1.12"/>
<line x1="129.8" y1="635.5" x2="132" y2="635.5" stroke="#231f20" stroke-width="1.12"/>
<line x1="129.8" y1="626.5" x2="132" y2="626.5" stroke="#231f20" stroke-width="1.12"/>
<line x1="129.8" y1="617.5" x2="132" y2="617.5" stroke="#231f20" stroke-width="1.12"/>
<line x1="129.8" y1="608.5" x2="132" y2="608.5" stroke="#231f20" stroke-width="1.12"/>
<line x1="129.8" y1="599.5" x2="132" y2="599.5" stroke="#231f20" stroke-width="1.12"/>
<line x1="129.8" y1="590.5" x2="132" y2="590.5" stroke="#231f20" stroke-width="1.12"/>
<line x1="67.5" y1="653.1" x2="67.5" y2="654.9" stroke="#231f20" stroke-width="1.12"/>
<line x1="76.5" y1="653.1" x2="76.5" y2="655.5" stroke="#231f20" stroke-width="1.12"/>
<text x="76.3" y="665.9" font-size="8.2" text-anchor="middle" textLength="4.28" lengthAdjust="spacingAndGlyphs">0</text>
<line x1="85.5" y1="653.1" x2="85.5" y2="654.9" stroke="#231f20" stroke-width="1.12"/>
<line x1="94.5" y1="653.1" x2="94.5" y2="655.5" stroke="#231f20" stroke-width="1.12"/>
<text x="94.1" y="665.9" font-size="8.2" text-anchor="middle" textLength="8.56" lengthAdjust="spacingAndGlyphs">10</text>
<line x1="103.5" y1="653.1" x2="103.5" y2="654.9" stroke="#231f20" stroke-width="1.12"/>
<line x1="111.5" y1="653.1" x2="111.5" y2="655.5" stroke="#231f20" stroke-width="1.12"/>
<text x="111.9" y="665.9" font-size="8.2" text-anchor="middle" textLength="8.56" lengthAdjust="spacingAndGlyphs">20</text>
<line x1="120.5" y1="653.1" x2="120.5" y2="654.9" stroke="#231f20" stroke-width="1.12"/>
<line x1="129.5" y1="653.1" x2="129.5" y2="655.5" stroke="#231f20" stroke-width="1.12"/>
<text x="129.7" y="665.9" font-size="8.2" text-anchor="middle" textLength="8.56" lengthAdjust="spacingAndGlyphs">30</text>
<line x1="146" y1="590.5" x2="208.4" y2="590.5" stroke="#231f20" stroke-width="1.12" stroke-linecap="square"/>
<line x1="146" y1="653.5" x2="208.4" y2="653.5" stroke="#231f20" stroke-width="1.12" stroke-linecap="square"/>
<line x1="146.5" y1="590.8" x2="146.5" y2="653.1" stroke="#231f20" stroke-width="1.12" stroke-linecap="square"/>
<line x1="208.5" y1="590.8" x2="208.5" y2="653.1" stroke="#231f20" stroke-width="1.12" stroke-linecap="square"/>
<line x1="143.5" y1="653.5" x2="146" y2="653.5" stroke="#231f20" stroke-width="1.12"/>
<line x1="143.5" y1="642.5" x2="146" y2="642.5" stroke="#231f20" stroke-width="1.12"/>
<line x1="143.5" y1="632.5" x2="146" y2="632.5" stroke="#231f20" stroke-width="1.12"/>
<line x1="143.5" y1="621.5" x2="146" y2="621.5" stroke="#231f20" stroke-width="1.12"/>
<line x1="143.5" y1="611.5" x2="146" y2="611.5" stroke="#231f20" stroke-width="1.12"/>
<line x1="143.5" y1="601.5" x2="146" y2="601.5" stroke="#231f20" stroke-width="1.12"/>
<line x1="143.5" y1="590.5" x2="146" y2="590.5" stroke="#231f20" stroke-width="1.12"/>
<line x1="208.4" y1="653.5" x2="210.6" y2="653.5" stroke="#231f20" stroke-width="1.12"/>
<line x1="208.4" y1="644.5" x2="210.6" y2="644.5" stroke="#231f20" stroke-width="1.12"/>
<line x1="208.4" y1="635.5" x2="210.6" y2="635.5" stroke="#231f20" stroke-width="1.12"/>
<line x1="208.4" y1="626.5" x2="210.6" y2="626.5" stroke="#231f20" stroke-width="1.12"/>
<line x1="208.4" y1="617.5" x2="210.6" y2="617.5" stroke="#231f20" stroke-width="1.12"/>
<line x1="208.4" y1="608.5" x2="210.6" y2="608.5" stroke="#231f20" stroke-width="1.12"/>
<line x1="208.4" y1="599.5" x2="210.6" y2="599.5" stroke="#231f20" stroke-width="1.12"/>
<line x1="208.4" y1="590.5" x2="210.6" y2="590.5" stroke="#231f20" stroke-width="1.12"/>
<line x1="146.5" y1="653.1" x2="146.5" y2="654.9" stroke="#231f20" stroke-width="1.12"/>
<line x1="154.5" y1="653.1" x2="154.5" y2="655.5" stroke="#231f20" stroke-width="1.12"/>
<text x="154.9" y="665.9" font-size="8.2" text-anchor="middle" textLength="4.28" lengthAdjust="spacingAndGlyphs">0</text>
<line x1="163.5" y1="653.1" x2="163.5" y2="654.9" stroke="#231f20" stroke-width="1.12"/>
<line x1="172.5" y1="653.1" x2="172.5" y2="655.5" stroke="#231f20" stroke-width="1.12"/>
<text x="172.7" y="665.9" font-size="8.2" text-anchor="middle" textLength="8.56" lengthAdjust="spacingAndGlyphs">10</text>
<line x1="181.5" y1="653.1" x2="181.5" y2="654.9" stroke="#231f20" stroke-width="1.12"/>
<line x1="190.5" y1="653.1" x2="190.5" y2="655.5" stroke="#231f20" stroke-width="1.12"/>
<text x="190.5" y="665.9" font-size="8.2" text-anchor="middle" textLength="8.56" lengthAdjust="spacingAndGlyphs">20</text>
<line x1="199.5" y1="653.1" x2="199.5" y2="654.9" stroke="#231f20" stroke-width="1.12"/>
<line x1="208.5" y1="653.1" x2="208.5" y2="655.5" stroke="#231f20" stroke-width="1.12"/>
<text x="208.3" y="665.9" font-size="8.2" text-anchor="middle" textLength="8.56" lengthAdjust="spacingAndGlyphs">30</text>
<line x1="224.6" y1="590.5" x2="287" y2="590.5" stroke="#231f20" stroke-width="1.12" stroke-linecap="square"/>
<line x1="224.6" y1="653.5" x2="287" y2="653.5" stroke="#231f20" stroke-width="1.12" stroke-linecap="square"/>
<line x1="224.5" y1="590.8" x2="224.5" y2="653.1" stroke="#231f20" stroke-width="1.12" stroke-linecap="square"/>
<line x1="286.5" y1="590.8" x2="286.5" y2="653.1" stroke="#231f20" stroke-width="1.12" stroke-linecap="square"/>
<line x1="222.1" y1="653.5" x2="224.6" y2="653.5" stroke="#231f20" stroke-width="1.12"/>
<line x1="222.1" y1="642.5" x2="224.6" y2="642.5" stroke="#231f20" stroke-width="1.12"/>
<line x1="222.1" y1="632.5" x2="224.6" y2="632.5" stroke="#231f20" stroke-width="1.12"/>
<line x1="222.1" y1="621.5" x2="224.6" y2="621.5" stroke="#231f20" stroke-width="1.12"/>
<line x1="222.1" y1="611.5" x2="224.6" y2="611.5" stroke="#231f20" stroke-width="1.12"/>
<line x1="222.1" y1="601.5" x2="224.6" y2="601.5" stroke="#231f20" stroke-width="1.12"/>
<line x1="222.1" y1="590.5" x2="224.6" y2="590.5" stroke="#231f20" stroke-width="1.12"/>
<line x1="287" y1="653.5" x2="289.2" y2="653.5" stroke="#231f20" stroke-width="1.12"/>
<line x1="287" y1="644.5" x2="289.2" y2="644.5" stroke="#231f20" stroke-width="1.12"/>
<line x1="287" y1="635.5" x2="289.2" y2="635.5" stroke="#231f20" stroke-width="1.12"/>
<line x1="287" y1="626.5" x2="289.2" y2="626.5" stroke="#231f20" stroke-width="1.12"/>
<line x1="287" y1="617.5" x2="289.2" y2="617.5" stroke="#231f20" stroke-width="1.12"/>
<line x1="287" y1="608.5" x2="289.2" y2="608.5" stroke="#231f20" stroke-width="1.12"/>
<line x1="287" y1="599.5" x2="289.2" y2="599.5" stroke="#231f20" stroke-width="1.12"/>
<line x1="287" y1="590.5" x2="289.2" y2="590.5" stroke="#231f20" stroke-width="1.12"/>
<line x1="224.5" y1="653.1" x2="224.5" y2="654.9" stroke="#231f20" stroke-width="1.12"/>
<line x1="233.5" y1="653.1" x2="233.5" y2="655.5" stroke="#231f20" stroke-width="1.12"/>
<text x="233.5" y="665.9" font-size="8.2" text-anchor="middle" textLength="4.28" lengthAdjust="spacingAndGlyphs">0</text>
<line x1="242.5" y1="653.1" x2="242.5" y2="654.9" stroke="#231f20" stroke-width="1.12"/>
<line x1="251.5" y1="653.1" x2="251.5" y2="655.5" stroke="#231f20" stroke-width="1.12"/>
<text x="251.3" y="665.9" font-size="8.2" text-anchor="middle" textLength="8.56" lengthAdjust="spacingAndGlyphs">10</text>
<line x1="260.5" y1="653.1" x2="260.5" y2="654.9" stroke="#231f20" stroke-width="1.12"/>
<line x1="269.5" y1="653.1" x2="269.5" y2="655.5" stroke="#231f20" stroke-width="1.12"/>
<text x="269.1" y="665.9" font-size="8.2" text-anchor="middle" textLength="8.56" lengthAdjust="spacingAndGlyphs">20</text>
<line x1="278.5" y1="653.1" x2="278.5" y2="654.9" stroke="#231f20" stroke-width="1.12"/>
<line x1="286.5" y1="653.1" x2="286.5" y2="655.5" stroke="#231f20" stroke-width="1.12"/>
<text x="286.9" y="665.9" font-size="8.2" text-anchor="middle" textLength="8.56" lengthAdjust="spacingAndGlyphs">30</text>
<line x1="303.2" y1="590.5" x2="365.6" y2="590.5" stroke="#231f20" stroke-width="1.12" stroke-linecap="square"/>
<line x1="303.2" y1="653.5" x2="365.6" y2="653.5" stroke="#231f20" stroke-width="1.12" stroke-linecap="square"/>
<line x1="303.5" y1="590.8" x2="303.5" y2="653.1" stroke="#231f20" stroke-width="1.12" stroke-linecap="square"/>
<line x1="365.5" y1="590.8" x2="365.5" y2="653.1" stroke="#231f20" stroke-width="1.12" stroke-linecap="square"/>
<line x1="300.7" y1="653.5" x2="303.2" y2="653.5" stroke="#231f20" stroke-width="1.12"/>
<line x1="300.7" y1="642.5" x2="303.2" y2="642.5" stroke="#231f20" stroke-width="1.12"/>
<line x1="300.7" y1="632.5" x2="303.2" y2="632.5" stroke="#231f20" stroke-width="1.12"/>
<line x1="300.7" y1="621.5" x2="303.2" y2="621.5" stroke="#231f20" stroke-width="1.12"/>
<line x1="300.7" y1="611.5" x2="303.2" y2="611.5" stroke="#231f20" stroke-width="1.12"/>
<line x1="300.7" y1="601.5" x2="303.2" y2="601.5" stroke="#231f20" stroke-width="1.12"/>
<line x1="300.7" y1="590.5" x2="303.2" y2="590.5" stroke="#231f20" stroke-width="1.12"/>
<line x1="365.6" y1="653.5" x2="367.8" y2="653.5" stroke="#231f20" stroke-width="1.12"/>
<line x1="365.6" y1="644.5" x2="367.8" y2="644.5" stroke="#231f20" stroke-width="1.12"/>
<line x1="365.6" y1="635.5" x2="367.8" y2="635.5" stroke="#231f20" stroke-width="1.12"/>
<line x1="365.6" y1="626.5" x2="367.8" y2="626.5" stroke="#231f20" stroke-width="1.12"/>
<line x1="365.6" y1="617.5" x2="367.8" y2="617.5" stroke="#231f20" stroke-width="1.12"/>
<line x1="365.6" y1="608.5" x2="367.8" y2="608.5" stroke="#231f20" stroke-width="1.12"/>
<line x1="365.6" y1="599.5" x2="367.8" y2="599.5" stroke="#231f20" stroke-width="1.12"/>
<line x1="365.6" y1="590.5" x2="367.8" y2="590.5" stroke="#231f20" stroke-width="1.12"/>
<line x1="303.5" y1="653.1" x2="303.5" y2="654.9" stroke="#231f20" stroke-width="1.12"/>
<line x1="312.5" y1="653.1" x2="312.5" y2="655.5" stroke="#231f20" stroke-width="1.12"/>
<text x="312.1" y="665.9" font-size="8.2" text-anchor="middle" textLength="4.28" lengthAdjust="spacingAndGlyphs">0</text>
<line x1="320.5" y1="653.1" x2="320.5" y2="654.9" stroke="#231f20" stroke-width="1.12"/>
<line x1="329.5" y1="653.1" x2="329.5" y2="655.5" stroke="#231f20" stroke-width="1.12"/>
<text x="329.9" y="665.9" font-size="8.2" text-anchor="middle" textLength="8.56" lengthAdjust="spacingAndGlyphs">10</text>
<line x1="338.5" y1="653.1" x2="338.5" y2="654.9" stroke="#231f20" stroke-width="1.12"/>
<line x1="347.5" y1="653.1" x2="347.5" y2="655.5" stroke="#231f20" stroke-width="1.12"/>
<text x="347.7" y="665.9" font-size="8.2" text-anchor="middle" textLength="8.56" lengthAdjust="spacingAndGlyphs">20</text>
<line x1="356.5" y1="653.1" x2="356.5" y2="654.9" stroke="#231f20" stroke-width="1.12"/>
<line x1="365.5" y1="653.1" x2="365.5" y2="655.5" stroke="#231f20" stroke-width="1.12"/>
<text x="365.5" y="665.9" font-size="8.2" text-anchor="middle" textLength="8.56" lengthAdjust="spacingAndGlyphs">30</text>
<line x1="381.8" y1="590.5" x2="444.2" y2="590.5" stroke="#231f20" stroke-width="1.12" stroke-linecap="square"/>
<line x1="381.8" y1="653.5" x2="444.2" y2="653.5" stroke="#231f20" stroke-width="1.12" stroke-linecap="square"/>
<line x1="381.5" y1="590.8" x2="381.5" y2="653.1" stroke="#231f20" stroke-width="1.12" stroke-linecap="square"/>
<line x1="444.5" y1="590.8" x2="444.5" y2="653.1" stroke="#231f20" stroke-width="1.12" stroke-linecap="square"/>
<line x1="379.3" y1="653.5" x2="381.8" y2="653.5" stroke="#231f20" stroke-width="1.12"/>
<line x1="379.3" y1="642.5" x2="381.8" y2="642.5" stroke="#231f20" stroke-width="1.12"/>
<line x1="379.3" y1="632.5" x2="381.8" y2="632.5" stroke="#231f20" stroke-width="1.12"/>
<line x1="379.3" y1="621.5" x2="381.8" y2="621.5" stroke="#231f20" stroke-width="1.12"/>
<line x1="379.3" y1="611.5" x2="381.8" y2="611.5" stroke="#231f20" stroke-width="1.12"/>
<line x1="379.3" y1="601.5" x2="381.8" y2="601.5" stroke="#231f20" stroke-width="1.12"/>
<line x1="379.3" y1="590.5" x2="381.8" y2="590.5" stroke="#231f20" stroke-width="1.12"/>
<line x1="444.2" y1="653.5" x2="446.4" y2="653.5" stroke="#231f20" stroke-width="1.12"/>
<line x1="444.2" y1="644.5" x2="446.4" y2="644.5" stroke="#231f20" stroke-width="1.12"/>
<line x1="444.2" y1="635.5" x2="446.4" y2="635.5" stroke="#231f20" stroke-width="1.12"/>
<line x1="444.2" y1="626.5" x2="446.4" y2="626.5" stroke="#231f20" stroke-width="1.12"/>
<line x1="444.2" y1="617.5" x2="446.4" y2="617.5" stroke="#231f20" stroke-width="1.12"/>
<line x1="444.2" y1="608.5" x2="446.4" y2="608.5" stroke="#231f20" stroke-width="1.12"/>
<line x1="444.2" y1="599.5" x2="446.4" y2="599.5" stroke="#231f20" stroke-width="1.12"/>
<line x1="444.2" y1="590.5" x2="446.4" y2="590.5" stroke="#231f20" stroke-width="1.12"/>
<line x1="381.5" y1="653.1" x2="381.5" y2="654.9" stroke="#231f20" stroke-width="1.12"/>
<line x1="390.5" y1="653.1" x2="390.5" y2="655.5" stroke="#231f20" stroke-width="1.12"/>
<text x="390.7" y="665.9" font-size="8.2" text-anchor="middle" textLength="4.28" lengthAdjust="spacingAndGlyphs">0</text>
<line x1="399.5" y1="653.1" x2="399.5" y2="654.9" stroke="#231f20" stroke-width="1.12"/>
<line x1="408.5" y1="653.1" x2="408.5" y2="655.5" stroke="#231f20" stroke-width="1.12"/>
<text x="408.5" y="665.9" font-size="8.2" text-anchor="middle" textLength="8.56" lengthAdjust="spacingAndGlyphs">10</text>
<line x1="417.5" y1="653.1" x2="417.5" y2="654.9" stroke="#231f20" stroke-width="1.12"/>
<line x1="426.5" y1="653.1" x2="426.5" y2="655.5" stroke="#231f20" stroke-width="1.12"/>
<text x="426.3" y="665.9" font-size="8.2" text-anchor="middle" textLength="8.56" lengthAdjust="spacingAndGlyphs">20</text>
<line x1="435.5" y1="653.1" x2="435.5" y2="654.9" stroke="#231f20" stroke-width="1.12"/>
<line x1="444.5" y1="653.1" x2="444.5" y2="655.5" stroke="#231f20" stroke-width="1.12"/>
<text x="444.1" y="665.9" font-size="8.2" text-anchor="middle" textLength="8.56" lengthAdjust="spacingAndGlyphs">30</text>
<text x="58.2" y="656" font-size="7.9" text-anchor="end" textLength="17.4" lengthAdjust="spacingAndGlyphs">1×10</text>
<text x="58.3" y="653" font-size="5.2">−1</text>
<text x="58.2" y="645.62" font-size="7.9" text-anchor="end" textLength="17.4" lengthAdjust="spacingAndGlyphs">1×10</text>
<text x="58.3" y="642.62" font-size="5.2">0</text>
<text x="58.2" y="635.23" font-size="7.9" text-anchor="end" textLength="17.4" lengthAdjust="spacingAndGlyphs">1×10</text>
<text x="58.3" y="632.23" font-size="5.2">1</text>
<text x="58.2" y="624.85" font-size="7.9" text-anchor="end" textLength="17.4" lengthAdjust="spacingAndGlyphs">1×10</text>
<text x="58.3" y="621.85" font-size="5.2">2</text>
<text x="58.2" y="614.47" font-size="7.9" text-anchor="end" textLength="17.4" lengthAdjust="spacingAndGlyphs">1×10</text>
<text x="58.3" y="611.47" font-size="5.2">3</text>
<text x="58.2" y="604.08" font-size="7.9" text-anchor="end" textLength="17.4" lengthAdjust="spacingAndGlyphs">1×10</text>
<text x="58.3" y="601.08" font-size="5.2">4</text>
<text x="58.2" y="593.7" font-size="7.9" text-anchor="end" textLength="17.4" lengthAdjust="spacingAndGlyphs">1×10</text>
<text x="58.3" y="590.7" font-size="5.2">5</text>
<text x="450.0" y="656" font-size="7.9" textLength="17.4" lengthAdjust="spacingAndGlyphs">1×10</text>
<text x="467.6" y="653" font-size="5.2">−1</text>
<text x="450.0" y="647.1" font-size="7.9" textLength="17.4" lengthAdjust="spacingAndGlyphs">1×10</text>
<text x="467.6" y="644.1" font-size="5.2">0</text>
<text x="450.0" y="638.2" font-size="7.9" textLength="17.4" lengthAdjust="spacingAndGlyphs">1×10</text>
<text x="467.6" y="635.2" font-size="5.2">1</text>
<text x="450.0" y="629.3" font-size="7.9" textLength="17.4" lengthAdjust="spacingAndGlyphs">1×10</text>
<text x="467.6" y="626.3" font-size="5.2">2</text>
<text x="450.0" y="620.4" font-size="7.9" textLength="17.4" lengthAdjust="spacingAndGlyphs">1×10</text>
<text x="467.6" y="617.4" font-size="5.2">3</text>
<text x="450.0" y="611.5" font-size="7.9" textLength="17.4" lengthAdjust="spacingAndGlyphs">1×10</text>
<text x="467.6" y="608.5" font-size="5.2">4</text>
<text x="450.0" y="602.6" font-size="7.9" textLength="17.4" lengthAdjust="spacingAndGlyphs">1×10</text>
<text x="467.6" y="599.6" font-size="5.2">5</text>
<text x="450.0" y="593.7" font-size="7.9" textLength="17.4" lengthAdjust="spacingAndGlyphs">1×10</text>
<text x="467.6" y="590.7" font-size="5.2">6</text>
<text transform="translate(21.2,613.5) rotate(-90)" x="0" y="0" font-size="7.6" text-anchor="middle" textLength="40.5" lengthAdjust="spacingAndGlyphs">CAR37 cells/</text>
<text transform="translate(32,613.7) rotate(-90)" x="0" y="0" font-size="7.6" text-anchor="middle" textLength="27.7" lengthAdjust="spacingAndGlyphs">μl blood</text>
<line x1="23.5" y1="638.5" x2="23.5" y2="651.4" stroke="#231f20" stroke-width="1.12"/>
<circle cx="23.9" cy="644.9" r="2.2" fill="#111"/>
<line x1="488.5" y1="596.2" x2="488.5" y2="608.9" stroke="#231f20" stroke-width="1.12"/>
<circle cx="488.7" cy="602.9" r="2.0" fill="#fff" stroke="#111" stroke-width="0.9"/>
<text transform="translate(493.4,630.8) rotate(90)" x="0" y="0" font-size="8" text-anchor="middle" textLength="25" lengthAdjust="spacingAndGlyphs">Copies/</text>
<text transform="translate(481.6,630.8) rotate(90)" x="0" y="0" font-size="8" text-anchor="middle" textLength="34.4" lengthAdjust="spacingAndGlyphs">ug of DNA</text>
<line x1="67.7" y1="675.5" x2="221.9" y2="675.5" stroke="#231f20" stroke-width="1.2"/>
<line x1="288.9" y1="675.5" x2="443.8" y2="675.5" stroke="#231f20" stroke-width="1.2"/>
<text x="255.6" y="678.7" font-size="9.8" text-anchor="middle" textLength="60.5" lengthAdjust="spacingAndGlyphs">Days post infusion</text>
<polyline points="83.1,653 83.4,646.3 88.9,645.1 94.2,641.7 101.5,639.2 113.5,638.6 116.6,653" fill="none" stroke="#d81b7d" stroke-width="0.9" stroke-linejoin="round"/>
<circle cx="83.4" cy="646.3" r="1.9" fill="#d81b7d"/>
<circle cx="88.9" cy="645.1" r="1.9" fill="#d81b7d"/>
<circle cx="94.2" cy="641.7" r="1.9" fill="#d81b7d"/>
<circle cx="101.5" cy="639.2" r="1.9" fill="#d81b7d"/>
<circle cx="113.5" cy="638.6" r="1.9" fill="#d81b7d"/>
<polyline points="98.5,653 101.2,627.4 105.8,653" fill="none" stroke="#d81b7d" stroke-width="0.9" stroke-linejoin="round"/>
<circle cx="101.2" cy="627.4" r="1.9" fill="#fff" stroke="#d81b7d" stroke-width="0.8"/>
<polyline points="165.2,653 167.5,636.4 172.7,628.7 179.6,597.8 191.5,597.4 204.6,597.4" fill="none" stroke="#6a2d82" stroke-width="0.9" stroke-linejoin="round"/>
<circle cx="167.5" cy="636.4" r="1.9" fill="#fff" stroke="#6a2d82" stroke-width="0.8"/>
<circle cx="172.7" cy="628.7" r="1.9" fill="#fff" stroke="#6a2d82" stroke-width="0.8"/>
<circle cx="179.6" cy="597.8" r="1.9" fill="#fff" stroke="#6a2d82" stroke-width="0.8"/>
<circle cx="191.5" cy="597.4" r="1.9" fill="#fff" stroke="#6a2d82" stroke-width="0.8"/>
<circle cx="204.6" cy="597.4" r="1.9" fill="#fff" stroke="#6a2d82" stroke-width="0.8"/>
<polyline points="171.9,653 172.7,638.2 180,608.9 188.1,607.4 191.9,608.3 197.3,613.2 201.2,616.2 204.6,621.8" fill="none" stroke="#6a2d82" stroke-width="0.9" stroke-linejoin="round"/>
<circle cx="172.7" cy="638.2" r="1.9" fill="#4a1260"/>
<circle cx="180" cy="608.9" r="1.9" fill="#4a1260"/>
<circle cx="188.1" cy="607.4" r="1.9" fill="#4a1260"/>
<circle cx="191.9" cy="608.3" r="1.9" fill="#4a1260"/>
<circle cx="197.3" cy="613.2" r="1.9" fill="#4a1260"/>
<circle cx="201.2" cy="616.2" r="1.9" fill="#4a1260"/>
<circle cx="204.6" cy="621.8" r="1.9" fill="#4a1260"/>
<polyline points="236.6,653 237,627.7 245.4,615.8 250.8,597.5 257.9,598.4 270.4,598.5 283.1,598.3" fill="none" stroke="#3aa843" stroke-width="0.9" stroke-linejoin="round"/>
<circle cx="237" cy="627.7" r="1.9" fill="#fff" stroke="#3aa843" stroke-width="0.8"/>
<circle cx="245.4" cy="615.8" r="1.9" fill="#fff" stroke="#3aa843" stroke-width="0.8"/>
<circle cx="250.8" cy="597.5" r="1.9" fill="#fff" stroke="#3aa843" stroke-width="0.8"/>
<circle cx="270.4" cy="598.5" r="1.9" fill="#fff" stroke="#3aa843" stroke-width="0.8"/>
<circle cx="283.1" cy="598.3" r="1.9" fill="#fff" stroke="#3aa843" stroke-width="0.8"/>
<polyline points="235.3,653 235.1,648.2 251.2,615.2 257.9,598.8 270.4,614 282.7,626.2" fill="none" stroke="#3aa843" stroke-width="0.9" stroke-linejoin="round"/>
<circle cx="235.1" cy="648.2" r="1.9" fill="#3aa843"/>
<circle cx="251.2" cy="615.2" r="1.9" fill="#3aa843"/>
<circle cx="257.9" cy="598.8" r="1.9" fill="#3aa843"/>
<circle cx="270.4" cy="614" r="1.9" fill="#3aa843"/>
<circle cx="282.7" cy="626.2" r="1.9" fill="#3aa843"/>
<polyline points="320.2,653 324.2,595.8 329.4,597.8 336.5,597 349.2,597.4 361.5,598.3" fill="none" stroke="#f0a020" stroke-width="0.9" stroke-linejoin="round"/>
<circle cx="324.2" cy="595.8" r="1.9" fill="#fff" stroke="#f0a020" stroke-width="0.8"/>
<circle cx="329.4" cy="597.8" r="1.9" fill="#fff" stroke="#f0a020" stroke-width="0.8"/>
<circle cx="336.5" cy="597" r="1.9" fill="#fff" stroke="#f0a020" stroke-width="0.8"/>
<circle cx="349.2" cy="597.4" r="1.9" fill="#fff" stroke="#f0a020" stroke-width="0.8"/>
<circle cx="361.5" cy="598.3" r="1.9" fill="#fff" stroke="#f0a020" stroke-width="0.8"/>
<polyline points="322.7,653 324.6,642.8 329.4,623.9 336.5,614.3 349.2,618.5 361.5,615.7" fill="none" stroke="#f0a020" stroke-width="0.9" stroke-linejoin="round"/>
<circle cx="324.6" cy="642.8" r="1.9" fill="#f0a020"/>
<circle cx="329.4" cy="623.9" r="1.9" fill="#f0a020"/>
<circle cx="336.5" cy="614.3" r="1.9" fill="#f0a020"/>
<circle cx="349.2" cy="618.5" r="1.9" fill="#f0a020"/>
<circle cx="361.5" cy="615.7" r="1.9" fill="#f0a020"/>
<polyline points="406.9,653 410.3,609.8 411.2,627.5" fill="none" stroke="#2aa8d8" stroke-width="0.8" stroke-linejoin="round"/>
<circle cx="410.3" cy="609.8" r="1.9" fill="#fff" stroke="#2aa8d8" stroke-width="0.8"/>
<polyline points="396.2,653.1 397.9,653.1 403.1,649.9 410.3,628.4 412,627.7 413.9,619.6 415.3,618.3 424.4,613.8 428.2,616.9" fill="none" stroke="#2aa8d8" stroke-width="0.9" stroke-linejoin="round"/>
<circle cx="397.9" cy="653.1" r="1.9" fill="#2aa8d8"/>
<circle cx="403.1" cy="649.9" r="1.9" fill="#2aa8d8"/>
<circle cx="410.3" cy="628.4" r="1.9" fill="#2aa8d8"/>
<circle cx="412" cy="627.7" r="1.9" fill="#2aa8d8"/>
<circle cx="413.9" cy="619.6" r="1.9" fill="#2aa8d8"/>
<circle cx="415.3" cy="618.3" r="1.9" fill="#2aa8d8"/>
<circle cx="424.4" cy="613.8" r="1.9" fill="#2aa8d8"/>
<circle cx="428.2" cy="616.9" r="1.9" fill="#2aa8d8"/>
</svg>
</body></html>
